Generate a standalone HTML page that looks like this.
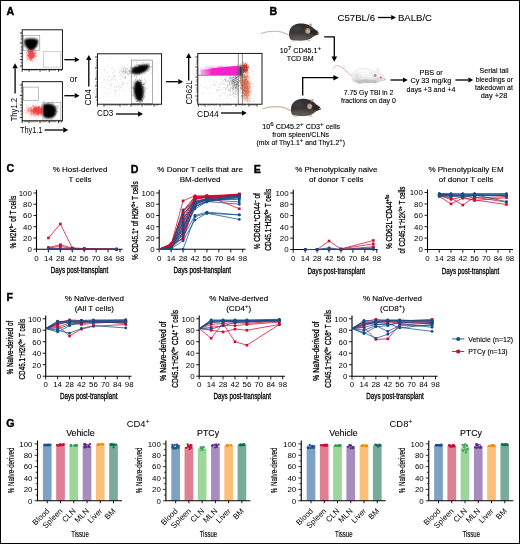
<!DOCTYPE html>
<html><head><meta charset="utf-8"><style>html,body{margin:0;padding:0;background:#fff;overflow:hidden}svg{display:block;will-change:transform}</style></head>
<body><svg width="520" height="544" viewBox="0 0 520 544" font-family="Liberation Sans, sans-serif">
<rect x="0.5" y="0.5" width="519" height="543" fill="#fff" stroke="#000" stroke-width="1"/>
<text x="6.5" y="15.2" font-size="10.6" text-anchor="start" font-weight="bold" fill="#000" stroke="#000" stroke-width="0.4">A</text>
<text x="269.5" y="15.2" font-size="10.6" text-anchor="start" font-weight="bold" fill="#000" stroke="#000" stroke-width="0.4">B</text>
<text x="6.5" y="172.3" font-size="10.6" text-anchor="start" font-weight="bold" fill="#000" stroke="#000" stroke-width="0.4">C</text>
<text x="130.8" y="172.5" font-size="10.6" text-anchor="start" font-weight="bold" fill="#000" stroke="#000" stroke-width="0.4">D</text>
<text x="253.8" y="172.8" font-size="10.6" text-anchor="start" font-weight="bold" fill="#000" stroke="#000" stroke-width="0.4">E</text>
<text x="6.5" y="300.6" font-size="10.6" text-anchor="start" font-weight="bold" fill="#000" stroke="#000" stroke-width="0.4">F</text>
<text x="6.3" y="427" font-size="10.6" text-anchor="start" font-weight="bold" fill="#000" stroke="#000" stroke-width="0.4">G</text>
<path d="M36.5 189.8 V249.2 H122.5" fill="none" stroke="#000" stroke-width="1.1"/>
<line x1="33.5" y1="249.20" x2="36.5" y2="249.20" stroke="#000" stroke-width="0.9"/>
<text x="31.90" y="252.00" font-size="7.9" text-anchor="end" font-weight="normal" fill="#000" >0</text>
<line x1="33.5" y1="237.96" x2="36.5" y2="237.96" stroke="#000" stroke-width="0.9"/>
<text x="31.90" y="240.76" font-size="7.9" text-anchor="end" font-weight="normal" fill="#000" >20</text>
<line x1="33.5" y1="226.72" x2="36.5" y2="226.72" stroke="#000" stroke-width="0.9"/>
<text x="31.90" y="229.52" font-size="7.9" text-anchor="end" font-weight="normal" fill="#000" >40</text>
<line x1="33.5" y1="215.48" x2="36.5" y2="215.48" stroke="#000" stroke-width="0.9"/>
<text x="31.90" y="218.28" font-size="7.9" text-anchor="end" font-weight="normal" fill="#000" >60</text>
<line x1="33.5" y1="204.24" x2="36.5" y2="204.24" stroke="#000" stroke-width="0.9"/>
<text x="31.90" y="207.04" font-size="7.9" text-anchor="end" font-weight="normal" fill="#000" >80</text>
<line x1="33.5" y1="193.00" x2="36.5" y2="193.00" stroke="#000" stroke-width="0.9"/>
<text x="31.90" y="195.80" font-size="7.9" text-anchor="end" font-weight="normal" fill="#000" >100</text>
<line x1="36.50" y1="249.2" x2="36.50" y2="252.39999999999998" stroke="#000" stroke-width="0.9"/>
<text x="36.50" y="261.00" font-size="7.9" text-anchor="middle" font-weight="normal" fill="#000" >0</text>
<line x1="48.43" y1="249.2" x2="48.43" y2="252.39999999999998" stroke="#000" stroke-width="0.9"/>
<text x="48.43" y="261.00" font-size="7.9" text-anchor="middle" font-weight="normal" fill="#000" >14</text>
<line x1="60.36" y1="249.2" x2="60.36" y2="252.39999999999998" stroke="#000" stroke-width="0.9"/>
<text x="60.36" y="261.00" font-size="7.9" text-anchor="middle" font-weight="normal" fill="#000" >28</text>
<line x1="72.28" y1="249.2" x2="72.28" y2="252.39999999999998" stroke="#000" stroke-width="0.9"/>
<text x="72.28" y="261.00" font-size="7.9" text-anchor="middle" font-weight="normal" fill="#000" >42</text>
<line x1="84.21" y1="249.2" x2="84.21" y2="252.39999999999998" stroke="#000" stroke-width="0.9"/>
<text x="84.21" y="261.00" font-size="7.9" text-anchor="middle" font-weight="normal" fill="#000" >56</text>
<line x1="96.14" y1="249.2" x2="96.14" y2="252.39999999999998" stroke="#000" stroke-width="0.9"/>
<text x="96.14" y="261.00" font-size="7.9" text-anchor="middle" font-weight="normal" fill="#000" >70</text>
<line x1="108.07" y1="249.2" x2="108.07" y2="252.39999999999998" stroke="#000" stroke-width="0.9"/>
<text x="108.07" y="261.00" font-size="7.9" text-anchor="middle" font-weight="normal" fill="#000" >84</text>
<line x1="120.00" y1="249.2" x2="120.00" y2="252.39999999999998" stroke="#000" stroke-width="0.9"/>
<text x="120.00" y="261.00" font-size="7.9" text-anchor="middle" font-weight="normal" fill="#000" >98</text>
<path d="M48.43 237.96 L60.36 223.91 L72.28 248.08 L84.21 248.64 L116.59 249.20" fill="none" stroke="#cf0a2c" stroke-width="0.75" stroke-linejoin="round"/>
<path d="M48.43 247.51 L60.36 244.70 L72.28 248.08 L84.21 248.64 L116.59 249.20" fill="none" stroke="#cf0a2c" stroke-width="0.75" stroke-linejoin="round"/>
<path d="M48.43 248.08 L60.36 246.39 L72.28 248.64 L84.21 248.64 L116.59 249.20" fill="none" stroke="#cf0a2c" stroke-width="0.75" stroke-linejoin="round"/>
<path d="M48.43 248.64 L60.36 248.64 L72.28 248.64 L84.21 249.20 L116.59 249.20" fill="none" stroke="#cf0a2c" stroke-width="0.75" stroke-linejoin="round"/>
<path d="M48.43 248.64 L60.36 248.92 L72.28 249.20 L84.21 249.20 L116.59 249.20" fill="none" stroke="#114f8c" stroke-width="0.75" stroke-linejoin="round"/>
<path d="M48.43 249.20 L60.36 249.20 L72.28 249.20 L84.21 249.20 L116.59 249.20" fill="none" stroke="#114f8c" stroke-width="0.75" stroke-linejoin="round"/>
<rect x="47.13" y="236.66" width="2.6" height="2.6" fill="#cf0a2c"/>
<rect x="59.06" y="222.61" width="2.6" height="2.6" fill="#cf0a2c"/>
<rect x="70.98" y="246.78" width="2.6" height="2.6" fill="#cf0a2c"/>
<rect x="82.91" y="247.34" width="2.6" height="2.6" fill="#cf0a2c"/>
<rect x="115.29" y="247.90" width="2.6" height="2.6" fill="#cf0a2c"/>
<rect x="47.13" y="246.21" width="2.6" height="2.6" fill="#cf0a2c"/>
<rect x="59.06" y="243.40" width="2.6" height="2.6" fill="#cf0a2c"/>
<rect x="70.98" y="246.78" width="2.6" height="2.6" fill="#cf0a2c"/>
<rect x="82.91" y="247.34" width="2.6" height="2.6" fill="#cf0a2c"/>
<rect x="115.29" y="247.90" width="2.6" height="2.6" fill="#cf0a2c"/>
<rect x="47.13" y="246.78" width="2.6" height="2.6" fill="#cf0a2c"/>
<rect x="59.06" y="245.09" width="2.6" height="2.6" fill="#cf0a2c"/>
<rect x="70.98" y="247.34" width="2.6" height="2.6" fill="#cf0a2c"/>
<rect x="82.91" y="247.34" width="2.6" height="2.6" fill="#cf0a2c"/>
<rect x="115.29" y="247.90" width="2.6" height="2.6" fill="#cf0a2c"/>
<rect x="47.13" y="247.34" width="2.6" height="2.6" fill="#cf0a2c"/>
<rect x="59.06" y="247.34" width="2.6" height="2.6" fill="#cf0a2c"/>
<rect x="70.98" y="247.34" width="2.6" height="2.6" fill="#cf0a2c"/>
<rect x="82.91" y="247.90" width="2.6" height="2.6" fill="#cf0a2c"/>
<rect x="115.29" y="247.90" width="2.6" height="2.6" fill="#cf0a2c"/>
<circle cx="48.43" cy="248.64" r="1.4" fill="#114f8c"/>
<circle cx="60.36" cy="248.92" r="1.4" fill="#114f8c"/>
<circle cx="72.28" cy="249.20" r="1.4" fill="#114f8c"/>
<circle cx="84.21" cy="249.20" r="1.4" fill="#114f8c"/>
<circle cx="116.59" cy="249.20" r="1.4" fill="#114f8c"/>
<circle cx="48.43" cy="249.20" r="1.4" fill="#114f8c"/>
<circle cx="60.36" cy="249.20" r="1.4" fill="#114f8c"/>
<circle cx="72.28" cy="249.20" r="1.4" fill="#114f8c"/>
<circle cx="84.21" cy="249.20" r="1.4" fill="#114f8c"/>
<circle cx="116.59" cy="249.20" r="1.4" fill="#114f8c"/>
<text x="79.50" y="273.40" font-size="8.8" text-anchor="middle" font-weight="normal" fill="#000" textLength="57.5" lengthAdjust="spacingAndGlyphs" stroke="#000" stroke-width="0.3">Days post-transplant</text>
<text x="80" y="172.2" font-size="8.0" text-anchor="middle" font-weight="normal" fill="#000" stroke="#000" stroke-width="0.12">% Host-derived</text>
<text x="80" y="182.0" font-size="8.0" text-anchor="middle" font-weight="normal" fill="#000" stroke="#000" stroke-width="0.12">T cells</text>
<g transform="translate(15.9,222.2) rotate(-90)">
<text x="0" y="0" font-size="9.6" text-anchor="middle" font-weight="normal" fill="#000" textLength="52.8" lengthAdjust="spacingAndGlyphs" stroke="#000" stroke-width="0.3">% H2K<tspan font-size="6.2" baseline-shift="3">b–</tspan> of T cells</text>
</g>
<path d="M159.2 189.8 V249.2 H245.6" fill="none" stroke="#000" stroke-width="1.1"/>
<line x1="156.2" y1="249.20" x2="159.2" y2="249.20" stroke="#000" stroke-width="0.9"/>
<text x="154.60" y="252.00" font-size="7.9" text-anchor="end" font-weight="normal" fill="#000" >0</text>
<line x1="156.2" y1="237.96" x2="159.2" y2="237.96" stroke="#000" stroke-width="0.9"/>
<text x="154.60" y="240.76" font-size="7.9" text-anchor="end" font-weight="normal" fill="#000" >20</text>
<line x1="156.2" y1="226.72" x2="159.2" y2="226.72" stroke="#000" stroke-width="0.9"/>
<text x="154.60" y="229.52" font-size="7.9" text-anchor="end" font-weight="normal" fill="#000" >40</text>
<line x1="156.2" y1="215.48" x2="159.2" y2="215.48" stroke="#000" stroke-width="0.9"/>
<text x="154.60" y="218.28" font-size="7.9" text-anchor="end" font-weight="normal" fill="#000" >60</text>
<line x1="156.2" y1="204.24" x2="159.2" y2="204.24" stroke="#000" stroke-width="0.9"/>
<text x="154.60" y="207.04" font-size="7.9" text-anchor="end" font-weight="normal" fill="#000" >80</text>
<line x1="156.2" y1="193.00" x2="159.2" y2="193.00" stroke="#000" stroke-width="0.9"/>
<text x="154.60" y="195.80" font-size="7.9" text-anchor="end" font-weight="normal" fill="#000" >100</text>
<line x1="159.20" y1="249.2" x2="159.20" y2="252.39999999999998" stroke="#000" stroke-width="0.9"/>
<text x="159.20" y="261.00" font-size="7.9" text-anchor="middle" font-weight="normal" fill="#000" >0</text>
<line x1="171.13" y1="249.2" x2="171.13" y2="252.39999999999998" stroke="#000" stroke-width="0.9"/>
<text x="171.13" y="261.00" font-size="7.9" text-anchor="middle" font-weight="normal" fill="#000" >14</text>
<line x1="183.06" y1="249.2" x2="183.06" y2="252.39999999999998" stroke="#000" stroke-width="0.9"/>
<text x="183.06" y="261.00" font-size="7.9" text-anchor="middle" font-weight="normal" fill="#000" >28</text>
<line x1="194.98" y1="249.2" x2="194.98" y2="252.39999999999998" stroke="#000" stroke-width="0.9"/>
<text x="194.98" y="261.00" font-size="7.9" text-anchor="middle" font-weight="normal" fill="#000" >42</text>
<line x1="206.91" y1="249.2" x2="206.91" y2="252.39999999999998" stroke="#000" stroke-width="0.9"/>
<text x="206.91" y="261.00" font-size="7.9" text-anchor="middle" font-weight="normal" fill="#000" >56</text>
<line x1="218.84" y1="249.2" x2="218.84" y2="252.39999999999998" stroke="#000" stroke-width="0.9"/>
<text x="218.84" y="261.00" font-size="7.9" text-anchor="middle" font-weight="normal" fill="#000" >70</text>
<line x1="230.77" y1="249.2" x2="230.77" y2="252.39999999999998" stroke="#000" stroke-width="0.9"/>
<text x="230.77" y="261.00" font-size="7.9" text-anchor="middle" font-weight="normal" fill="#000" >84</text>
<line x1="242.70" y1="249.2" x2="242.70" y2="252.39999999999998" stroke="#000" stroke-width="0.9"/>
<text x="242.70" y="261.00" font-size="7.9" text-anchor="middle" font-weight="normal" fill="#000" >98</text>
<path d="M159.20 249.20 L171.13 245.27 L183.06 210.98 L194.98 196.37 L206.91 196.93 L239.29 194.69" fill="none" stroke="#cf0a2c" stroke-width="0.75" stroke-linejoin="round"/>
<path d="M159.20 249.20 L171.13 244.14 L183.06 212.67 L194.98 196.93 L206.91 197.50 L239.29 194.12" fill="none" stroke="#cf0a2c" stroke-width="0.75" stroke-linejoin="round"/>
<path d="M159.20 249.20 L171.13 245.83 L183.06 215.48 L194.98 197.50 L206.91 195.81 L239.29 195.25" fill="none" stroke="#cf0a2c" stroke-width="0.75" stroke-linejoin="round"/>
<path d="M159.20 249.20 L171.13 243.58 L183.06 218.29 L194.98 198.62 L206.91 196.37 L239.29 194.69" fill="none" stroke="#cf0a2c" stroke-width="0.75" stroke-linejoin="round"/>
<path d="M159.20 249.20 L171.13 244.70 L183.06 223.91 L194.98 199.74 L206.91 196.93 L239.29 194.12" fill="none" stroke="#cf0a2c" stroke-width="0.75" stroke-linejoin="round"/>
<path d="M159.20 249.20 L171.13 246.39 L183.06 229.53 L194.98 196.93 L206.91 197.50 L239.29 195.81" fill="none" stroke="#cf0a2c" stroke-width="0.75" stroke-linejoin="round"/>
<path d="M159.20 249.20 L171.13 245.27 L183.06 232.34 L194.98 201.43 L206.91 198.62 L239.29 195.25" fill="none" stroke="#cf0a2c" stroke-width="0.75" stroke-linejoin="round"/>
<path d="M159.20 249.20 L171.13 246.95 L183.06 235.15 L194.98 198.62 L206.91 197.50 L239.29 194.69" fill="none" stroke="#cf0a2c" stroke-width="0.75" stroke-linejoin="round"/>
<path d="M159.20 249.20 L171.13 245.83 L183.06 237.96 L194.98 203.12 L206.91 198.62 L239.29 195.81" fill="none" stroke="#cf0a2c" stroke-width="0.75" stroke-linejoin="round"/>
<path d="M159.20 249.20 L171.13 244.14 L183.06 239.08 L194.98 204.24 L206.91 199.74 L239.29 196.37" fill="none" stroke="#cf0a2c" stroke-width="0.75" stroke-linejoin="round"/>
<path d="M159.20 249.20 L171.13 246.39 L183.06 221.10 L194.98 198.06 L206.91 195.81 L239.29 194.12" fill="none" stroke="#cf0a2c" stroke-width="0.75" stroke-linejoin="round"/>
<path d="M159.20 249.20 L171.13 244.70 L183.06 226.72 L194.98 199.18 L206.91 196.93 L239.29 195.25" fill="none" stroke="#cf0a2c" stroke-width="0.75" stroke-linejoin="round"/>
<path d="M159.20 249.20 L171.13 249.20 L183.06 249.20 L194.98 216.60 L206.91 213.23 L239.29 219.41" fill="none" stroke="#114f8c" stroke-width="0.75" stroke-linejoin="round"/>
<path d="M159.20 249.20 L171.13 248.64 L183.06 240.77 L194.98 219.98 L206.91 213.23 L239.29 214.92" fill="none" stroke="#114f8c" stroke-width="0.75" stroke-linejoin="round"/>
<path d="M159.20 249.20 L171.13 248.08 L183.06 236.84 L194.98 215.48 L206.91 212.11 L239.29 214.92" fill="none" stroke="#114f8c" stroke-width="0.75" stroke-linejoin="round"/>
<path d="M159.20 249.20 L171.13 248.08 L183.06 232.34 L194.98 207.05 L206.91 201.43 L239.29 204.24" fill="none" stroke="#114f8c" stroke-width="0.75" stroke-linejoin="round"/>
<path d="M159.20 249.20 L171.13 247.51 L183.06 227.84 L194.98 204.24 L206.91 199.74 L239.29 201.99" fill="none" stroke="#114f8c" stroke-width="0.75" stroke-linejoin="round"/>
<path d="M159.20 249.20 L171.13 248.08 L183.06 222.22 L194.98 203.12 L206.91 198.62 L239.29 199.74" fill="none" stroke="#114f8c" stroke-width="0.75" stroke-linejoin="round"/>
<path d="M159.20 249.20 L171.13 248.64 L183.06 218.29 L194.98 205.36 L206.91 200.87 L239.29 197.50" fill="none" stroke="#114f8c" stroke-width="0.75" stroke-linejoin="round"/>
<path d="M159.20 249.20 L171.13 247.51 L183.06 214.36 L194.98 201.43 L206.91 198.62 L239.29 195.81" fill="none" stroke="#114f8c" stroke-width="0.75" stroke-linejoin="round"/>
<path d="M159.20 249.20 L171.13 248.08 L183.06 233.46 L194.98 208.74 L206.91 201.99 L239.29 196.93" fill="none" stroke="#114f8c" stroke-width="0.75" stroke-linejoin="round"/>
<path d="M159.20 249.20 L171.13 246.95 L183.06 209.86 L194.98 201.99 L206.91 199.74 L239.29 198.62" fill="none" stroke="#114f8c" stroke-width="0.75" stroke-linejoin="round"/>
<path d="M159.20 249.20 L171.13 248.64 L183.06 225.60 L194.98 206.49 L206.91 201.43 L239.29 195.25" fill="none" stroke="#114f8c" stroke-width="0.75" stroke-linejoin="round"/>
<path d="M159.20 249.20 L171.13 248.08 L183.06 229.53 L194.98 202.55 L206.91 200.31 L239.29 196.37" fill="none" stroke="#114f8c" stroke-width="0.75" stroke-linejoin="round"/>
<path d="M159.20 249.20 L171.13 244.70 L183.06 200.87 L194.98 195.81 L206.91 195.81 L239.29 208.74" fill="none" stroke="#cf0a2c" stroke-width="0.75" stroke-linejoin="round"/>
<rect x="169.83" y="243.97" width="2.6" height="2.6" fill="#cf0a2c"/>
<rect x="181.76" y="209.68" width="2.6" height="2.6" fill="#cf0a2c"/>
<rect x="193.68" y="195.07" width="2.6" height="2.6" fill="#cf0a2c"/>
<rect x="205.61" y="195.63" width="2.6" height="2.6" fill="#cf0a2c"/>
<rect x="237.99" y="193.39" width="2.6" height="2.6" fill="#cf0a2c"/>
<rect x="169.83" y="242.84" width="2.6" height="2.6" fill="#cf0a2c"/>
<rect x="181.76" y="211.37" width="2.6" height="2.6" fill="#cf0a2c"/>
<rect x="193.68" y="195.63" width="2.6" height="2.6" fill="#cf0a2c"/>
<rect x="205.61" y="196.20" width="2.6" height="2.6" fill="#cf0a2c"/>
<rect x="237.99" y="192.82" width="2.6" height="2.6" fill="#cf0a2c"/>
<rect x="169.83" y="244.53" width="2.6" height="2.6" fill="#cf0a2c"/>
<rect x="181.76" y="214.18" width="2.6" height="2.6" fill="#cf0a2c"/>
<rect x="193.68" y="196.20" width="2.6" height="2.6" fill="#cf0a2c"/>
<rect x="205.61" y="194.51" width="2.6" height="2.6" fill="#cf0a2c"/>
<rect x="237.99" y="193.95" width="2.6" height="2.6" fill="#cf0a2c"/>
<rect x="169.83" y="242.28" width="2.6" height="2.6" fill="#cf0a2c"/>
<rect x="181.76" y="216.99" width="2.6" height="2.6" fill="#cf0a2c"/>
<rect x="193.68" y="197.32" width="2.6" height="2.6" fill="#cf0a2c"/>
<rect x="205.61" y="195.07" width="2.6" height="2.6" fill="#cf0a2c"/>
<rect x="237.99" y="193.39" width="2.6" height="2.6" fill="#cf0a2c"/>
<rect x="169.83" y="243.40" width="2.6" height="2.6" fill="#cf0a2c"/>
<rect x="181.76" y="222.61" width="2.6" height="2.6" fill="#cf0a2c"/>
<rect x="193.68" y="198.44" width="2.6" height="2.6" fill="#cf0a2c"/>
<rect x="205.61" y="195.63" width="2.6" height="2.6" fill="#cf0a2c"/>
<rect x="237.99" y="192.82" width="2.6" height="2.6" fill="#cf0a2c"/>
<rect x="169.83" y="245.09" width="2.6" height="2.6" fill="#cf0a2c"/>
<rect x="181.76" y="228.23" width="2.6" height="2.6" fill="#cf0a2c"/>
<rect x="193.68" y="195.63" width="2.6" height="2.6" fill="#cf0a2c"/>
<rect x="205.61" y="196.20" width="2.6" height="2.6" fill="#cf0a2c"/>
<rect x="237.99" y="194.51" width="2.6" height="2.6" fill="#cf0a2c"/>
<rect x="169.83" y="243.97" width="2.6" height="2.6" fill="#cf0a2c"/>
<rect x="181.76" y="231.04" width="2.6" height="2.6" fill="#cf0a2c"/>
<rect x="193.68" y="200.13" width="2.6" height="2.6" fill="#cf0a2c"/>
<rect x="205.61" y="197.32" width="2.6" height="2.6" fill="#cf0a2c"/>
<rect x="237.99" y="193.95" width="2.6" height="2.6" fill="#cf0a2c"/>
<rect x="169.83" y="245.65" width="2.6" height="2.6" fill="#cf0a2c"/>
<rect x="181.76" y="233.85" width="2.6" height="2.6" fill="#cf0a2c"/>
<rect x="193.68" y="197.32" width="2.6" height="2.6" fill="#cf0a2c"/>
<rect x="205.61" y="196.20" width="2.6" height="2.6" fill="#cf0a2c"/>
<rect x="237.99" y="193.39" width="2.6" height="2.6" fill="#cf0a2c"/>
<rect x="169.83" y="244.53" width="2.6" height="2.6" fill="#cf0a2c"/>
<rect x="181.76" y="236.66" width="2.6" height="2.6" fill="#cf0a2c"/>
<rect x="193.68" y="201.82" width="2.6" height="2.6" fill="#cf0a2c"/>
<rect x="205.61" y="197.32" width="2.6" height="2.6" fill="#cf0a2c"/>
<rect x="237.99" y="194.51" width="2.6" height="2.6" fill="#cf0a2c"/>
<rect x="169.83" y="242.84" width="2.6" height="2.6" fill="#cf0a2c"/>
<rect x="181.76" y="237.78" width="2.6" height="2.6" fill="#cf0a2c"/>
<rect x="193.68" y="202.94" width="2.6" height="2.6" fill="#cf0a2c"/>
<rect x="205.61" y="198.44" width="2.6" height="2.6" fill="#cf0a2c"/>
<rect x="237.99" y="195.07" width="2.6" height="2.6" fill="#cf0a2c"/>
<rect x="169.83" y="245.09" width="2.6" height="2.6" fill="#cf0a2c"/>
<rect x="181.76" y="219.80" width="2.6" height="2.6" fill="#cf0a2c"/>
<rect x="193.68" y="196.76" width="2.6" height="2.6" fill="#cf0a2c"/>
<rect x="205.61" y="194.51" width="2.6" height="2.6" fill="#cf0a2c"/>
<rect x="237.99" y="192.82" width="2.6" height="2.6" fill="#cf0a2c"/>
<rect x="169.83" y="243.40" width="2.6" height="2.6" fill="#cf0a2c"/>
<rect x="181.76" y="225.42" width="2.6" height="2.6" fill="#cf0a2c"/>
<rect x="193.68" y="197.88" width="2.6" height="2.6" fill="#cf0a2c"/>
<rect x="205.61" y="195.63" width="2.6" height="2.6" fill="#cf0a2c"/>
<rect x="237.99" y="193.95" width="2.6" height="2.6" fill="#cf0a2c"/>
<circle cx="171.13" cy="249.20" r="1.4" fill="#114f8c"/>
<circle cx="183.06" cy="249.20" r="1.4" fill="#114f8c"/>
<circle cx="194.98" cy="216.60" r="1.4" fill="#114f8c"/>
<circle cx="206.91" cy="213.23" r="1.4" fill="#114f8c"/>
<circle cx="239.29" cy="219.41" r="1.4" fill="#114f8c"/>
<circle cx="171.13" cy="248.64" r="1.4" fill="#114f8c"/>
<circle cx="183.06" cy="240.77" r="1.4" fill="#114f8c"/>
<circle cx="194.98" cy="219.98" r="1.4" fill="#114f8c"/>
<circle cx="206.91" cy="213.23" r="1.4" fill="#114f8c"/>
<circle cx="239.29" cy="214.92" r="1.4" fill="#114f8c"/>
<circle cx="171.13" cy="248.08" r="1.4" fill="#114f8c"/>
<circle cx="183.06" cy="236.84" r="1.4" fill="#114f8c"/>
<circle cx="194.98" cy="215.48" r="1.4" fill="#114f8c"/>
<circle cx="206.91" cy="212.11" r="1.4" fill="#114f8c"/>
<circle cx="239.29" cy="214.92" r="1.4" fill="#114f8c"/>
<circle cx="171.13" cy="248.08" r="1.4" fill="#114f8c"/>
<circle cx="183.06" cy="232.34" r="1.4" fill="#114f8c"/>
<circle cx="194.98" cy="207.05" r="1.4" fill="#114f8c"/>
<circle cx="206.91" cy="201.43" r="1.4" fill="#114f8c"/>
<circle cx="239.29" cy="204.24" r="1.4" fill="#114f8c"/>
<circle cx="171.13" cy="247.51" r="1.4" fill="#114f8c"/>
<circle cx="183.06" cy="227.84" r="1.4" fill="#114f8c"/>
<circle cx="194.98" cy="204.24" r="1.4" fill="#114f8c"/>
<circle cx="206.91" cy="199.74" r="1.4" fill="#114f8c"/>
<circle cx="239.29" cy="201.99" r="1.4" fill="#114f8c"/>
<circle cx="171.13" cy="248.08" r="1.4" fill="#114f8c"/>
<circle cx="183.06" cy="222.22" r="1.4" fill="#114f8c"/>
<circle cx="194.98" cy="203.12" r="1.4" fill="#114f8c"/>
<circle cx="206.91" cy="198.62" r="1.4" fill="#114f8c"/>
<circle cx="239.29" cy="199.74" r="1.4" fill="#114f8c"/>
<circle cx="171.13" cy="248.64" r="1.4" fill="#114f8c"/>
<circle cx="183.06" cy="218.29" r="1.4" fill="#114f8c"/>
<circle cx="194.98" cy="205.36" r="1.4" fill="#114f8c"/>
<circle cx="206.91" cy="200.87" r="1.4" fill="#114f8c"/>
<circle cx="239.29" cy="197.50" r="1.4" fill="#114f8c"/>
<circle cx="171.13" cy="247.51" r="1.4" fill="#114f8c"/>
<circle cx="183.06" cy="214.36" r="1.4" fill="#114f8c"/>
<circle cx="194.98" cy="201.43" r="1.4" fill="#114f8c"/>
<circle cx="206.91" cy="198.62" r="1.4" fill="#114f8c"/>
<circle cx="239.29" cy="195.81" r="1.4" fill="#114f8c"/>
<circle cx="171.13" cy="248.08" r="1.4" fill="#114f8c"/>
<circle cx="183.06" cy="233.46" r="1.4" fill="#114f8c"/>
<circle cx="194.98" cy="208.74" r="1.4" fill="#114f8c"/>
<circle cx="206.91" cy="201.99" r="1.4" fill="#114f8c"/>
<circle cx="239.29" cy="196.93" r="1.4" fill="#114f8c"/>
<circle cx="171.13" cy="246.95" r="1.4" fill="#114f8c"/>
<circle cx="183.06" cy="209.86" r="1.4" fill="#114f8c"/>
<circle cx="194.98" cy="201.99" r="1.4" fill="#114f8c"/>
<circle cx="206.91" cy="199.74" r="1.4" fill="#114f8c"/>
<circle cx="239.29" cy="198.62" r="1.4" fill="#114f8c"/>
<circle cx="171.13" cy="248.64" r="1.4" fill="#114f8c"/>
<circle cx="183.06" cy="225.60" r="1.4" fill="#114f8c"/>
<circle cx="194.98" cy="206.49" r="1.4" fill="#114f8c"/>
<circle cx="206.91" cy="201.43" r="1.4" fill="#114f8c"/>
<circle cx="239.29" cy="195.25" r="1.4" fill="#114f8c"/>
<circle cx="171.13" cy="248.08" r="1.4" fill="#114f8c"/>
<circle cx="183.06" cy="229.53" r="1.4" fill="#114f8c"/>
<circle cx="194.98" cy="202.55" r="1.4" fill="#114f8c"/>
<circle cx="206.91" cy="200.31" r="1.4" fill="#114f8c"/>
<circle cx="239.29" cy="196.37" r="1.4" fill="#114f8c"/>
<rect x="169.83" y="243.40" width="2.6" height="2.6" fill="#cf0a2c"/>
<rect x="181.76" y="199.57" width="2.6" height="2.6" fill="#cf0a2c"/>
<rect x="193.68" y="194.51" width="2.6" height="2.6" fill="#cf0a2c"/>
<rect x="205.61" y="194.51" width="2.6" height="2.6" fill="#cf0a2c"/>
<rect x="237.99" y="207.44" width="2.6" height="2.6" fill="#cf0a2c"/>
<text x="202.20" y="273.40" font-size="8.8" text-anchor="middle" font-weight="normal" fill="#000" textLength="57.5" lengthAdjust="spacingAndGlyphs" stroke="#000" stroke-width="0.3">Days post-transplant</text>
<text x="200.1" y="172.4" font-size="8.0" text-anchor="middle" font-weight="normal" fill="#000" stroke="#000" stroke-width="0.12">% Donor T cells that are</text>
<text x="200.1" y="182.3" font-size="8.0" text-anchor="middle" font-weight="normal" fill="#000" stroke="#000" stroke-width="0.12">BM-derived</text>
<g transform="translate(137.9,220.7) rotate(-90)">
<text x="0" y="0" font-size="9.6" text-anchor="middle" font-weight="normal" fill="#000" textLength="78.7" lengthAdjust="spacingAndGlyphs" stroke="#000" stroke-width="0.3">% CD45.1<tspan font-size="6.2" baseline-shift="3">+</tspan> of H2K<tspan font-size="6.2" baseline-shift="3">b+</tspan> T cells</text>
</g>
<path d="M293.25 189.8 V249.5 H377.5" fill="none" stroke="#000" stroke-width="1.1"/>
<line x1="290.25" y1="249.50" x2="293.25" y2="249.50" stroke="#000" stroke-width="0.9"/>
<text x="288.65" y="252.30" font-size="7.9" text-anchor="end" font-weight="normal" fill="#000" >0</text>
<line x1="290.25" y1="238.20" x2="293.25" y2="238.20" stroke="#000" stroke-width="0.9"/>
<text x="288.65" y="241.00" font-size="7.9" text-anchor="end" font-weight="normal" fill="#000" >20</text>
<line x1="290.25" y1="226.90" x2="293.25" y2="226.90" stroke="#000" stroke-width="0.9"/>
<text x="288.65" y="229.70" font-size="7.9" text-anchor="end" font-weight="normal" fill="#000" >40</text>
<line x1="290.25" y1="215.60" x2="293.25" y2="215.60" stroke="#000" stroke-width="0.9"/>
<text x="288.65" y="218.40" font-size="7.9" text-anchor="end" font-weight="normal" fill="#000" >60</text>
<line x1="290.25" y1="204.30" x2="293.25" y2="204.30" stroke="#000" stroke-width="0.9"/>
<text x="288.65" y="207.10" font-size="7.9" text-anchor="end" font-weight="normal" fill="#000" >80</text>
<line x1="290.25" y1="193.00" x2="293.25" y2="193.00" stroke="#000" stroke-width="0.9"/>
<text x="288.65" y="195.80" font-size="7.9" text-anchor="end" font-weight="normal" fill="#000" >100</text>
<line x1="293.25" y1="249.5" x2="293.25" y2="252.7" stroke="#000" stroke-width="0.9"/>
<text x="293.25" y="261.30" font-size="7.9" text-anchor="middle" font-weight="normal" fill="#000" >0</text>
<line x1="305.18" y1="249.5" x2="305.18" y2="252.7" stroke="#000" stroke-width="0.9"/>
<text x="305.18" y="261.30" font-size="7.9" text-anchor="middle" font-weight="normal" fill="#000" >14</text>
<line x1="317.11" y1="249.5" x2="317.11" y2="252.7" stroke="#000" stroke-width="0.9"/>
<text x="317.11" y="261.30" font-size="7.9" text-anchor="middle" font-weight="normal" fill="#000" >28</text>
<line x1="329.03" y1="249.5" x2="329.03" y2="252.7" stroke="#000" stroke-width="0.9"/>
<text x="329.03" y="261.30" font-size="7.9" text-anchor="middle" font-weight="normal" fill="#000" >42</text>
<line x1="340.96" y1="249.5" x2="340.96" y2="252.7" stroke="#000" stroke-width="0.9"/>
<text x="340.96" y="261.30" font-size="7.9" text-anchor="middle" font-weight="normal" fill="#000" >56</text>
<line x1="352.89" y1="249.5" x2="352.89" y2="252.7" stroke="#000" stroke-width="0.9"/>
<text x="352.89" y="261.30" font-size="7.9" text-anchor="middle" font-weight="normal" fill="#000" >70</text>
<line x1="364.82" y1="249.5" x2="364.82" y2="252.7" stroke="#000" stroke-width="0.9"/>
<text x="364.82" y="261.30" font-size="7.9" text-anchor="middle" font-weight="normal" fill="#000" >84</text>
<line x1="376.75" y1="249.5" x2="376.75" y2="252.7" stroke="#000" stroke-width="0.9"/>
<text x="376.75" y="261.30" font-size="7.9" text-anchor="middle" font-weight="normal" fill="#000" >98</text>
<path d="M317.11 249.50 L329.03 241.03 L340.96 248.94 L373.34 240.46" fill="none" stroke="#cf0a2c" stroke-width="0.75" stroke-linejoin="round"/>
<path d="M340.96 248.94 L373.34 243.85" fill="none" stroke="#cf0a2c" stroke-width="0.75" stroke-linejoin="round"/>
<path d="M305.18 249.50 L317.11 249.50 L329.03 248.94 L340.96 249.50 L373.34 246.68" fill="none" stroke="#cf0a2c" stroke-width="0.75" stroke-linejoin="round"/>
<path d="M305.18 249.50 L317.11 249.50 L329.03 249.50 L340.96 249.50 L373.34 248.37" fill="none" stroke="#cf0a2c" stroke-width="0.75" stroke-linejoin="round"/>
<path d="M305.18 249.50 L317.11 249.50 L329.03 247.81 L340.96 249.50 L373.34 247.81" fill="none" stroke="#114f8c" stroke-width="0.75" stroke-linejoin="round"/>
<path d="M305.18 249.50 L317.11 249.50 L329.03 248.94 L340.96 249.50 L373.34 248.94" fill="none" stroke="#114f8c" stroke-width="0.75" stroke-linejoin="round"/>
<path d="M305.18 249.50 L317.11 249.50 L329.03 249.50 L340.96 249.50 L373.34 249.50" fill="none" stroke="#114f8c" stroke-width="0.75" stroke-linejoin="round"/>
<rect x="315.81" y="248.20" width="2.6" height="2.6" fill="#cf0a2c"/>
<rect x="327.73" y="239.72" width="2.6" height="2.6" fill="#cf0a2c"/>
<rect x="339.66" y="247.63" width="2.6" height="2.6" fill="#cf0a2c"/>
<rect x="372.04" y="239.16" width="2.6" height="2.6" fill="#cf0a2c"/>
<rect x="339.66" y="247.63" width="2.6" height="2.6" fill="#cf0a2c"/>
<rect x="372.04" y="242.55" width="2.6" height="2.6" fill="#cf0a2c"/>
<rect x="303.88" y="248.20" width="2.6" height="2.6" fill="#cf0a2c"/>
<rect x="315.81" y="248.20" width="2.6" height="2.6" fill="#cf0a2c"/>
<rect x="327.73" y="247.63" width="2.6" height="2.6" fill="#cf0a2c"/>
<rect x="339.66" y="248.20" width="2.6" height="2.6" fill="#cf0a2c"/>
<rect x="372.04" y="245.38" width="2.6" height="2.6" fill="#cf0a2c"/>
<rect x="303.88" y="248.20" width="2.6" height="2.6" fill="#cf0a2c"/>
<rect x="315.81" y="248.20" width="2.6" height="2.6" fill="#cf0a2c"/>
<rect x="327.73" y="248.20" width="2.6" height="2.6" fill="#cf0a2c"/>
<rect x="339.66" y="248.20" width="2.6" height="2.6" fill="#cf0a2c"/>
<rect x="372.04" y="247.07" width="2.6" height="2.6" fill="#cf0a2c"/>
<circle cx="305.18" cy="249.50" r="1.4" fill="#114f8c"/>
<circle cx="317.11" cy="249.50" r="1.4" fill="#114f8c"/>
<circle cx="329.03" cy="247.81" r="1.4" fill="#114f8c"/>
<circle cx="340.96" cy="249.50" r="1.4" fill="#114f8c"/>
<circle cx="373.34" cy="247.81" r="1.4" fill="#114f8c"/>
<circle cx="305.18" cy="249.50" r="1.4" fill="#114f8c"/>
<circle cx="317.11" cy="249.50" r="1.4" fill="#114f8c"/>
<circle cx="329.03" cy="248.94" r="1.4" fill="#114f8c"/>
<circle cx="340.96" cy="249.50" r="1.4" fill="#114f8c"/>
<circle cx="373.34" cy="248.94" r="1.4" fill="#114f8c"/>
<circle cx="305.18" cy="249.50" r="1.4" fill="#114f8c"/>
<circle cx="317.11" cy="249.50" r="1.4" fill="#114f8c"/>
<circle cx="329.03" cy="249.50" r="1.4" fill="#114f8c"/>
<circle cx="340.96" cy="249.50" r="1.4" fill="#114f8c"/>
<circle cx="373.34" cy="249.50" r="1.4" fill="#114f8c"/>
<text x="336.25" y="273.70" font-size="8.8" text-anchor="middle" font-weight="normal" fill="#000" textLength="57.5" lengthAdjust="spacingAndGlyphs" stroke="#000" stroke-width="0.3">Days post-transplant</text>
<text x="336.3" y="172.2" font-size="8.0" text-anchor="middle" font-weight="normal" fill="#000" stroke="#000" stroke-width="0.12">% Phenotypically naive</text>
<text x="336.3" y="182.0" font-size="8.0" text-anchor="middle" font-weight="normal" fill="#000" stroke="#000" stroke-width="0.12">of donor T cells</text>
<g transform="translate(260.1,221.2) rotate(-90)">
<text x="0" y="0" font-size="9.6" text-anchor="middle" font-weight="normal" fill="#000" textLength="56" lengthAdjust="spacingAndGlyphs" stroke="#000" stroke-width="0.3">% CD62L<tspan font-size="6.2" baseline-shift="3">+</tspan>CD44<tspan font-size="6.2" baseline-shift="3">–</tspan> of</text>
</g><g transform="translate(271.1,219.7) rotate(-90)">
<text x="0" y="0" font-size="9.6" text-anchor="middle" font-weight="normal" fill="#000" textLength="62" lengthAdjust="spacingAndGlyphs" stroke="#000" stroke-width="0.3">CD45.1<tspan font-size="6.2" baseline-shift="3">–</tspan>H2K<tspan font-size="6.2" baseline-shift="3">b+</tspan> T cells</text>
</g>
<path d="M427.5 189.5 V249.5 H513.0" fill="none" stroke="#000" stroke-width="1.1"/>
<line x1="424.5" y1="249.50" x2="427.5" y2="249.50" stroke="#000" stroke-width="0.9"/>
<text x="422.90" y="252.30" font-size="7.9" text-anchor="end" font-weight="normal" fill="#000" >0</text>
<line x1="424.5" y1="238.10" x2="427.5" y2="238.10" stroke="#000" stroke-width="0.9"/>
<text x="422.90" y="240.90" font-size="7.9" text-anchor="end" font-weight="normal" fill="#000" >20</text>
<line x1="424.5" y1="226.70" x2="427.5" y2="226.70" stroke="#000" stroke-width="0.9"/>
<text x="422.90" y="229.50" font-size="7.9" text-anchor="end" font-weight="normal" fill="#000" >40</text>
<line x1="424.5" y1="215.30" x2="427.5" y2="215.30" stroke="#000" stroke-width="0.9"/>
<text x="422.90" y="218.10" font-size="7.9" text-anchor="end" font-weight="normal" fill="#000" >60</text>
<line x1="424.5" y1="203.90" x2="427.5" y2="203.90" stroke="#000" stroke-width="0.9"/>
<text x="422.90" y="206.70" font-size="7.9" text-anchor="end" font-weight="normal" fill="#000" >80</text>
<line x1="424.5" y1="192.50" x2="427.5" y2="192.50" stroke="#000" stroke-width="0.9"/>
<text x="422.90" y="195.30" font-size="7.9" text-anchor="end" font-weight="normal" fill="#000" >100</text>
<line x1="427.50" y1="249.5" x2="427.50" y2="252.7" stroke="#000" stroke-width="0.9"/>
<text x="427.50" y="261.30" font-size="7.9" text-anchor="middle" font-weight="normal" fill="#000" >0</text>
<line x1="439.26" y1="249.5" x2="439.26" y2="252.7" stroke="#000" stroke-width="0.9"/>
<text x="439.26" y="261.30" font-size="7.9" text-anchor="middle" font-weight="normal" fill="#000" >14</text>
<line x1="451.02" y1="249.5" x2="451.02" y2="252.7" stroke="#000" stroke-width="0.9"/>
<text x="451.02" y="261.30" font-size="7.9" text-anchor="middle" font-weight="normal" fill="#000" >28</text>
<line x1="462.78" y1="249.5" x2="462.78" y2="252.7" stroke="#000" stroke-width="0.9"/>
<text x="462.78" y="261.30" font-size="7.9" text-anchor="middle" font-weight="normal" fill="#000" >42</text>
<line x1="474.54" y1="249.5" x2="474.54" y2="252.7" stroke="#000" stroke-width="0.9"/>
<text x="474.54" y="261.30" font-size="7.9" text-anchor="middle" font-weight="normal" fill="#000" >56</text>
<line x1="486.30" y1="249.5" x2="486.30" y2="252.7" stroke="#000" stroke-width="0.9"/>
<text x="486.30" y="261.30" font-size="7.9" text-anchor="middle" font-weight="normal" fill="#000" >70</text>
<line x1="498.06" y1="249.5" x2="498.06" y2="252.7" stroke="#000" stroke-width="0.9"/>
<text x="498.06" y="261.30" font-size="7.9" text-anchor="middle" font-weight="normal" fill="#000" >84</text>
<line x1="509.82" y1="249.5" x2="509.82" y2="252.7" stroke="#000" stroke-width="0.9"/>
<text x="509.82" y="261.30" font-size="7.9" text-anchor="middle" font-weight="normal" fill="#000" >98</text>
<path d="M439.26 196.49 L451.02 203.90 L462.78 198.20 L474.54 199.91 L506.46 204.47" fill="none" stroke="#cf0a2c" stroke-width="0.75" stroke-linejoin="round"/>
<path d="M439.26 195.35 L451.02 198.20 L462.78 205.04 L474.54 197.06 L506.46 202.19" fill="none" stroke="#cf0a2c" stroke-width="0.75" stroke-linejoin="round"/>
<path d="M439.26 195.92 L451.02 199.34 L462.78 197.06 L474.54 200.48 L506.46 197.63" fill="none" stroke="#cf0a2c" stroke-width="0.75" stroke-linejoin="round"/>
<path d="M439.26 194.78 L451.02 195.92 L462.78 195.35 L474.54 198.20 L506.46 196.49" fill="none" stroke="#cf0a2c" stroke-width="0.75" stroke-linejoin="round"/>
<path d="M439.26 194.21 L451.02 194.78 L462.78 195.92 L474.54 195.35 L506.46 195.35" fill="none" stroke="#cf0a2c" stroke-width="0.75" stroke-linejoin="round"/>
<path d="M439.26 194.78 L451.02 195.35 L462.78 196.49 L474.54 194.78 L506.46 201.62" fill="none" stroke="#114f8c" stroke-width="0.75" stroke-linejoin="round"/>
<path d="M439.26 193.64 L451.02 194.21 L462.78 194.21 L474.54 194.21 L506.46 194.21" fill="none" stroke="#114f8c" stroke-width="0.75" stroke-linejoin="round"/>
<path d="M439.26 195.35 L451.02 195.92 L462.78 194.78 L474.54 195.35 L506.46 194.78" fill="none" stroke="#114f8c" stroke-width="0.75" stroke-linejoin="round"/>
<path d="M439.26 194.21 L451.02 194.78 L462.78 195.35 L474.54 193.64 L506.46 193.64" fill="none" stroke="#114f8c" stroke-width="0.75" stroke-linejoin="round"/>
<path d="M439.26 195.92 L451.02 196.49 L462.78 197.06 L474.54 195.92 L506.46 195.35" fill="none" stroke="#114f8c" stroke-width="0.75" stroke-linejoin="round"/>
<path d="M439.26 193.64 L451.02 193.64 L462.78 193.64 L474.54 194.21 L506.46 195.92" fill="none" stroke="#114f8c" stroke-width="0.75" stroke-linejoin="round"/>
<rect x="437.96" y="195.19" width="2.6" height="2.6" fill="#cf0a2c"/>
<rect x="449.72" y="202.60" width="2.6" height="2.6" fill="#cf0a2c"/>
<rect x="461.48" y="196.90" width="2.6" height="2.6" fill="#cf0a2c"/>
<rect x="473.24" y="198.61" width="2.6" height="2.6" fill="#cf0a2c"/>
<rect x="505.16" y="203.17" width="2.6" height="2.6" fill="#cf0a2c"/>
<rect x="437.96" y="194.05" width="2.6" height="2.6" fill="#cf0a2c"/>
<rect x="449.72" y="196.90" width="2.6" height="2.6" fill="#cf0a2c"/>
<rect x="461.48" y="203.74" width="2.6" height="2.6" fill="#cf0a2c"/>
<rect x="473.24" y="195.76" width="2.6" height="2.6" fill="#cf0a2c"/>
<rect x="505.16" y="200.89" width="2.6" height="2.6" fill="#cf0a2c"/>
<rect x="437.96" y="194.62" width="2.6" height="2.6" fill="#cf0a2c"/>
<rect x="449.72" y="198.04" width="2.6" height="2.6" fill="#cf0a2c"/>
<rect x="461.48" y="195.76" width="2.6" height="2.6" fill="#cf0a2c"/>
<rect x="473.24" y="199.18" width="2.6" height="2.6" fill="#cf0a2c"/>
<rect x="505.16" y="196.33" width="2.6" height="2.6" fill="#cf0a2c"/>
<rect x="437.96" y="193.48" width="2.6" height="2.6" fill="#cf0a2c"/>
<rect x="449.72" y="194.62" width="2.6" height="2.6" fill="#cf0a2c"/>
<rect x="461.48" y="194.05" width="2.6" height="2.6" fill="#cf0a2c"/>
<rect x="473.24" y="196.90" width="2.6" height="2.6" fill="#cf0a2c"/>
<rect x="505.16" y="195.19" width="2.6" height="2.6" fill="#cf0a2c"/>
<rect x="437.96" y="192.91" width="2.6" height="2.6" fill="#cf0a2c"/>
<rect x="449.72" y="193.48" width="2.6" height="2.6" fill="#cf0a2c"/>
<rect x="461.48" y="194.62" width="2.6" height="2.6" fill="#cf0a2c"/>
<rect x="473.24" y="194.05" width="2.6" height="2.6" fill="#cf0a2c"/>
<rect x="505.16" y="194.05" width="2.6" height="2.6" fill="#cf0a2c"/>
<circle cx="439.26" cy="194.78" r="1.4" fill="#114f8c"/>
<circle cx="451.02" cy="195.35" r="1.4" fill="#114f8c"/>
<circle cx="462.78" cy="196.49" r="1.4" fill="#114f8c"/>
<circle cx="474.54" cy="194.78" r="1.4" fill="#114f8c"/>
<circle cx="506.46" cy="201.62" r="1.4" fill="#114f8c"/>
<circle cx="439.26" cy="193.64" r="1.4" fill="#114f8c"/>
<circle cx="451.02" cy="194.21" r="1.4" fill="#114f8c"/>
<circle cx="462.78" cy="194.21" r="1.4" fill="#114f8c"/>
<circle cx="474.54" cy="194.21" r="1.4" fill="#114f8c"/>
<circle cx="506.46" cy="194.21" r="1.4" fill="#114f8c"/>
<circle cx="439.26" cy="195.35" r="1.4" fill="#114f8c"/>
<circle cx="451.02" cy="195.92" r="1.4" fill="#114f8c"/>
<circle cx="462.78" cy="194.78" r="1.4" fill="#114f8c"/>
<circle cx="474.54" cy="195.35" r="1.4" fill="#114f8c"/>
<circle cx="506.46" cy="194.78" r="1.4" fill="#114f8c"/>
<circle cx="439.26" cy="194.21" r="1.4" fill="#114f8c"/>
<circle cx="451.02" cy="194.78" r="1.4" fill="#114f8c"/>
<circle cx="462.78" cy="195.35" r="1.4" fill="#114f8c"/>
<circle cx="474.54" cy="193.64" r="1.4" fill="#114f8c"/>
<circle cx="506.46" cy="193.64" r="1.4" fill="#114f8c"/>
<circle cx="439.26" cy="195.92" r="1.4" fill="#114f8c"/>
<circle cx="451.02" cy="196.49" r="1.4" fill="#114f8c"/>
<circle cx="462.78" cy="197.06" r="1.4" fill="#114f8c"/>
<circle cx="474.54" cy="195.92" r="1.4" fill="#114f8c"/>
<circle cx="506.46" cy="195.35" r="1.4" fill="#114f8c"/>
<circle cx="439.26" cy="193.64" r="1.4" fill="#114f8c"/>
<circle cx="451.02" cy="193.64" r="1.4" fill="#114f8c"/>
<circle cx="462.78" cy="193.64" r="1.4" fill="#114f8c"/>
<circle cx="474.54" cy="194.21" r="1.4" fill="#114f8c"/>
<circle cx="506.46" cy="195.92" r="1.4" fill="#114f8c"/>
<text x="470.50" y="273.70" font-size="8.8" text-anchor="middle" font-weight="normal" fill="#000" textLength="57.5" lengthAdjust="spacingAndGlyphs" stroke="#000" stroke-width="0.3">Days post-transplant</text>
<text x="466.0" y="172.2" font-size="8.0" text-anchor="middle" font-weight="normal" fill="#000" stroke="#000" stroke-width="0.12">% Phenotypically EM</text>
<text x="466.0" y="182.0" font-size="8.0" text-anchor="middle" font-weight="normal" fill="#000" stroke="#000" stroke-width="0.12">of donor T cells</text>
<g transform="translate(392.3,221.9) rotate(-90)">
<text x="0" y="0" font-size="9.6" text-anchor="middle" font-weight="normal" fill="#000" textLength="54.4" lengthAdjust="spacingAndGlyphs" stroke="#000" stroke-width="0.3">% CD62L<tspan font-size="6.2" baseline-shift="3">–</tspan>CD44<tspan font-size="6.2" baseline-shift="3">+/lo</tspan></text>
</g><g transform="translate(404.7,220.0) rotate(-90)">
<text x="0" y="0" font-size="9.6" text-anchor="middle" font-weight="normal" fill="#000" textLength="67" lengthAdjust="spacingAndGlyphs" stroke="#000" stroke-width="0.3">of CD45.1<tspan font-size="6.2" baseline-shift="3">–</tspan>H2K<tspan font-size="6.2" baseline-shift="3">b+</tspan> T cells</text>
</g>
<path d="M45.7 315.5 V376.2 H131.5" fill="none" stroke="#000" stroke-width="1.1"/>
<line x1="42.7" y1="376.20" x2="45.7" y2="376.20" stroke="#000" stroke-width="0.9"/>
<text x="41.10" y="379.00" font-size="7.9" text-anchor="end" font-weight="normal" fill="#000" >0</text>
<line x1="42.7" y1="364.71" x2="45.7" y2="364.71" stroke="#000" stroke-width="0.9"/>
<text x="41.10" y="367.51" font-size="7.9" text-anchor="end" font-weight="normal" fill="#000" >20</text>
<line x1="42.7" y1="353.22" x2="45.7" y2="353.22" stroke="#000" stroke-width="0.9"/>
<text x="41.10" y="356.02" font-size="7.9" text-anchor="end" font-weight="normal" fill="#000" >40</text>
<line x1="42.7" y1="341.73" x2="45.7" y2="341.73" stroke="#000" stroke-width="0.9"/>
<text x="41.10" y="344.53" font-size="7.9" text-anchor="end" font-weight="normal" fill="#000" >60</text>
<line x1="42.7" y1="330.24" x2="45.7" y2="330.24" stroke="#000" stroke-width="0.9"/>
<text x="41.10" y="333.04" font-size="7.9" text-anchor="end" font-weight="normal" fill="#000" >80</text>
<line x1="42.7" y1="318.75" x2="45.7" y2="318.75" stroke="#000" stroke-width="0.9"/>
<text x="41.10" y="321.55" font-size="7.9" text-anchor="end" font-weight="normal" fill="#000" >100</text>
<line x1="45.70" y1="376.2" x2="45.70" y2="379.4" stroke="#000" stroke-width="0.9"/>
<text x="45.70" y="386.60" font-size="7.9" text-anchor="middle" font-weight="normal" fill="#000" >0</text>
<line x1="57.63" y1="376.2" x2="57.63" y2="379.4" stroke="#000" stroke-width="0.9"/>
<text x="57.63" y="386.60" font-size="7.9" text-anchor="middle" font-weight="normal" fill="#000" >14</text>
<line x1="69.56" y1="376.2" x2="69.56" y2="379.4" stroke="#000" stroke-width="0.9"/>
<text x="69.56" y="386.60" font-size="7.9" text-anchor="middle" font-weight="normal" fill="#000" >28</text>
<line x1="81.48" y1="376.2" x2="81.48" y2="379.4" stroke="#000" stroke-width="0.9"/>
<text x="81.48" y="386.60" font-size="7.9" text-anchor="middle" font-weight="normal" fill="#000" >42</text>
<line x1="93.41" y1="376.2" x2="93.41" y2="379.4" stroke="#000" stroke-width="0.9"/>
<text x="93.41" y="386.60" font-size="7.9" text-anchor="middle" font-weight="normal" fill="#000" >56</text>
<line x1="105.34" y1="376.2" x2="105.34" y2="379.4" stroke="#000" stroke-width="0.9"/>
<text x="105.34" y="386.60" font-size="7.9" text-anchor="middle" font-weight="normal" fill="#000" >70</text>
<line x1="117.27" y1="376.2" x2="117.27" y2="379.4" stroke="#000" stroke-width="0.9"/>
<text x="117.27" y="386.60" font-size="7.9" text-anchor="middle" font-weight="normal" fill="#000" >84</text>
<line x1="129.20" y1="376.2" x2="129.20" y2="379.4" stroke="#000" stroke-width="0.9"/>
<text x="129.20" y="386.60" font-size="7.9" text-anchor="middle" font-weight="normal" fill="#000" >98</text>
<path d="M45.70 328.52 L57.63 325.64 L69.56 335.99 L81.48 329.09 L93.41 326.22 L125.79 324.50" fill="none" stroke="#cf0a2c" stroke-width="0.75" stroke-linejoin="round"/>
<path d="M45.70 328.52 L57.63 330.24 L69.56 333.11 L81.48 328.52 L93.41 325.64 L125.79 327.94" fill="none" stroke="#114f8c" stroke-width="0.75" stroke-linejoin="round"/>
<path d="M45.70 328.52 L57.63 323.35 L69.56 319.90 L81.48 320.47 L93.41 321.05 L125.79 321.62" fill="none" stroke="#cf0a2c" stroke-width="0.75" stroke-linejoin="round"/>
<path d="M45.70 328.52 L57.63 331.96 L69.56 325.64 L81.48 322.20 L93.41 321.62 L125.79 320.47" fill="none" stroke="#114f8c" stroke-width="0.75" stroke-linejoin="round"/>
<path d="M45.70 328.52 L57.63 321.62 L69.56 321.05 L81.48 321.05 L93.41 322.20 L125.79 322.77" fill="none" stroke="#cf0a2c" stroke-width="0.75" stroke-linejoin="round"/>
<path d="M45.70 328.52 L57.63 321.05 L69.56 323.35 L81.48 321.62 L93.41 321.05 L125.79 319.90" fill="none" stroke="#114f8c" stroke-width="0.75" stroke-linejoin="round"/>
<path d="M45.70 328.52 L57.63 327.37 L69.56 322.77 L81.48 324.50 L93.41 323.35 L125.79 321.05" fill="none" stroke="#cf0a2c" stroke-width="0.75" stroke-linejoin="round"/>
<path d="M45.70 328.52 L57.63 324.50 L69.56 321.62 L81.48 322.77 L93.41 320.47 L125.79 321.05" fill="none" stroke="#114f8c" stroke-width="0.75" stroke-linejoin="round"/>
<path d="M45.70 328.52 L57.63 324.50 L69.56 321.05 L81.48 322.20 L93.41 321.62 L125.79 323.35" fill="none" stroke="#cf0a2c" stroke-width="0.75" stroke-linejoin="round"/>
<path d="M45.70 328.52 L57.63 322.20 L69.56 320.47 L81.48 321.05 L93.41 321.62 L125.79 321.62" fill="none" stroke="#114f8c" stroke-width="0.75" stroke-linejoin="round"/>
<path d="M45.70 328.52 L57.63 329.09 L69.56 324.50 L81.48 323.35 L93.41 322.20 L125.79 322.77" fill="none" stroke="#114f8c" stroke-width="0.75" stroke-linejoin="round"/>
<path d="M45.70 328.52 L57.63 322.77 L69.56 322.20 L81.48 320.47 L93.41 319.90 L125.79 319.90" fill="none" stroke="#114f8c" stroke-width="0.75" stroke-linejoin="round"/>
<rect x="56.33" y="324.34" width="2.6" height="2.6" fill="#cf0a2c"/>
<rect x="68.26" y="334.69" width="2.6" height="2.6" fill="#cf0a2c"/>
<rect x="80.18" y="327.79" width="2.6" height="2.6" fill="#cf0a2c"/>
<rect x="92.11" y="324.92" width="2.6" height="2.6" fill="#cf0a2c"/>
<rect x="124.49" y="323.19" width="2.6" height="2.6" fill="#cf0a2c"/>
<circle cx="57.63" cy="330.24" r="1.4" fill="#114f8c"/>
<circle cx="69.56" cy="333.11" r="1.4" fill="#114f8c"/>
<circle cx="81.48" cy="328.52" r="1.4" fill="#114f8c"/>
<circle cx="93.41" cy="325.64" r="1.4" fill="#114f8c"/>
<circle cx="125.79" cy="327.94" r="1.4" fill="#114f8c"/>
<rect x="56.33" y="322.05" width="2.6" height="2.6" fill="#cf0a2c"/>
<rect x="68.26" y="318.60" width="2.6" height="2.6" fill="#cf0a2c"/>
<rect x="80.18" y="319.17" width="2.6" height="2.6" fill="#cf0a2c"/>
<rect x="92.11" y="319.75" width="2.6" height="2.6" fill="#cf0a2c"/>
<rect x="124.49" y="320.32" width="2.6" height="2.6" fill="#cf0a2c"/>
<circle cx="57.63" cy="331.96" r="1.4" fill="#114f8c"/>
<circle cx="69.56" cy="325.64" r="1.4" fill="#114f8c"/>
<circle cx="81.48" cy="322.20" r="1.4" fill="#114f8c"/>
<circle cx="93.41" cy="321.62" r="1.4" fill="#114f8c"/>
<circle cx="125.79" cy="320.47" r="1.4" fill="#114f8c"/>
<rect x="56.33" y="320.32" width="2.6" height="2.6" fill="#cf0a2c"/>
<rect x="68.26" y="319.75" width="2.6" height="2.6" fill="#cf0a2c"/>
<rect x="80.18" y="319.75" width="2.6" height="2.6" fill="#cf0a2c"/>
<rect x="92.11" y="320.90" width="2.6" height="2.6" fill="#cf0a2c"/>
<rect x="124.49" y="321.47" width="2.6" height="2.6" fill="#cf0a2c"/>
<circle cx="57.63" cy="321.05" r="1.4" fill="#114f8c"/>
<circle cx="69.56" cy="323.35" r="1.4" fill="#114f8c"/>
<circle cx="81.48" cy="321.62" r="1.4" fill="#114f8c"/>
<circle cx="93.41" cy="321.05" r="1.4" fill="#114f8c"/>
<circle cx="125.79" cy="319.90" r="1.4" fill="#114f8c"/>
<rect x="56.33" y="326.07" width="2.6" height="2.6" fill="#cf0a2c"/>
<rect x="68.26" y="321.47" width="2.6" height="2.6" fill="#cf0a2c"/>
<rect x="80.18" y="323.19" width="2.6" height="2.6" fill="#cf0a2c"/>
<rect x="92.11" y="322.05" width="2.6" height="2.6" fill="#cf0a2c"/>
<rect x="124.49" y="319.75" width="2.6" height="2.6" fill="#cf0a2c"/>
<circle cx="57.63" cy="324.50" r="1.4" fill="#114f8c"/>
<circle cx="69.56" cy="321.62" r="1.4" fill="#114f8c"/>
<circle cx="81.48" cy="322.77" r="1.4" fill="#114f8c"/>
<circle cx="93.41" cy="320.47" r="1.4" fill="#114f8c"/>
<circle cx="125.79" cy="321.05" r="1.4" fill="#114f8c"/>
<rect x="56.33" y="323.19" width="2.6" height="2.6" fill="#cf0a2c"/>
<rect x="68.26" y="319.75" width="2.6" height="2.6" fill="#cf0a2c"/>
<rect x="80.18" y="320.90" width="2.6" height="2.6" fill="#cf0a2c"/>
<rect x="92.11" y="320.32" width="2.6" height="2.6" fill="#cf0a2c"/>
<rect x="124.49" y="322.05" width="2.6" height="2.6" fill="#cf0a2c"/>
<circle cx="57.63" cy="322.20" r="1.4" fill="#114f8c"/>
<circle cx="69.56" cy="320.47" r="1.4" fill="#114f8c"/>
<circle cx="81.48" cy="321.05" r="1.4" fill="#114f8c"/>
<circle cx="93.41" cy="321.62" r="1.4" fill="#114f8c"/>
<circle cx="125.79" cy="321.62" r="1.4" fill="#114f8c"/>
<circle cx="57.63" cy="329.09" r="1.4" fill="#114f8c"/>
<circle cx="69.56" cy="324.50" r="1.4" fill="#114f8c"/>
<circle cx="81.48" cy="323.35" r="1.4" fill="#114f8c"/>
<circle cx="93.41" cy="322.20" r="1.4" fill="#114f8c"/>
<circle cx="125.79" cy="322.77" r="1.4" fill="#114f8c"/>
<circle cx="57.63" cy="322.77" r="1.4" fill="#114f8c"/>
<circle cx="69.56" cy="322.20" r="1.4" fill="#114f8c"/>
<circle cx="81.48" cy="320.47" r="1.4" fill="#114f8c"/>
<circle cx="93.41" cy="319.90" r="1.4" fill="#114f8c"/>
<circle cx="125.79" cy="319.90" r="1.4" fill="#114f8c"/>
<text x="88.70" y="399.00" font-size="8.8" text-anchor="middle" font-weight="normal" fill="#000" textLength="57.5" lengthAdjust="spacingAndGlyphs" stroke="#000" stroke-width="0.3">Days post-transplant</text>
<text x="94.3" y="301.4" font-size="8.0" text-anchor="middle" font-weight="normal" fill="#000" stroke="#000" stroke-width="0.12">% Naïve-derived</text>
<text x="94.3" y="310.6" font-size="8.0" text-anchor="middle" font-weight="normal" fill="#000" stroke="#000" stroke-width="0.12">(All T cells)</text>
<g transform="translate(12.9,347.6) rotate(-90)">
<text x="0" y="0" font-size="9.6" text-anchor="middle" font-weight="normal" fill="#000" textLength="53.8" lengthAdjust="spacingAndGlyphs" stroke="#000" stroke-width="0.3">% Naïve-derived of</text>
</g><g transform="translate(24.5,349.2) rotate(-90)">
<text x="0" y="0" font-size="9.6" text-anchor="middle" font-weight="normal" fill="#000" textLength="60.5" lengthAdjust="spacingAndGlyphs" stroke="#000" stroke-width="0.3">CD45.1<tspan font-size="6.2" baseline-shift="3">–</tspan>H2K<tspan font-size="6.2" baseline-shift="3">b+</tspan> T cells</text>
</g>
<path d="M199.2 315.5 V376.2 H285.0" fill="none" stroke="#000" stroke-width="1.1"/>
<line x1="196.2" y1="376.20" x2="199.2" y2="376.20" stroke="#000" stroke-width="0.9"/>
<text x="194.60" y="379.00" font-size="7.9" text-anchor="end" font-weight="normal" fill="#000" >0</text>
<line x1="196.2" y1="364.71" x2="199.2" y2="364.71" stroke="#000" stroke-width="0.9"/>
<text x="194.60" y="367.51" font-size="7.9" text-anchor="end" font-weight="normal" fill="#000" >20</text>
<line x1="196.2" y1="353.22" x2="199.2" y2="353.22" stroke="#000" stroke-width="0.9"/>
<text x="194.60" y="356.02" font-size="7.9" text-anchor="end" font-weight="normal" fill="#000" >40</text>
<line x1="196.2" y1="341.73" x2="199.2" y2="341.73" stroke="#000" stroke-width="0.9"/>
<text x="194.60" y="344.53" font-size="7.9" text-anchor="end" font-weight="normal" fill="#000" >60</text>
<line x1="196.2" y1="330.24" x2="199.2" y2="330.24" stroke="#000" stroke-width="0.9"/>
<text x="194.60" y="333.04" font-size="7.9" text-anchor="end" font-weight="normal" fill="#000" >80</text>
<line x1="196.2" y1="318.75" x2="199.2" y2="318.75" stroke="#000" stroke-width="0.9"/>
<text x="194.60" y="321.55" font-size="7.9" text-anchor="end" font-weight="normal" fill="#000" >100</text>
<line x1="199.20" y1="376.2" x2="199.20" y2="379.4" stroke="#000" stroke-width="0.9"/>
<text x="199.20" y="386.60" font-size="7.9" text-anchor="middle" font-weight="normal" fill="#000" >0</text>
<line x1="211.13" y1="376.2" x2="211.13" y2="379.4" stroke="#000" stroke-width="0.9"/>
<text x="211.13" y="386.60" font-size="7.9" text-anchor="middle" font-weight="normal" fill="#000" >14</text>
<line x1="223.06" y1="376.2" x2="223.06" y2="379.4" stroke="#000" stroke-width="0.9"/>
<text x="223.06" y="386.60" font-size="7.9" text-anchor="middle" font-weight="normal" fill="#000" >28</text>
<line x1="234.98" y1="376.2" x2="234.98" y2="379.4" stroke="#000" stroke-width="0.9"/>
<text x="234.98" y="386.60" font-size="7.9" text-anchor="middle" font-weight="normal" fill="#000" >42</text>
<line x1="246.91" y1="376.2" x2="246.91" y2="379.4" stroke="#000" stroke-width="0.9"/>
<text x="246.91" y="386.60" font-size="7.9" text-anchor="middle" font-weight="normal" fill="#000" >56</text>
<line x1="258.84" y1="376.2" x2="258.84" y2="379.4" stroke="#000" stroke-width="0.9"/>
<text x="258.84" y="386.60" font-size="7.9" text-anchor="middle" font-weight="normal" fill="#000" >70</text>
<line x1="270.77" y1="376.2" x2="270.77" y2="379.4" stroke="#000" stroke-width="0.9"/>
<text x="270.77" y="386.60" font-size="7.9" text-anchor="middle" font-weight="normal" fill="#000" >84</text>
<line x1="282.70" y1="376.2" x2="282.70" y2="379.4" stroke="#000" stroke-width="0.9"/>
<text x="282.70" y="386.60" font-size="7.9" text-anchor="middle" font-weight="normal" fill="#000" >98</text>
<path d="M199.20 328.52 L211.13 338.28 L223.06 323.35 L234.98 341.73 L246.91 345.18 L279.29 324.50" fill="none" stroke="#cf0a2c" stroke-width="0.75" stroke-linejoin="round"/>
<path d="M199.20 328.52 L211.13 330.24 L223.06 331.96 L234.98 329.09 L246.91 330.24 L279.29 324.50" fill="none" stroke="#cf0a2c" stroke-width="0.75" stroke-linejoin="round"/>
<path d="M199.20 328.52 L211.13 327.37 L223.06 325.64 L234.98 325.64 L246.91 324.50 L279.29 322.20" fill="none" stroke="#cf0a2c" stroke-width="0.75" stroke-linejoin="round"/>
<path d="M199.20 328.52 L211.13 324.50 L223.06 323.35 L234.98 322.77 L246.91 323.35 L279.29 321.05" fill="none" stroke="#cf0a2c" stroke-width="0.75" stroke-linejoin="round"/>
<path d="M199.20 328.52 L211.13 322.20 L223.06 321.62 L234.98 321.62 L246.91 322.20 L279.29 320.47" fill="none" stroke="#cf0a2c" stroke-width="0.75" stroke-linejoin="round"/>
<path d="M199.20 328.52 L211.13 329.09 L223.06 325.64 L234.98 322.77 L246.91 321.62 L279.29 320.47" fill="none" stroke="#114f8c" stroke-width="0.75" stroke-linejoin="round"/>
<path d="M199.20 328.52 L211.13 321.62 L223.06 320.47 L234.98 320.47 L246.91 320.47 L279.29 319.90" fill="none" stroke="#114f8c" stroke-width="0.75" stroke-linejoin="round"/>
<path d="M199.20 328.52 L211.13 320.47 L223.06 319.90 L234.98 320.47 L246.91 321.05 L279.29 319.90" fill="none" stroke="#114f8c" stroke-width="0.75" stroke-linejoin="round"/>
<path d="M199.20 328.52 L211.13 321.05 L223.06 321.05 L234.98 321.05 L246.91 320.47 L279.29 320.47" fill="none" stroke="#114f8c" stroke-width="0.75" stroke-linejoin="round"/>
<path d="M199.20 328.52 L211.13 319.90 L223.06 320.47 L234.98 319.90 L246.91 319.90 L279.29 319.32" fill="none" stroke="#114f8c" stroke-width="0.75" stroke-linejoin="round"/>
<path d="M199.20 328.52 L211.13 322.77 L223.06 321.62 L234.98 321.62 L246.91 321.62 L279.29 321.05" fill="none" stroke="#114f8c" stroke-width="0.75" stroke-linejoin="round"/>
<rect x="209.83" y="336.98" width="2.6" height="2.6" fill="#cf0a2c"/>
<rect x="221.76" y="322.05" width="2.6" height="2.6" fill="#cf0a2c"/>
<rect x="233.68" y="340.43" width="2.6" height="2.6" fill="#cf0a2c"/>
<rect x="245.61" y="343.88" width="2.6" height="2.6" fill="#cf0a2c"/>
<rect x="277.99" y="323.19" width="2.6" height="2.6" fill="#cf0a2c"/>
<rect x="209.83" y="328.94" width="2.6" height="2.6" fill="#cf0a2c"/>
<rect x="221.76" y="330.66" width="2.6" height="2.6" fill="#cf0a2c"/>
<rect x="233.68" y="327.79" width="2.6" height="2.6" fill="#cf0a2c"/>
<rect x="245.61" y="328.94" width="2.6" height="2.6" fill="#cf0a2c"/>
<rect x="277.99" y="323.19" width="2.6" height="2.6" fill="#cf0a2c"/>
<rect x="209.83" y="326.07" width="2.6" height="2.6" fill="#cf0a2c"/>
<rect x="221.76" y="324.34" width="2.6" height="2.6" fill="#cf0a2c"/>
<rect x="233.68" y="324.34" width="2.6" height="2.6" fill="#cf0a2c"/>
<rect x="245.61" y="323.19" width="2.6" height="2.6" fill="#cf0a2c"/>
<rect x="277.99" y="320.90" width="2.6" height="2.6" fill="#cf0a2c"/>
<rect x="209.83" y="323.19" width="2.6" height="2.6" fill="#cf0a2c"/>
<rect x="221.76" y="322.05" width="2.6" height="2.6" fill="#cf0a2c"/>
<rect x="233.68" y="321.47" width="2.6" height="2.6" fill="#cf0a2c"/>
<rect x="245.61" y="322.05" width="2.6" height="2.6" fill="#cf0a2c"/>
<rect x="277.99" y="319.75" width="2.6" height="2.6" fill="#cf0a2c"/>
<rect x="209.83" y="320.90" width="2.6" height="2.6" fill="#cf0a2c"/>
<rect x="221.76" y="320.32" width="2.6" height="2.6" fill="#cf0a2c"/>
<rect x="233.68" y="320.32" width="2.6" height="2.6" fill="#cf0a2c"/>
<rect x="245.61" y="320.90" width="2.6" height="2.6" fill="#cf0a2c"/>
<rect x="277.99" y="319.17" width="2.6" height="2.6" fill="#cf0a2c"/>
<circle cx="211.13" cy="329.09" r="1.4" fill="#114f8c"/>
<circle cx="223.06" cy="325.64" r="1.4" fill="#114f8c"/>
<circle cx="234.98" cy="322.77" r="1.4" fill="#114f8c"/>
<circle cx="246.91" cy="321.62" r="1.4" fill="#114f8c"/>
<circle cx="279.29" cy="320.47" r="1.4" fill="#114f8c"/>
<circle cx="211.13" cy="321.62" r="1.4" fill="#114f8c"/>
<circle cx="223.06" cy="320.47" r="1.4" fill="#114f8c"/>
<circle cx="234.98" cy="320.47" r="1.4" fill="#114f8c"/>
<circle cx="246.91" cy="320.47" r="1.4" fill="#114f8c"/>
<circle cx="279.29" cy="319.90" r="1.4" fill="#114f8c"/>
<circle cx="211.13" cy="320.47" r="1.4" fill="#114f8c"/>
<circle cx="223.06" cy="319.90" r="1.4" fill="#114f8c"/>
<circle cx="234.98" cy="320.47" r="1.4" fill="#114f8c"/>
<circle cx="246.91" cy="321.05" r="1.4" fill="#114f8c"/>
<circle cx="279.29" cy="319.90" r="1.4" fill="#114f8c"/>
<circle cx="211.13" cy="321.05" r="1.4" fill="#114f8c"/>
<circle cx="223.06" cy="321.05" r="1.4" fill="#114f8c"/>
<circle cx="234.98" cy="321.05" r="1.4" fill="#114f8c"/>
<circle cx="246.91" cy="320.47" r="1.4" fill="#114f8c"/>
<circle cx="279.29" cy="320.47" r="1.4" fill="#114f8c"/>
<circle cx="211.13" cy="319.90" r="1.4" fill="#114f8c"/>
<circle cx="223.06" cy="320.47" r="1.4" fill="#114f8c"/>
<circle cx="234.98" cy="319.90" r="1.4" fill="#114f8c"/>
<circle cx="246.91" cy="319.90" r="1.4" fill="#114f8c"/>
<circle cx="279.29" cy="319.32" r="1.4" fill="#114f8c"/>
<circle cx="211.13" cy="322.77" r="1.4" fill="#114f8c"/>
<circle cx="223.06" cy="321.62" r="1.4" fill="#114f8c"/>
<circle cx="234.98" cy="321.62" r="1.4" fill="#114f8c"/>
<circle cx="246.91" cy="321.62" r="1.4" fill="#114f8c"/>
<circle cx="279.29" cy="321.05" r="1.4" fill="#114f8c"/>
<text x="242.20" y="399.00" font-size="8.8" text-anchor="middle" font-weight="normal" fill="#000" textLength="57.5" lengthAdjust="spacingAndGlyphs" stroke="#000" stroke-width="0.3">Days post-transplant</text>
<text x="238.7" y="301.4" font-size="8.0" text-anchor="middle" font-weight="normal" fill="#000" stroke="#000" stroke-width="0.12">% Naïve-derived</text>
<text x="238.7" y="310.6" font-size="8.0" text-anchor="middle" font-weight="normal" fill="#000" stroke="#000" stroke-width="0.12">(CD4<tspan font-size="6.2" baseline-shift="3">+</tspan>)</text>
<g transform="translate(166.2,351.2) rotate(-90)">
<text x="0" y="0" font-size="9.6" text-anchor="middle" font-weight="normal" fill="#000" textLength="59.5" lengthAdjust="spacingAndGlyphs" stroke="#000" stroke-width="0.3">% Naïve-derived of</text>
</g><g transform="translate(177.9,348.8) rotate(-90)">
<text x="0" y="0" font-size="9.6" text-anchor="middle" font-weight="normal" fill="#000" textLength="77.7" lengthAdjust="spacingAndGlyphs" stroke="#000" stroke-width="0.3">CD45.1<tspan font-size="6.2" baseline-shift="3">–</tspan>H2K<tspan font-size="6.2" baseline-shift="3">b+</tspan> CD4<tspan font-size="6.2" baseline-shift="3">+</tspan> T cells</text>
</g>
<path d="M352.0 315.5 V376.2 H437.5" fill="none" stroke="#000" stroke-width="1.1"/>
<line x1="349.0" y1="376.20" x2="352.0" y2="376.20" stroke="#000" stroke-width="0.9"/>
<text x="347.40" y="379.00" font-size="7.9" text-anchor="end" font-weight="normal" fill="#000" >0</text>
<line x1="349.0" y1="364.71" x2="352.0" y2="364.71" stroke="#000" stroke-width="0.9"/>
<text x="347.40" y="367.51" font-size="7.9" text-anchor="end" font-weight="normal" fill="#000" >20</text>
<line x1="349.0" y1="353.22" x2="352.0" y2="353.22" stroke="#000" stroke-width="0.9"/>
<text x="347.40" y="356.02" font-size="7.9" text-anchor="end" font-weight="normal" fill="#000" >40</text>
<line x1="349.0" y1="341.73" x2="352.0" y2="341.73" stroke="#000" stroke-width="0.9"/>
<text x="347.40" y="344.53" font-size="7.9" text-anchor="end" font-weight="normal" fill="#000" >60</text>
<line x1="349.0" y1="330.24" x2="352.0" y2="330.24" stroke="#000" stroke-width="0.9"/>
<text x="347.40" y="333.04" font-size="7.9" text-anchor="end" font-weight="normal" fill="#000" >80</text>
<line x1="349.0" y1="318.75" x2="352.0" y2="318.75" stroke="#000" stroke-width="0.9"/>
<text x="347.40" y="321.55" font-size="7.9" text-anchor="end" font-weight="normal" fill="#000" >100</text>
<line x1="352.00" y1="376.2" x2="352.00" y2="379.4" stroke="#000" stroke-width="0.9"/>
<text x="352.00" y="386.60" font-size="7.9" text-anchor="middle" font-weight="normal" fill="#000" >0</text>
<line x1="363.93" y1="376.2" x2="363.93" y2="379.4" stroke="#000" stroke-width="0.9"/>
<text x="363.93" y="386.60" font-size="7.9" text-anchor="middle" font-weight="normal" fill="#000" >14</text>
<line x1="375.86" y1="376.2" x2="375.86" y2="379.4" stroke="#000" stroke-width="0.9"/>
<text x="375.86" y="386.60" font-size="7.9" text-anchor="middle" font-weight="normal" fill="#000" >28</text>
<line x1="387.78" y1="376.2" x2="387.78" y2="379.4" stroke="#000" stroke-width="0.9"/>
<text x="387.78" y="386.60" font-size="7.9" text-anchor="middle" font-weight="normal" fill="#000" >42</text>
<line x1="399.71" y1="376.2" x2="399.71" y2="379.4" stroke="#000" stroke-width="0.9"/>
<text x="399.71" y="386.60" font-size="7.9" text-anchor="middle" font-weight="normal" fill="#000" >56</text>
<line x1="411.64" y1="376.2" x2="411.64" y2="379.4" stroke="#000" stroke-width="0.9"/>
<text x="411.64" y="386.60" font-size="7.9" text-anchor="middle" font-weight="normal" fill="#000" >70</text>
<line x1="423.57" y1="376.2" x2="423.57" y2="379.4" stroke="#000" stroke-width="0.9"/>
<text x="423.57" y="386.60" font-size="7.9" text-anchor="middle" font-weight="normal" fill="#000" >84</text>
<line x1="435.50" y1="376.2" x2="435.50" y2="379.4" stroke="#000" stroke-width="0.9"/>
<text x="435.50" y="386.60" font-size="7.9" text-anchor="middle" font-weight="normal" fill="#000" >98</text>
<path d="M352.00 328.52 L363.93 325.64 L375.86 321.62 L387.78 322.20 L399.71 322.77 L432.09 321.62" fill="none" stroke="#cf0a2c" stroke-width="0.75" stroke-linejoin="round"/>
<path d="M352.00 328.52 L363.93 321.62 L375.86 319.32 L387.78 320.47 L399.71 321.05 L432.09 319.32" fill="none" stroke="#cf0a2c" stroke-width="0.75" stroke-linejoin="round"/>
<path d="M352.00 328.52 L363.93 324.50 L375.86 322.77 L387.78 321.62 L399.71 320.47 L432.09 320.47" fill="none" stroke="#cf0a2c" stroke-width="0.75" stroke-linejoin="round"/>
<path d="M352.00 328.52 L363.93 323.35 L375.86 321.05 L387.78 321.05 L399.71 321.62 L432.09 322.20" fill="none" stroke="#cf0a2c" stroke-width="0.75" stroke-linejoin="round"/>
<path d="M352.00 328.52 L363.93 327.37 L375.86 339.43 L387.78 338.86 L399.71 324.50 L432.09 323.35" fill="none" stroke="#cf0a2c" stroke-width="0.75" stroke-linejoin="round"/>
<path d="M352.00 328.52 L363.93 332.54 L375.86 338.28 L387.78 334.26 L399.71 327.37 L432.09 331.39" fill="none" stroke="#114f8c" stroke-width="0.75" stroke-linejoin="round"/>
<path d="M352.00 328.52 L363.93 330.24 L375.86 325.64 L387.78 331.39 L399.71 325.64 L432.09 325.64" fill="none" stroke="#114f8c" stroke-width="0.75" stroke-linejoin="round"/>
<path d="M352.00 328.52 L363.93 323.35 L375.86 324.50 L387.78 323.35 L399.71 327.94 L432.09 324.50" fill="none" stroke="#114f8c" stroke-width="0.75" stroke-linejoin="round"/>
<path d="M352.00 328.52 L363.93 320.47 L375.86 321.05 L387.78 319.90 L399.71 319.90 L432.09 321.62" fill="none" stroke="#114f8c" stroke-width="0.75" stroke-linejoin="round"/>
<path d="M352.00 328.52 L363.93 321.62 L375.86 322.77 L387.78 321.05 L399.71 320.47 L432.09 322.77" fill="none" stroke="#114f8c" stroke-width="0.75" stroke-linejoin="round"/>
<path d="M352.00 328.52 L363.93 327.37 L375.86 324.50 L387.78 324.50 L399.71 323.35 L432.09 327.37" fill="none" stroke="#114f8c" stroke-width="0.75" stroke-linejoin="round"/>
<path d="M352.00 328.52 L363.93 324.50 L375.86 321.62 L387.78 320.47 L399.71 321.05 L432.09 320.47" fill="none" stroke="#114f8c" stroke-width="0.75" stroke-linejoin="round"/>
<path d="M352.00 328.52 L363.93 333.69 L375.86 326.79 L387.78 325.64 L399.71 322.20 L432.09 323.92" fill="none" stroke="#114f8c" stroke-width="0.75" stroke-linejoin="round"/>
<rect x="362.63" y="324.34" width="2.6" height="2.6" fill="#cf0a2c"/>
<rect x="374.56" y="320.32" width="2.6" height="2.6" fill="#cf0a2c"/>
<rect x="386.48" y="320.90" width="2.6" height="2.6" fill="#cf0a2c"/>
<rect x="398.41" y="321.47" width="2.6" height="2.6" fill="#cf0a2c"/>
<rect x="430.79" y="320.32" width="2.6" height="2.6" fill="#cf0a2c"/>
<rect x="362.63" y="320.32" width="2.6" height="2.6" fill="#cf0a2c"/>
<rect x="374.56" y="318.02" width="2.6" height="2.6" fill="#cf0a2c"/>
<rect x="386.48" y="319.17" width="2.6" height="2.6" fill="#cf0a2c"/>
<rect x="398.41" y="319.75" width="2.6" height="2.6" fill="#cf0a2c"/>
<rect x="430.79" y="318.02" width="2.6" height="2.6" fill="#cf0a2c"/>
<rect x="362.63" y="323.19" width="2.6" height="2.6" fill="#cf0a2c"/>
<rect x="374.56" y="321.47" width="2.6" height="2.6" fill="#cf0a2c"/>
<rect x="386.48" y="320.32" width="2.6" height="2.6" fill="#cf0a2c"/>
<rect x="398.41" y="319.17" width="2.6" height="2.6" fill="#cf0a2c"/>
<rect x="430.79" y="319.17" width="2.6" height="2.6" fill="#cf0a2c"/>
<rect x="362.63" y="322.05" width="2.6" height="2.6" fill="#cf0a2c"/>
<rect x="374.56" y="319.75" width="2.6" height="2.6" fill="#cf0a2c"/>
<rect x="386.48" y="319.75" width="2.6" height="2.6" fill="#cf0a2c"/>
<rect x="398.41" y="320.32" width="2.6" height="2.6" fill="#cf0a2c"/>
<rect x="430.79" y="320.90" width="2.6" height="2.6" fill="#cf0a2c"/>
<rect x="362.63" y="326.07" width="2.6" height="2.6" fill="#cf0a2c"/>
<rect x="374.56" y="338.13" width="2.6" height="2.6" fill="#cf0a2c"/>
<rect x="386.48" y="337.56" width="2.6" height="2.6" fill="#cf0a2c"/>
<rect x="398.41" y="323.19" width="2.6" height="2.6" fill="#cf0a2c"/>
<rect x="430.79" y="322.05" width="2.6" height="2.6" fill="#cf0a2c"/>
<circle cx="363.93" cy="332.54" r="1.4" fill="#114f8c"/>
<circle cx="375.86" cy="338.28" r="1.4" fill="#114f8c"/>
<circle cx="387.78" cy="334.26" r="1.4" fill="#114f8c"/>
<circle cx="399.71" cy="327.37" r="1.4" fill="#114f8c"/>
<circle cx="432.09" cy="331.39" r="1.4" fill="#114f8c"/>
<circle cx="363.93" cy="330.24" r="1.4" fill="#114f8c"/>
<circle cx="375.86" cy="325.64" r="1.4" fill="#114f8c"/>
<circle cx="387.78" cy="331.39" r="1.4" fill="#114f8c"/>
<circle cx="399.71" cy="325.64" r="1.4" fill="#114f8c"/>
<circle cx="432.09" cy="325.64" r="1.4" fill="#114f8c"/>
<circle cx="363.93" cy="323.35" r="1.4" fill="#114f8c"/>
<circle cx="375.86" cy="324.50" r="1.4" fill="#114f8c"/>
<circle cx="387.78" cy="323.35" r="1.4" fill="#114f8c"/>
<circle cx="399.71" cy="327.94" r="1.4" fill="#114f8c"/>
<circle cx="432.09" cy="324.50" r="1.4" fill="#114f8c"/>
<circle cx="363.93" cy="320.47" r="1.4" fill="#114f8c"/>
<circle cx="375.86" cy="321.05" r="1.4" fill="#114f8c"/>
<circle cx="387.78" cy="319.90" r="1.4" fill="#114f8c"/>
<circle cx="399.71" cy="319.90" r="1.4" fill="#114f8c"/>
<circle cx="432.09" cy="321.62" r="1.4" fill="#114f8c"/>
<circle cx="363.93" cy="321.62" r="1.4" fill="#114f8c"/>
<circle cx="375.86" cy="322.77" r="1.4" fill="#114f8c"/>
<circle cx="387.78" cy="321.05" r="1.4" fill="#114f8c"/>
<circle cx="399.71" cy="320.47" r="1.4" fill="#114f8c"/>
<circle cx="432.09" cy="322.77" r="1.4" fill="#114f8c"/>
<circle cx="363.93" cy="327.37" r="1.4" fill="#114f8c"/>
<circle cx="375.86" cy="324.50" r="1.4" fill="#114f8c"/>
<circle cx="387.78" cy="324.50" r="1.4" fill="#114f8c"/>
<circle cx="399.71" cy="323.35" r="1.4" fill="#114f8c"/>
<circle cx="432.09" cy="327.37" r="1.4" fill="#114f8c"/>
<circle cx="363.93" cy="324.50" r="1.4" fill="#114f8c"/>
<circle cx="375.86" cy="321.62" r="1.4" fill="#114f8c"/>
<circle cx="387.78" cy="320.47" r="1.4" fill="#114f8c"/>
<circle cx="399.71" cy="321.05" r="1.4" fill="#114f8c"/>
<circle cx="432.09" cy="320.47" r="1.4" fill="#114f8c"/>
<circle cx="363.93" cy="333.69" r="1.4" fill="#114f8c"/>
<circle cx="375.86" cy="326.79" r="1.4" fill="#114f8c"/>
<circle cx="387.78" cy="325.64" r="1.4" fill="#114f8c"/>
<circle cx="399.71" cy="322.20" r="1.4" fill="#114f8c"/>
<circle cx="432.09" cy="323.92" r="1.4" fill="#114f8c"/>
<text x="395.00" y="399.00" font-size="8.8" text-anchor="middle" font-weight="normal" fill="#000" textLength="57.5" lengthAdjust="spacingAndGlyphs" stroke="#000" stroke-width="0.3">Days post-transplant</text>
<text x="392.5" y="301.4" font-size="8.0" text-anchor="middle" font-weight="normal" fill="#000" stroke="#000" stroke-width="0.12">% Naïve-derived</text>
<text x="392.5" y="310.6" font-size="8.0" text-anchor="middle" font-weight="normal" fill="#000" stroke="#000" stroke-width="0.12">(CD8<tspan font-size="6.2" baseline-shift="3">+</tspan>)</text>
<g transform="translate(319.0,351.2) rotate(-90)">
<text x="0" y="0" font-size="9.6" text-anchor="middle" font-weight="normal" fill="#000" textLength="59.5" lengthAdjust="spacingAndGlyphs" stroke="#000" stroke-width="0.3">% Naïve-derived of</text>
</g><g transform="translate(331.0,348.8) rotate(-90)">
<text x="0" y="0" font-size="9.6" text-anchor="middle" font-weight="normal" fill="#000" textLength="77.7" lengthAdjust="spacingAndGlyphs" stroke="#000" stroke-width="0.3">CD45.1<tspan font-size="6.2" baseline-shift="3">–</tspan>H2K<tspan font-size="6.2" baseline-shift="3">b+</tspan> CD8<tspan font-size="6.2" baseline-shift="3">+</tspan> T cells</text>
</g>
<line x1="452" y1="338.9" x2="464.3" y2="338.9" stroke="#114f8c" stroke-width="0.9"/><circle cx="458.2" cy="338.9" r="2.0" fill="#114f8c"/>
<text x="468.2" y="341.6" font-size="7.8" text-anchor="start" font-weight="normal" fill="#000" textLength="45" lengthAdjust="spacingAndGlyphs" stroke="#000" stroke-width="0.12">Vehicle (n=12)</text>
<line x1="452" y1="351.5" x2="464.3" y2="351.5" stroke="#cf0a2c" stroke-width="0.9"/><rect x="456.4" y="349.7" width="3.6" height="3.6" fill="#cf0a2c"/>
<text x="468.2" y="354.2" font-size="7.8" text-anchor="start" font-weight="normal" fill="#000" textLength="39.5" lengthAdjust="spacingAndGlyphs" stroke="#000" stroke-width="0.12">PTCy (n=13)</text>
<rect x="42.90" y="445.04" width="8.7" height="55.71" fill="#7ea2c5"/>
<rect x="56.15" y="445.04" width="8.7" height="55.71" fill="#e07f91"/>
<rect x="69.40" y="445.32" width="8.7" height="55.43" fill="#9dd59b"/>
<rect x="82.65" y="445.89" width="8.7" height="54.86" fill="#a98cbf"/>
<rect x="95.90" y="444.75" width="8.7" height="56.00" fill="#fdbe78"/>
<rect x="109.15" y="444.75" width="8.7" height="56.00" fill="#79ab9b"/>
<circle cx="46.94" cy="444.96" r="1.15" fill="#1b4f8a"/>
<circle cx="50.05" cy="445.04" r="1.15" fill="#1b4f8a"/>
<circle cx="47.30" cy="444.93" r="1.15" fill="#1b4f8a"/>
<circle cx="45.17" cy="445.00" r="1.15" fill="#1b4f8a"/>
<circle cx="48.11" cy="444.76" r="1.15" fill="#1b4f8a"/>
<circle cx="44.57" cy="445.18" r="1.15" fill="#1b4f8a"/>
<circle cx="44.55" cy="444.74" r="1.15" fill="#1b4f8a"/>
<circle cx="48.53" cy="445.40" r="1.15" fill="#1b4f8a"/>
<circle cx="50.43" cy="444.61" r="1.15" fill="#1b4f8a"/>
<circle cx="48.27" cy="444.91" r="1.15" fill="#1b4f8a"/>
<circle cx="44.99" cy="445.42" r="1.15" fill="#1b4f8a"/>
<circle cx="47.44" cy="445.38" r="1.15" fill="#1b4f8a"/>
<line x1="47.25" y1="500.75" x2="47.25" y2="503.25" stroke="#000" stroke-width="0.9"/>
<circle cx="58.46" cy="445.29" r="1.15" fill="#c8103a"/>
<circle cx="57.40" cy="445.00" r="1.15" fill="#c8103a"/>
<circle cx="60.11" cy="444.50" r="1.15" fill="#c8103a"/>
<circle cx="60.63" cy="444.77" r="1.15" fill="#c8103a"/>
<circle cx="60.50" cy="444.74" r="1.15" fill="#c8103a"/>
<circle cx="60.22" cy="445.24" r="1.15" fill="#c8103a"/>
<circle cx="63.78" cy="444.30" r="1.15" fill="#c8103a"/>
<circle cx="62.75" cy="444.68" r="1.15" fill="#c8103a"/>
<circle cx="59.28" cy="445.31" r="1.15" fill="#c8103a"/>
<circle cx="59.11" cy="445.51" r="1.15" fill="#c8103a"/>
<circle cx="62.26" cy="445.08" r="1.15" fill="#c8103a"/>
<circle cx="62.79" cy="445.10" r="1.15" fill="#c8103a"/>
<circle cx="63.52" cy="444.50" r="1.15" fill="#c8103a"/>
<circle cx="57.20" cy="445.33" r="1.15" fill="#c8103a"/>
<line x1="60.50" y1="500.75" x2="60.50" y2="503.25" stroke="#000" stroke-width="0.9"/>
<circle cx="76.46" cy="445.36" r="1.15" fill="#2f9e4e"/>
<circle cx="76.92" cy="445.44" r="1.15" fill="#2f9e4e"/>
<circle cx="70.93" cy="445.17" r="1.15" fill="#2f9e4e"/>
<circle cx="75.59" cy="445.58" r="1.15" fill="#2f9e4e"/>
<circle cx="71.03" cy="445.51" r="1.15" fill="#2f9e4e"/>
<circle cx="76.81" cy="445.03" r="1.15" fill="#2f9e4e"/>
<circle cx="71.23" cy="445.61" r="1.15" fill="#2f9e4e"/>
<circle cx="71.12" cy="445.82" r="1.15" fill="#2f9e4e"/>
<circle cx="75.71" cy="445.69" r="1.15" fill="#2f9e4e"/>
<circle cx="74.14" cy="445.38" r="1.15" fill="#2f9e4e"/>
<line x1="73.75" y1="500.75" x2="73.75" y2="503.25" stroke="#000" stroke-width="0.9"/>
<path d="M84.60 444.47H89.40M87.00 444.47V447.31M84.60 447.31H89.40" stroke="#5a2a86" stroke-width="0.8" fill="none"/>
<circle cx="84.96" cy="444.13" r="1.15" fill="#5a2a86"/>
<circle cx="84.56" cy="444.20" r="1.15" fill="#5a2a86"/>
<circle cx="84.47" cy="444.39" r="1.15" fill="#5a2a86"/>
<circle cx="85.10" cy="444.52" r="1.15" fill="#5a2a86"/>
<circle cx="90.11" cy="444.07" r="1.15" fill="#5a2a86"/>
<circle cx="85.71" cy="446.84" r="1.15" fill="#5a2a86"/>
<circle cx="85.09" cy="447.26" r="1.15" fill="#5a2a86"/>
<circle cx="89.34" cy="447.05" r="1.15" fill="#5a2a86"/>
<circle cx="84.36" cy="446.75" r="1.15" fill="#5a2a86"/>
<circle cx="85.11" cy="447.38" r="1.15" fill="#5a2a86"/>
<circle cx="88.80" cy="445.99" r="1.15" fill="#5a2a86"/>
<circle cx="85.66" cy="446.13" r="1.15" fill="#5a2a86"/>
<line x1="87.00" y1="500.75" x2="87.00" y2="503.25" stroke="#000" stroke-width="0.9"/>
<circle cx="97.54" cy="444.54" r="1.15" fill="#f08a1c"/>
<circle cx="98.55" cy="444.52" r="1.15" fill="#f08a1c"/>
<circle cx="99.40" cy="444.65" r="1.15" fill="#f08a1c"/>
<circle cx="103.28" cy="444.62" r="1.15" fill="#f08a1c"/>
<circle cx="100.74" cy="444.30" r="1.15" fill="#f08a1c"/>
<circle cx="98.16" cy="444.91" r="1.15" fill="#f08a1c"/>
<circle cx="102.95" cy="444.34" r="1.15" fill="#f08a1c"/>
<circle cx="98.60" cy="444.88" r="1.15" fill="#f08a1c"/>
<circle cx="101.83" cy="444.24" r="1.15" fill="#f08a1c"/>
<circle cx="98.25" cy="444.23" r="1.15" fill="#f08a1c"/>
<line x1="100.25" y1="500.75" x2="100.25" y2="503.25" stroke="#000" stroke-width="0.9"/>
<circle cx="116.02" cy="444.59" r="1.15" fill="#156b55"/>
<circle cx="112.98" cy="444.96" r="1.15" fill="#156b55"/>
<circle cx="110.46" cy="444.33" r="1.15" fill="#156b55"/>
<circle cx="111.77" cy="444.52" r="1.15" fill="#156b55"/>
<circle cx="111.90" cy="444.43" r="1.15" fill="#156b55"/>
<circle cx="114.14" cy="444.82" r="1.15" fill="#156b55"/>
<circle cx="111.36" cy="444.50" r="1.15" fill="#156b55"/>
<circle cx="110.65" cy="444.87" r="1.15" fill="#156b55"/>
<circle cx="113.89" cy="444.41" r="1.15" fill="#156b55"/>
<circle cx="114.25" cy="444.83" r="1.15" fill="#156b55"/>
<circle cx="113.50" cy="447.31" r="1.15" fill="#156b55"/>
<line x1="113.50" y1="500.75" x2="113.50" y2="503.25" stroke="#000" stroke-width="0.9"/>
<path d="M37.5 440.5 V500.75 H122.0" fill="none" stroke="#000" stroke-width="1.1"/>
<line x1="34.5" y1="500.75" x2="37.5" y2="500.75" stroke="#000" stroke-width="0.8"/>
<text x="32.50" y="503.55" font-size="7.9" text-anchor="end" font-weight="normal" fill="#000" >0</text>
<line x1="35.7" y1="495.06" x2="37.5" y2="495.06" stroke="#000" stroke-width="0.8"/>
<line x1="34.5" y1="489.38" x2="37.5" y2="489.38" stroke="#000" stroke-width="0.8"/>
<text x="32.50" y="492.18" font-size="7.9" text-anchor="end" font-weight="normal" fill="#000" >20</text>
<line x1="35.7" y1="483.69" x2="37.5" y2="483.69" stroke="#000" stroke-width="0.8"/>
<line x1="34.5" y1="478.01" x2="37.5" y2="478.01" stroke="#000" stroke-width="0.8"/>
<text x="32.50" y="480.81" font-size="7.9" text-anchor="end" font-weight="normal" fill="#000" >40</text>
<line x1="35.7" y1="472.32" x2="37.5" y2="472.32" stroke="#000" stroke-width="0.8"/>
<line x1="34.5" y1="466.64" x2="37.5" y2="466.64" stroke="#000" stroke-width="0.8"/>
<text x="32.50" y="469.44" font-size="7.9" text-anchor="end" font-weight="normal" fill="#000" >60</text>
<line x1="35.7" y1="460.95" x2="37.5" y2="460.95" stroke="#000" stroke-width="0.8"/>
<line x1="34.5" y1="455.27" x2="37.5" y2="455.27" stroke="#000" stroke-width="0.8"/>
<text x="32.50" y="458.07" font-size="7.9" text-anchor="end" font-weight="normal" fill="#000" >80</text>
<line x1="35.7" y1="449.58" x2="37.5" y2="449.58" stroke="#000" stroke-width="0.8"/>
<line x1="34.5" y1="443.90" x2="37.5" y2="443.90" stroke="#000" stroke-width="0.8"/>
<text x="32.50" y="446.70" font-size="7.9" text-anchor="end" font-weight="normal" fill="#000" >100</text>
<g transform="translate(49.85,511.55) rotate(-45)">
<text x="0" y="0" font-size="7.9" text-anchor="end" font-weight="normal" fill="#000" >Blood</text>
</g>
<g transform="translate(63.10,511.55) rotate(-45)">
<text x="0" y="0" font-size="7.9" text-anchor="end" font-weight="normal" fill="#000" >Spleen</text>
</g>
<g transform="translate(76.35,511.55) rotate(-45)">
<text x="0" y="0" font-size="7.9" text-anchor="end" font-weight="normal" fill="#000" >CLN</text>
</g>
<g transform="translate(89.60,511.55) rotate(-45)">
<text x="0" y="0" font-size="7.9" text-anchor="end" font-weight="normal" fill="#000" >MLN</text>
</g>
<g transform="translate(102.85,511.55) rotate(-45)">
<text x="0" y="0" font-size="7.9" text-anchor="end" font-weight="normal" fill="#000" >Liver</text>
</g>
<g transform="translate(116.10,511.55) rotate(-45)">
<text x="0" y="0" font-size="7.9" text-anchor="end" font-weight="normal" fill="#000" >BM</text>
</g>
<text x="80.00" y="537.4" font-size="9.0" text-anchor="middle" font-weight="normal" fill="#000" textLength="17.5" lengthAdjust="spacingAndGlyphs" stroke="#000" stroke-width="0.15">Tissue</text>
<text x="80.4" y="435.9" font-size="8.8" text-anchor="middle" font-weight="normal" fill="#000" stroke="#000" stroke-width="0.12">Vehicle</text>
<g transform="translate(13.70,470.4) rotate(-90)">
<text x="0" y="0" font-size="9.2" text-anchor="middle" font-weight="normal" fill="#000" textLength="45.5" lengthAdjust="spacingAndGlyphs" stroke="#000" stroke-width="0.15">% Naïve-derived</text>
</g>
<rect x="171.30" y="446.74" width="8.7" height="54.01" fill="#7ea2c5"/>
<rect x="184.55" y="447.31" width="8.7" height="53.44" fill="#e07f91"/>
<rect x="197.80" y="448.45" width="8.7" height="52.30" fill="#9dd59b"/>
<rect x="211.05" y="446.74" width="8.7" height="54.01" fill="#a98cbf"/>
<rect x="224.30" y="445.61" width="8.7" height="55.14" fill="#fdbe78"/>
<rect x="237.55" y="445.04" width="8.7" height="55.71" fill="#79ab9b"/>
<circle cx="178.40" cy="447.86" r="1.15" fill="#1b4f8a"/>
<circle cx="172.46" cy="447.58" r="1.15" fill="#1b4f8a"/>
<circle cx="175.29" cy="448.47" r="1.15" fill="#1b4f8a"/>
<circle cx="173.51" cy="447.16" r="1.15" fill="#1b4f8a"/>
<circle cx="176.13" cy="448.17" r="1.15" fill="#1b4f8a"/>
<circle cx="174.74" cy="444.93" r="1.15" fill="#1b4f8a"/>
<circle cx="178.82" cy="445.93" r="1.15" fill="#1b4f8a"/>
<circle cx="176.91" cy="446.24" r="1.15" fill="#1b4f8a"/>
<circle cx="173.28" cy="448.58" r="1.15" fill="#1b4f8a"/>
<circle cx="172.47" cy="444.85" r="1.15" fill="#1b4f8a"/>
<circle cx="176.98" cy="444.63" r="1.15" fill="#1b4f8a"/>
<circle cx="172.49" cy="446.02" r="1.15" fill="#1b4f8a"/>
<line x1="175.65" y1="500.75" x2="175.65" y2="503.25" stroke="#000" stroke-width="0.9"/>
<circle cx="188.78" cy="446.46" r="1.15" fill="#c8103a"/>
<circle cx="187.70" cy="444.47" r="1.15" fill="#c8103a"/>
<circle cx="186.10" cy="447.82" r="1.15" fill="#c8103a"/>
<circle cx="190.46" cy="445.21" r="1.15" fill="#c8103a"/>
<circle cx="190.46" cy="446.66" r="1.15" fill="#c8103a"/>
<circle cx="190.84" cy="445.10" r="1.15" fill="#c8103a"/>
<circle cx="187.92" cy="446.80" r="1.15" fill="#c8103a"/>
<circle cx="191.55" cy="445.42" r="1.15" fill="#c8103a"/>
<circle cx="188.35" cy="446.02" r="1.15" fill="#c8103a"/>
<circle cx="191.30" cy="447.63" r="1.15" fill="#c8103a"/>
<circle cx="189.72" cy="449.03" r="1.15" fill="#c8103a"/>
<circle cx="189.45" cy="447.36" r="1.15" fill="#c8103a"/>
<line x1="188.90" y1="500.75" x2="188.90" y2="503.25" stroke="#000" stroke-width="0.9"/>
<path d="M199.75 446.74H204.55M202.15 446.74V450.15M199.75 450.15H204.55" stroke="#2f9e4e" stroke-width="0.8" fill="none"/>
<circle cx="200.65" cy="447.88" r="1.15" fill="#2f9e4e"/>
<circle cx="203.65" cy="447.31" r="1.15" fill="#2f9e4e"/>
<circle cx="202.15" cy="448.45" r="1.15" fill="#2f9e4e"/>
<line x1="202.15" y1="500.75" x2="202.15" y2="503.25" stroke="#000" stroke-width="0.9"/>
<circle cx="212.63" cy="445.72" r="1.15" fill="#5a2a86"/>
<circle cx="218.66" cy="444.70" r="1.15" fill="#5a2a86"/>
<circle cx="216.91" cy="446.79" r="1.15" fill="#5a2a86"/>
<circle cx="216.95" cy="445.97" r="1.15" fill="#5a2a86"/>
<circle cx="215.01" cy="444.87" r="1.15" fill="#5a2a86"/>
<circle cx="212.65" cy="445.25" r="1.15" fill="#5a2a86"/>
<circle cx="212.30" cy="445.88" r="1.15" fill="#5a2a86"/>
<circle cx="215.27" cy="447.47" r="1.15" fill="#5a2a86"/>
<circle cx="216.71" cy="446.33" r="1.15" fill="#5a2a86"/>
<circle cx="216.16" cy="444.52" r="1.15" fill="#5a2a86"/>
<line x1="215.40" y1="500.75" x2="215.40" y2="503.25" stroke="#000" stroke-width="0.9"/>
<circle cx="227.04" cy="445.99" r="1.15" fill="#f08a1c"/>
<circle cx="227.34" cy="445.35" r="1.15" fill="#f08a1c"/>
<circle cx="226.69" cy="445.84" r="1.15" fill="#f08a1c"/>
<circle cx="231.33" cy="445.37" r="1.15" fill="#f08a1c"/>
<circle cx="228.27" cy="445.14" r="1.15" fill="#f08a1c"/>
<circle cx="227.51" cy="445.36" r="1.15" fill="#f08a1c"/>
<circle cx="226.66" cy="445.59" r="1.15" fill="#f08a1c"/>
<circle cx="230.67" cy="445.12" r="1.15" fill="#f08a1c"/>
<line x1="228.65" y1="500.75" x2="228.65" y2="503.25" stroke="#000" stroke-width="0.9"/>
<circle cx="244.41" cy="445.06" r="1.15" fill="#156b55"/>
<circle cx="242.45" cy="445.16" r="1.15" fill="#156b55"/>
<circle cx="239.50" cy="444.90" r="1.15" fill="#156b55"/>
<circle cx="244.12" cy="444.40" r="1.15" fill="#156b55"/>
<circle cx="243.29" cy="444.26" r="1.15" fill="#156b55"/>
<circle cx="240.43" cy="445.37" r="1.15" fill="#156b55"/>
<circle cx="241.57" cy="445.21" r="1.15" fill="#156b55"/>
<circle cx="240.01" cy="445.02" r="1.15" fill="#156b55"/>
<circle cx="242.73" cy="444.90" r="1.15" fill="#156b55"/>
<circle cx="240.68" cy="444.41" r="1.15" fill="#156b55"/>
<line x1="241.90" y1="500.75" x2="241.90" y2="503.25" stroke="#000" stroke-width="0.9"/>
<path d="M165.9 440.5 V500.75 H250.4" fill="none" stroke="#000" stroke-width="1.1"/>
<line x1="162.9" y1="500.75" x2="165.9" y2="500.75" stroke="#000" stroke-width="0.8"/>
<text x="160.90" y="503.55" font-size="7.9" text-anchor="end" font-weight="normal" fill="#000" >0</text>
<line x1="164.1" y1="495.06" x2="165.9" y2="495.06" stroke="#000" stroke-width="0.8"/>
<line x1="162.9" y1="489.38" x2="165.9" y2="489.38" stroke="#000" stroke-width="0.8"/>
<text x="160.90" y="492.18" font-size="7.9" text-anchor="end" font-weight="normal" fill="#000" >20</text>
<line x1="164.1" y1="483.69" x2="165.9" y2="483.69" stroke="#000" stroke-width="0.8"/>
<line x1="162.9" y1="478.01" x2="165.9" y2="478.01" stroke="#000" stroke-width="0.8"/>
<text x="160.90" y="480.81" font-size="7.9" text-anchor="end" font-weight="normal" fill="#000" >40</text>
<line x1="164.1" y1="472.32" x2="165.9" y2="472.32" stroke="#000" stroke-width="0.8"/>
<line x1="162.9" y1="466.64" x2="165.9" y2="466.64" stroke="#000" stroke-width="0.8"/>
<text x="160.90" y="469.44" font-size="7.9" text-anchor="end" font-weight="normal" fill="#000" >60</text>
<line x1="164.1" y1="460.95" x2="165.9" y2="460.95" stroke="#000" stroke-width="0.8"/>
<line x1="162.9" y1="455.27" x2="165.9" y2="455.27" stroke="#000" stroke-width="0.8"/>
<text x="160.90" y="458.07" font-size="7.9" text-anchor="end" font-weight="normal" fill="#000" >80</text>
<line x1="164.1" y1="449.58" x2="165.9" y2="449.58" stroke="#000" stroke-width="0.8"/>
<line x1="162.9" y1="443.90" x2="165.9" y2="443.90" stroke="#000" stroke-width="0.8"/>
<text x="160.90" y="446.70" font-size="7.9" text-anchor="end" font-weight="normal" fill="#000" >100</text>
<g transform="translate(178.25,511.55) rotate(-45)">
<text x="0" y="0" font-size="7.9" text-anchor="end" font-weight="normal" fill="#000" >Blood</text>
</g>
<g transform="translate(191.50,511.55) rotate(-45)">
<text x="0" y="0" font-size="7.9" text-anchor="end" font-weight="normal" fill="#000" >Spleen</text>
</g>
<g transform="translate(204.75,511.55) rotate(-45)">
<text x="0" y="0" font-size="7.9" text-anchor="end" font-weight="normal" fill="#000" >CLN</text>
</g>
<g transform="translate(218.00,511.55) rotate(-45)">
<text x="0" y="0" font-size="7.9" text-anchor="end" font-weight="normal" fill="#000" >MLN</text>
</g>
<g transform="translate(231.25,511.55) rotate(-45)">
<text x="0" y="0" font-size="7.9" text-anchor="end" font-weight="normal" fill="#000" >Liver</text>
</g>
<g transform="translate(244.50,511.55) rotate(-45)">
<text x="0" y="0" font-size="7.9" text-anchor="end" font-weight="normal" fill="#000" >BM</text>
</g>
<text x="208.40" y="537.4" font-size="9.0" text-anchor="middle" font-weight="normal" fill="#000" textLength="17.5" lengthAdjust="spacingAndGlyphs" stroke="#000" stroke-width="0.15">Tissue</text>
<text x="208.1" y="435.9" font-size="8.8" text-anchor="middle" font-weight="normal" fill="#000" stroke="#000" stroke-width="0.12">PTCy</text>
<g transform="translate(142.10,470.4) rotate(-90)">
<text x="0" y="0" font-size="9.2" text-anchor="middle" font-weight="normal" fill="#000" textLength="45.5" lengthAdjust="spacingAndGlyphs" stroke="#000" stroke-width="0.15">% Naïve-derived</text>
</g>
<text x="126.8" y="426.9" font-size="9.4" text-anchor="start" font-weight="normal" fill="#000" >CD4<tspan font-size="7.2" baseline-shift="3.2">+</tspan></text>
<rect x="306.65" y="445.61" width="8.7" height="55.14" fill="#7ea2c5"/>
<rect x="319.90" y="445.32" width="8.7" height="55.43" fill="#e07f91"/>
<rect x="333.15" y="445.89" width="8.7" height="54.86" fill="#9dd59b"/>
<rect x="346.40" y="446.17" width="8.7" height="54.58" fill="#a98cbf"/>
<rect x="359.65" y="445.61" width="8.7" height="55.14" fill="#fdbe78"/>
<rect x="372.90" y="445.32" width="8.7" height="55.43" fill="#79ab9b"/>
<circle cx="314.18" cy="446.36" r="1.15" fill="#1b4f8a"/>
<circle cx="308.19" cy="448.04" r="1.15" fill="#1b4f8a"/>
<circle cx="313.46" cy="448.00" r="1.15" fill="#1b4f8a"/>
<circle cx="312.38" cy="445.89" r="1.15" fill="#1b4f8a"/>
<circle cx="309.74" cy="445.01" r="1.15" fill="#1b4f8a"/>
<circle cx="307.83" cy="447.62" r="1.15" fill="#1b4f8a"/>
<circle cx="310.70" cy="448.07" r="1.15" fill="#1b4f8a"/>
<circle cx="313.18" cy="447.22" r="1.15" fill="#1b4f8a"/>
<circle cx="308.63" cy="447.98" r="1.15" fill="#1b4f8a"/>
<circle cx="311.85" cy="446.39" r="1.15" fill="#1b4f8a"/>
<line x1="311.00" y1="500.75" x2="311.00" y2="503.25" stroke="#000" stroke-width="0.9"/>
<circle cx="325.11" cy="445.03" r="1.15" fill="#c8103a"/>
<circle cx="326.28" cy="444.64" r="1.15" fill="#c8103a"/>
<circle cx="325.47" cy="445.63" r="1.15" fill="#c8103a"/>
<circle cx="324.09" cy="445.66" r="1.15" fill="#c8103a"/>
<circle cx="321.02" cy="445.27" r="1.15" fill="#c8103a"/>
<circle cx="325.66" cy="445.66" r="1.15" fill="#c8103a"/>
<circle cx="322.75" cy="445.44" r="1.15" fill="#c8103a"/>
<circle cx="325.55" cy="445.21" r="1.15" fill="#c8103a"/>
<circle cx="325.01" cy="444.90" r="1.15" fill="#c8103a"/>
<circle cx="323.55" cy="444.85" r="1.15" fill="#c8103a"/>
<circle cx="326.93" cy="445.78" r="1.15" fill="#c8103a"/>
<circle cx="327.11" cy="444.95" r="1.15" fill="#c8103a"/>
<line x1="324.25" y1="500.75" x2="324.25" y2="503.25" stroke="#000" stroke-width="0.9"/>
<circle cx="335.06" cy="445.85" r="1.15" fill="#2f9e4e"/>
<circle cx="338.33" cy="445.41" r="1.15" fill="#2f9e4e"/>
<circle cx="336.69" cy="445.74" r="1.15" fill="#2f9e4e"/>
<circle cx="340.00" cy="445.52" r="1.15" fill="#2f9e4e"/>
<circle cx="340.43" cy="445.84" r="1.15" fill="#2f9e4e"/>
<circle cx="338.50" cy="446.09" r="1.15" fill="#2f9e4e"/>
<circle cx="338.96" cy="445.50" r="1.15" fill="#2f9e4e"/>
<circle cx="338.43" cy="445.59" r="1.15" fill="#2f9e4e"/>
<circle cx="335.61" cy="445.42" r="1.15" fill="#2f9e4e"/>
<circle cx="340.67" cy="445.34" r="1.15" fill="#2f9e4e"/>
<line x1="337.50" y1="500.75" x2="337.50" y2="503.25" stroke="#000" stroke-width="0.9"/>
<circle cx="350.99" cy="445.53" r="1.15" fill="#5a2a86"/>
<circle cx="349.56" cy="445.09" r="1.15" fill="#5a2a86"/>
<circle cx="353.10" cy="447.16" r="1.15" fill="#5a2a86"/>
<circle cx="348.00" cy="446.82" r="1.15" fill="#5a2a86"/>
<circle cx="351.08" cy="445.61" r="1.15" fill="#5a2a86"/>
<circle cx="350.67" cy="448.34" r="1.15" fill="#5a2a86"/>
<circle cx="352.79" cy="448.21" r="1.15" fill="#5a2a86"/>
<circle cx="352.73" cy="447.81" r="1.15" fill="#5a2a86"/>
<circle cx="349.66" cy="445.54" r="1.15" fill="#5a2a86"/>
<line x1="350.75" y1="500.75" x2="350.75" y2="503.25" stroke="#000" stroke-width="0.9"/>
<circle cx="361.63" cy="446.02" r="1.15" fill="#f08a1c"/>
<circle cx="364.11" cy="445.43" r="1.15" fill="#f08a1c"/>
<circle cx="366.24" cy="445.47" r="1.15" fill="#f08a1c"/>
<circle cx="366.94" cy="445.67" r="1.15" fill="#f08a1c"/>
<circle cx="366.96" cy="446.09" r="1.15" fill="#f08a1c"/>
<circle cx="362.16" cy="445.64" r="1.15" fill="#f08a1c"/>
<circle cx="362.62" cy="445.43" r="1.15" fill="#f08a1c"/>
<circle cx="364.92" cy="445.64" r="1.15" fill="#f08a1c"/>
<circle cx="366.27" cy="445.60" r="1.15" fill="#f08a1c"/>
<circle cx="362.76" cy="445.78" r="1.15" fill="#f08a1c"/>
<line x1="364.00" y1="500.75" x2="364.00" y2="503.25" stroke="#000" stroke-width="0.9"/>
<circle cx="379.53" cy="444.67" r="1.15" fill="#156b55"/>
<circle cx="375.32" cy="444.77" r="1.15" fill="#156b55"/>
<circle cx="380.34" cy="445.42" r="1.15" fill="#156b55"/>
<circle cx="377.73" cy="446.06" r="1.15" fill="#156b55"/>
<circle cx="377.49" cy="445.46" r="1.15" fill="#156b55"/>
<circle cx="377.94" cy="446.40" r="1.15" fill="#156b55"/>
<circle cx="380.35" cy="445.43" r="1.15" fill="#156b55"/>
<circle cx="376.59" cy="444.86" r="1.15" fill="#156b55"/>
<circle cx="377.66" cy="445.48" r="1.15" fill="#156b55"/>
<circle cx="378.51" cy="446.33" r="1.15" fill="#156b55"/>
<line x1="377.25" y1="500.75" x2="377.25" y2="503.25" stroke="#000" stroke-width="0.9"/>
<path d="M301.25 440.5 V500.75 H385.75" fill="none" stroke="#000" stroke-width="1.1"/>
<line x1="298.25" y1="500.75" x2="301.25" y2="500.75" stroke="#000" stroke-width="0.8"/>
<text x="296.25" y="503.55" font-size="7.9" text-anchor="end" font-weight="normal" fill="#000" >0</text>
<line x1="299.45" y1="495.06" x2="301.25" y2="495.06" stroke="#000" stroke-width="0.8"/>
<line x1="298.25" y1="489.38" x2="301.25" y2="489.38" stroke="#000" stroke-width="0.8"/>
<text x="296.25" y="492.18" font-size="7.9" text-anchor="end" font-weight="normal" fill="#000" >20</text>
<line x1="299.45" y1="483.69" x2="301.25" y2="483.69" stroke="#000" stroke-width="0.8"/>
<line x1="298.25" y1="478.01" x2="301.25" y2="478.01" stroke="#000" stroke-width="0.8"/>
<text x="296.25" y="480.81" font-size="7.9" text-anchor="end" font-weight="normal" fill="#000" >40</text>
<line x1="299.45" y1="472.32" x2="301.25" y2="472.32" stroke="#000" stroke-width="0.8"/>
<line x1="298.25" y1="466.64" x2="301.25" y2="466.64" stroke="#000" stroke-width="0.8"/>
<text x="296.25" y="469.44" font-size="7.9" text-anchor="end" font-weight="normal" fill="#000" >60</text>
<line x1="299.45" y1="460.95" x2="301.25" y2="460.95" stroke="#000" stroke-width="0.8"/>
<line x1="298.25" y1="455.27" x2="301.25" y2="455.27" stroke="#000" stroke-width="0.8"/>
<text x="296.25" y="458.07" font-size="7.9" text-anchor="end" font-weight="normal" fill="#000" >80</text>
<line x1="299.45" y1="449.58" x2="301.25" y2="449.58" stroke="#000" stroke-width="0.8"/>
<line x1="298.25" y1="443.90" x2="301.25" y2="443.90" stroke="#000" stroke-width="0.8"/>
<text x="296.25" y="446.70" font-size="7.9" text-anchor="end" font-weight="normal" fill="#000" >100</text>
<g transform="translate(313.60,511.55) rotate(-45)">
<text x="0" y="0" font-size="7.9" text-anchor="end" font-weight="normal" fill="#000" >Blood</text>
</g>
<g transform="translate(326.85,511.55) rotate(-45)">
<text x="0" y="0" font-size="7.9" text-anchor="end" font-weight="normal" fill="#000" >Spleen</text>
</g>
<g transform="translate(340.10,511.55) rotate(-45)">
<text x="0" y="0" font-size="7.9" text-anchor="end" font-weight="normal" fill="#000" >CLN</text>
</g>
<g transform="translate(353.35,511.55) rotate(-45)">
<text x="0" y="0" font-size="7.9" text-anchor="end" font-weight="normal" fill="#000" >MLN</text>
</g>
<g transform="translate(366.60,511.55) rotate(-45)">
<text x="0" y="0" font-size="7.9" text-anchor="end" font-weight="normal" fill="#000" >Liver</text>
</g>
<g transform="translate(379.85,511.55) rotate(-45)">
<text x="0" y="0" font-size="7.9" text-anchor="end" font-weight="normal" fill="#000" >BM</text>
</g>
<text x="343.75" y="537.4" font-size="9.0" text-anchor="middle" font-weight="normal" fill="#000" textLength="17.5" lengthAdjust="spacingAndGlyphs" stroke="#000" stroke-width="0.15">Tissue</text>
<text x="343.5" y="435.9" font-size="8.8" text-anchor="middle" font-weight="normal" fill="#000" stroke="#000" stroke-width="0.12">Vehicle</text>
<g transform="translate(277.45,470.4) rotate(-90)">
<text x="0" y="0" font-size="9.2" text-anchor="middle" font-weight="normal" fill="#000" textLength="45.5" lengthAdjust="spacingAndGlyphs" stroke="#000" stroke-width="0.15">% Naïve-derived</text>
</g>
<rect x="434.15" y="445.04" width="8.7" height="55.71" fill="#7ea2c5"/>
<rect x="447.40" y="445.89" width="8.7" height="54.86" fill="#e07f91"/>
<rect x="460.65" y="447.31" width="8.7" height="53.44" fill="#9dd59b"/>
<rect x="473.90" y="446.17" width="8.7" height="54.58" fill="#a98cbf"/>
<rect x="487.15" y="445.61" width="8.7" height="55.14" fill="#fdbe78"/>
<rect x="500.40" y="444.75" width="8.7" height="56.00" fill="#79ab9b"/>
<circle cx="438.76" cy="445.23" r="1.15" fill="#1b4f8a"/>
<circle cx="441.52" cy="444.77" r="1.15" fill="#1b4f8a"/>
<circle cx="436.98" cy="445.18" r="1.15" fill="#1b4f8a"/>
<circle cx="436.04" cy="445.21" r="1.15" fill="#1b4f8a"/>
<circle cx="440.58" cy="444.79" r="1.15" fill="#1b4f8a"/>
<circle cx="438.35" cy="445.32" r="1.15" fill="#1b4f8a"/>
<circle cx="436.46" cy="445.04" r="1.15" fill="#1b4f8a"/>
<circle cx="441.31" cy="445.49" r="1.15" fill="#1b4f8a"/>
<circle cx="440.34" cy="445.58" r="1.15" fill="#1b4f8a"/>
<circle cx="436.48" cy="445.40" r="1.15" fill="#1b4f8a"/>
<circle cx="439.73" cy="445.31" r="1.15" fill="#1b4f8a"/>
<circle cx="437.55" cy="445.04" r="1.15" fill="#1b4f8a"/>
<line x1="438.50" y1="500.75" x2="438.50" y2="503.25" stroke="#000" stroke-width="0.9"/>
<circle cx="449.14" cy="445.03" r="1.15" fill="#c8103a"/>
<circle cx="449.26" cy="445.71" r="1.15" fill="#c8103a"/>
<circle cx="450.10" cy="446.69" r="1.15" fill="#c8103a"/>
<circle cx="451.95" cy="445.95" r="1.15" fill="#c8103a"/>
<circle cx="450.93" cy="446.02" r="1.15" fill="#c8103a"/>
<circle cx="451.94" cy="446.81" r="1.15" fill="#c8103a"/>
<circle cx="449.80" cy="445.34" r="1.15" fill="#c8103a"/>
<circle cx="452.66" cy="445.66" r="1.15" fill="#c8103a"/>
<circle cx="454.07" cy="445.40" r="1.15" fill="#c8103a"/>
<circle cx="454.10" cy="446.58" r="1.15" fill="#c8103a"/>
<circle cx="453.34" cy="444.78" r="1.15" fill="#c8103a"/>
<circle cx="454.41" cy="446.32" r="1.15" fill="#c8103a"/>
<line x1="451.75" y1="500.75" x2="451.75" y2="503.25" stroke="#000" stroke-width="0.9"/>
<path d="M462.60 444.47H467.40M465.00 444.47V450.15M462.60 450.15H467.40" stroke="#2f9e4e" stroke-width="0.8" fill="none"/>
<circle cx="462.50" cy="445.04" r="1.15" fill="#2f9e4e"/>
<circle cx="467.00" cy="445.89" r="1.15" fill="#2f9e4e"/>
<circle cx="464.00" cy="446.74" r="1.15" fill="#2f9e4e"/>
<circle cx="467.50" cy="449.02" r="1.15" fill="#2f9e4e"/>
<circle cx="463.00" cy="450.72" r="1.15" fill="#2f9e4e"/>
<circle cx="466.00" cy="452.43" r="1.15" fill="#2f9e4e"/>
<circle cx="465.00" cy="444.47" r="1.15" fill="#2f9e4e"/>
<line x1="465.00" y1="500.75" x2="465.00" y2="503.25" stroke="#000" stroke-width="0.9"/>
<path d="M475.85 444.47H480.65M478.25 444.47V447.88M475.85 447.88H480.65" stroke="#5a2a86" stroke-width="0.8" fill="none"/>
<circle cx="477.03" cy="444.49" r="1.15" fill="#5a2a86"/>
<circle cx="476.39" cy="444.19" r="1.15" fill="#5a2a86"/>
<circle cx="480.81" cy="447.63" r="1.15" fill="#5a2a86"/>
<circle cx="476.53" cy="445.27" r="1.15" fill="#5a2a86"/>
<circle cx="476.66" cy="447.78" r="1.15" fill="#5a2a86"/>
<circle cx="480.44" cy="446.49" r="1.15" fill="#5a2a86"/>
<circle cx="480.16" cy="447.66" r="1.15" fill="#5a2a86"/>
<circle cx="477.61" cy="445.44" r="1.15" fill="#5a2a86"/>
<circle cx="475.07" cy="447.36" r="1.15" fill="#5a2a86"/>
<line x1="478.25" y1="500.75" x2="478.25" y2="503.25" stroke="#000" stroke-width="0.9"/>
<circle cx="492.70" cy="445.24" r="1.15" fill="#f08a1c"/>
<circle cx="494.59" cy="446.06" r="1.15" fill="#f08a1c"/>
<circle cx="491.54" cy="445.40" r="1.15" fill="#f08a1c"/>
<circle cx="491.52" cy="445.47" r="1.15" fill="#f08a1c"/>
<circle cx="489.45" cy="446.10" r="1.15" fill="#f08a1c"/>
<circle cx="488.90" cy="446.14" r="1.15" fill="#f08a1c"/>
<circle cx="491.84" cy="445.65" r="1.15" fill="#f08a1c"/>
<circle cx="491.95" cy="446.02" r="1.15" fill="#f08a1c"/>
<circle cx="489.42" cy="445.97" r="1.15" fill="#f08a1c"/>
<circle cx="493.75" cy="445.16" r="1.15" fill="#f08a1c"/>
<line x1="491.50" y1="500.75" x2="491.50" y2="503.25" stroke="#000" stroke-width="0.9"/>
<circle cx="507.57" cy="445.05" r="1.15" fill="#156b55"/>
<circle cx="501.86" cy="444.18" r="1.15" fill="#156b55"/>
<circle cx="504.50" cy="444.37" r="1.15" fill="#156b55"/>
<circle cx="503.61" cy="444.67" r="1.15" fill="#156b55"/>
<circle cx="504.85" cy="444.71" r="1.15" fill="#156b55"/>
<circle cx="505.42" cy="445.14" r="1.15" fill="#156b55"/>
<circle cx="506.08" cy="444.29" r="1.15" fill="#156b55"/>
<circle cx="502.65" cy="444.69" r="1.15" fill="#156b55"/>
<circle cx="506.33" cy="444.74" r="1.15" fill="#156b55"/>
<circle cx="502.74" cy="444.98" r="1.15" fill="#156b55"/>
<circle cx="504.83" cy="445.13" r="1.15" fill="#156b55"/>
<circle cx="507.35" cy="444.33" r="1.15" fill="#156b55"/>
<line x1="504.75" y1="500.75" x2="504.75" y2="503.25" stroke="#000" stroke-width="0.9"/>
<path d="M428.75 440.5 V500.75 H513.25" fill="none" stroke="#000" stroke-width="1.1"/>
<line x1="425.75" y1="500.75" x2="428.75" y2="500.75" stroke="#000" stroke-width="0.8"/>
<text x="423.75" y="503.55" font-size="7.9" text-anchor="end" font-weight="normal" fill="#000" >0</text>
<line x1="426.95" y1="495.06" x2="428.75" y2="495.06" stroke="#000" stroke-width="0.8"/>
<line x1="425.75" y1="489.38" x2="428.75" y2="489.38" stroke="#000" stroke-width="0.8"/>
<text x="423.75" y="492.18" font-size="7.9" text-anchor="end" font-weight="normal" fill="#000" >20</text>
<line x1="426.95" y1="483.69" x2="428.75" y2="483.69" stroke="#000" stroke-width="0.8"/>
<line x1="425.75" y1="478.01" x2="428.75" y2="478.01" stroke="#000" stroke-width="0.8"/>
<text x="423.75" y="480.81" font-size="7.9" text-anchor="end" font-weight="normal" fill="#000" >40</text>
<line x1="426.95" y1="472.32" x2="428.75" y2="472.32" stroke="#000" stroke-width="0.8"/>
<line x1="425.75" y1="466.64" x2="428.75" y2="466.64" stroke="#000" stroke-width="0.8"/>
<text x="423.75" y="469.44" font-size="7.9" text-anchor="end" font-weight="normal" fill="#000" >60</text>
<line x1="426.95" y1="460.95" x2="428.75" y2="460.95" stroke="#000" stroke-width="0.8"/>
<line x1="425.75" y1="455.27" x2="428.75" y2="455.27" stroke="#000" stroke-width="0.8"/>
<text x="423.75" y="458.07" font-size="7.9" text-anchor="end" font-weight="normal" fill="#000" >80</text>
<line x1="426.95" y1="449.58" x2="428.75" y2="449.58" stroke="#000" stroke-width="0.8"/>
<line x1="425.75" y1="443.90" x2="428.75" y2="443.90" stroke="#000" stroke-width="0.8"/>
<text x="423.75" y="446.70" font-size="7.9" text-anchor="end" font-weight="normal" fill="#000" >100</text>
<g transform="translate(441.10,511.55) rotate(-45)">
<text x="0" y="0" font-size="7.9" text-anchor="end" font-weight="normal" fill="#000" >Blood</text>
</g>
<g transform="translate(454.35,511.55) rotate(-45)">
<text x="0" y="0" font-size="7.9" text-anchor="end" font-weight="normal" fill="#000" >Spleen</text>
</g>
<g transform="translate(467.60,511.55) rotate(-45)">
<text x="0" y="0" font-size="7.9" text-anchor="end" font-weight="normal" fill="#000" >CLN</text>
</g>
<g transform="translate(480.85,511.55) rotate(-45)">
<text x="0" y="0" font-size="7.9" text-anchor="end" font-weight="normal" fill="#000" >MLN</text>
</g>
<g transform="translate(494.10,511.55) rotate(-45)">
<text x="0" y="0" font-size="7.9" text-anchor="end" font-weight="normal" fill="#000" >Liver</text>
</g>
<g transform="translate(507.35,511.55) rotate(-45)">
<text x="0" y="0" font-size="7.9" text-anchor="end" font-weight="normal" fill="#000" >BM</text>
</g>
<text x="471.25" y="537.4" font-size="9.0" text-anchor="middle" font-weight="normal" fill="#000" textLength="17.5" lengthAdjust="spacingAndGlyphs" stroke="#000" stroke-width="0.15">Tissue</text>
<text x="471" y="435.9" font-size="8.8" text-anchor="middle" font-weight="normal" fill="#000" stroke="#000" stroke-width="0.12">PTCy</text>
<g transform="translate(404.95,470.4) rotate(-90)">
<text x="0" y="0" font-size="9.2" text-anchor="middle" font-weight="normal" fill="#000" textLength="45.5" lengthAdjust="spacingAndGlyphs" stroke="#000" stroke-width="0.15">% Naïve-derived</text>
</g>
<text x="389.6" y="426.9" font-size="9.4" text-anchor="start" font-weight="normal" fill="#000" >CD8<tspan font-size="7.2" baseline-shift="3.2">+</tspan></text>
<defs><filter id="bl" x="-50%" y="-50%" width="200%" height="200%"><feGaussianBlur stdDeviation="0.9"/></filter><filter id="bl2" x="-50%" y="-50%" width="200%" height="200%"><feGaussianBlur stdDeviation="0.5"/></filter><radialGradient id="mg" cx="0.45" cy="0.3" r="0.7"><stop offset="0" stop-color="#6a6a6a"/><stop offset="0.5" stop-color="#3b3b3b"/><stop offset="1" stop-color="#1c1c1c"/></radialGradient><radialGradient id="wg" cx="0.45" cy="0.3" r="0.75"><stop offset="0" stop-color="#ffffff"/><stop offset="0.6" stop-color="#f1f1f1"/><stop offset="1" stop-color="#c9c9c9"/></radialGradient></defs>
<defs><linearGradient id="magL" gradientUnits="userSpaceOnUse" x1="200" x2="212" y1="0" y2="0"><stop offset="0" stop-color="#ff50d8" stop-opacity="0.3"/><stop offset="0.6" stop-color="#ff30d0" stop-opacity="0.7"/><stop offset="1" stop-color="#fc20cc" stop-opacity="1"/></linearGradient></defs>
<path d="M28.9 51.7h0.6M32.2 48.9h0.6M30.7 49.0h0.6M33.0 55.1h0.6M33.4 53.3h0.6M31.7 53.9h0.6M29.7 55.0h0.6M28.7 53.7h0.6M32.3 54.7h0.6M30.3 60.1h0.6M31.1 53.1h0.6M31.3 53.3h0.6M30.3 53.7h0.6M34.6 54.7h0.6M31.3 56.3h0.6M34.6 54.0h0.6M29.9 60.8h0.6M28.4 53.7h0.6M32.2 60.3h0.6M29.3 48.5h0.6M32.2 53.3h0.6M30.3 55.8h0.6M31.4 55.3h0.6M30.2 57.8h0.6M33.7 54.7h0.6M30.2 56.4h0.6M31.9 52.0h0.6M30.2 57.2h0.6M30.8 53.8h0.6M31.4 54.5h0.6M31.0 49.8h0.6M34.1 55.1h0.6M29.4 57.0h0.6M31.6 54.6h0.6M32.9 60.3h0.6M32.0 58.6h0.6M34.9 52.0h0.6M30.1 56.5h0.6M27.9 53.9h0.6M33.3 57.2h0.6M32.0 49.9h0.6M35.2 56.0h0.6M32.4 55.8h0.6M27.9 51.0h0.6M28.8 59.4h0.6M29.5 54.0h0.6M30.5 56.0h0.6M31.9 55.3h0.6M28.7 46.8h0.6M31.3 55.3h0.6M33.2 54.3h0.6M29.9 55.6h0.6M28.2 52.0h0.6M29.2 55.3h0.6M34.8 56.5h0.6M33.1 55.2h0.6M31.5 53.5h0.6M30.5 48.5h0.6M28.8 51.4h0.6M32.5 56.3h0.6M33.1 58.5h0.6M30.5 57.2h0.6M34.5 54.6h0.6M33.0 54.2h0.6M28.1 54.9h0.6M29.5 54.9h0.6M30.2 55.4h0.6M27.2 59.8h0.6M33.4 53.7h0.6M29.4 54.6h0.6M32.2 55.7h0.6M31.7 49.7h0.6M29.0 58.0h0.6M31.4 50.8h0.6M29.4 51.0h0.6M29.2 57.6h0.6M30.6 57.4h0.6M31.3 50.8h0.6M29.8 60.4h0.6M29.6 51.9h0.6M33.3 54.8h0.6M31.0 58.3h0.6M27.8 55.7h0.6M29.1 51.0h0.6M29.5 57.5h0.6M30.7 49.9h0.6M29.0 58.5h0.6M32.9 51.8h0.6M35.5 53.7h0.6M28.8 54.3h0.6M32.7 58.7h0.6M32.9 53.5h0.6M30.0 50.9h0.6M30.9 53.1h0.6M31.5 51.4h0.6M30.0 52.3h0.6M28.8 51.6h0.6M29.1 51.6h0.6M32.0 54.9h0.6M28.6 55.9h0.6M31.5 58.3h0.6M30.6 54.1h0.6M29.7 54.9h0.6M31.9 55.0h0.6M30.5 56.0h0.6M31.2 55.2h0.6M29.3 55.1h0.6M29.2 52.4h0.6M31.3 60.0h0.6M32.8 54.6h0.6M30.7 57.1h0.6M33.5 57.7h0.6M30.7 55.1h0.6M30.4 53.9h0.6M29.4 54.0h0.6M27.0 51.5h0.6M31.8 52.2h0.6M32.0 51.3h0.6M30.3 55.6h0.6M29.1 52.8h0.6M35.6 52.9h0.6M29.7 53.1h0.6M31.1 54.5h0.6M32.8 56.6h0.6M30.3 53.7h0.6M28.4 50.8h0.6M29.6 56.5h0.6M31.2 56.7h0.6M32.7 54.2h0.6M34.9 53.3h0.6M29.8 53.5h0.6M33.1 54.3h0.6M29.6 55.7h0.6M33.1 54.3h0.6M30.5 57.4h0.6M32.8 57.0h0.6M29.6 55.3h0.6M31.7 50.0h0.6M33.2 54.9h0.6M30.4 60.4h0.6M31.3 52.8h0.6M30.9 56.0h0.6M32.5 54.5h0.6M29.4 52.8h0.6M29.5 51.9h0.6M31.0 53.3h0.6M31.1 52.5h0.6M29.4 54.1h0.6M30.4 57.5h0.6M29.3 55.1h0.6M30.9 51.3h0.6M32.3 55.0h0.6M27.1 56.1h0.6M32.7 52.6h0.6M34.1 55.0h0.6M28.9 56.0h0.6M30.3 51.2h0.6M27.1 55.2h0.6M29.6 56.2h0.6M31.7 53.3h0.6M30.0 59.1h0.6M34.1 56.5h0.6M30.3 52.1h0.6M30.3 58.8h0.6M31.8 53.9h0.6M28.7 55.0h0.6M29.4 54.6h0.6M32.4 57.3h0.6M31.3 53.7h0.6M31.4 59.2h0.6M31.7 51.0h0.6M33.8 55.2h0.6M37.4 53.4h0.6M30.8 53.8h0.6M31.7 53.1h0.6M28.3 49.7h0.6M30.8 53.3h0.6M29.9 60.0h0.6M32.5 57.4h0.6M30.1 55.4h0.6M30.6 54.1h0.6M32.4 56.1h0.6M31.6 55.0h0.6M28.4 52.7h0.6M31.7 53.7h0.6M29.6 55.5h0.6M29.3 52.9h0.6M32.6 53.7h0.6M33.6 55.9h0.6M32.5 57.5h0.6M27.0 54.4h0.6M28.6 53.4h0.6M30.8 57.8h0.6M30.9 58.8h0.6M30.0 54.5h0.6M31.2 57.0h0.6M30.9 53.0h0.6M30.4 51.0h0.6M33.3 56.5h0.6M31.8 55.3h0.6M29.9 53.6h0.6M32.5 52.6h0.6M29.6 58.6h0.6M33.8 55.3h0.6M32.0 55.1h0.6M33.6 53.5h0.6M31.2 55.8h0.6M33.6 54.0h0.6M31.4 53.4h0.6M29.8 52.9h0.6M31.2 56.8h0.6M29.7 53.1h0.6M30.3 55.5h0.6M32.3 51.4h0.6M31.6 52.1h0.6M32.3 52.2h0.6M29.0 52.8h0.6M30.9 52.1h0.6M31.4 55.0h0.6M31.2 55.3h0.6M32.6 52.8h0.6M31.0 54.5h0.6M27.3 55.6h0.6M29.6 52.8h0.6M30.2 54.8h0.6M31.6 55.8h0.6M29.7 56.3h0.6M31.8 53.6h0.6M31.0 56.6h0.6M31.8 56.3h0.6M31.2 57.5h0.6M35.0 55.7h0.6M28.1 58.9h0.6M30.0 51.1h0.6M26.7 55.7h0.6M33.0 57.1h0.6M30.3 58.2h0.6M30.9 53.1h0.6M31.1 55.1h0.6M31.1 55.6h0.6M27.1 58.5h0.6M30.0 56.2h0.6M29.6 55.0h0.6M30.7 50.6h0.6M31.7 56.2h0.6M29.0 49.4h0.6M29.8 52.5h0.6M31.2 54.6h0.6M33.9 56.2h0.6M30.5 55.0h0.6M25.8 52.3h0.6M29.3 54.3h0.6M31.6 55.1h0.6M32.7 52.9h0.6M31.6 54.3h0.6M31.0 55.4h0.6M30.5 55.1h0.6M30.9 57.2h0.6M30.8 55.4h0.6M35.7 56.2h0.6M31.9 57.3h0.6M29.2 56.4h0.6M32.3 55.7h0.6M32.8 56.6h0.6M33.1 53.0h0.6M31.8 53.2h0.6M33.2 54.9h0.6M28.7 54.9h0.6M29.2 57.1h0.6M30.4 49.1h0.6M30.3 57.2h0.6M31.6 53.0h0.6M32.2 56.0h0.6M33.6 56.9h0.6M31.7 52.6h0.6M31.5 55.4h0.6M31.0 55.6h0.6M28.9 56.0h0.6M31.0 55.5h0.6M30.8 53.9h0.6M31.5 56.6h0.6M30.4 55.4h0.6M29.6 55.6h0.6M31.0 51.4h0.6M33.1 52.4h0.6M31.1 51.3h0.6M27.9 56.2h0.6M28.5 49.4h0.6M30.6 50.8h0.6M30.6 59.1h0.6M30.3 55.5h0.6M32.0 55.2h0.6M30.8 58.3h0.6M30.9 55.5h0.6M31.2 51.4h0.6M31.6 54.7h0.6M32.2 56.3h0.6M33.8 49.9h0.6M30.0 53.4h0.6M29.5 55.6h0.6M30.9 54.9h0.6M28.1 52.2h0.6M30.9 53.5h0.6M29.9 54.3h0.6M30.5 52.0h0.6M34.0 52.9h0.6M32.2 56.1h0.6M32.7 53.2h0.6M29.2 55.7h0.6M31.5 48.8h0.6M26.3 53.3h0.6M30.3 53.9h0.6M31.7 52.2h0.6M35.7 56.8h0.6M33.3 55.3h0.6M27.3 55.2h0.6M30.0 55.7h0.6M30.8 56.3h0.6M29.4 53.7h0.6M31.0 52.7h0.6M30.2 56.1h0.6M34.4 54.1h0.6M32.5 51.8h0.6M30.2 55.4h0.6M32.0 52.1h0.6M32.1 55.0h0.6M33.3 56.9h0.6M32.0 53.6h0.6M31.5 52.5h0.6M29.5 50.1h0.6M28.7 51.5h0.6M30.8 54.8h0.6M28.6 54.4h0.6M31.7 56.9h0.6M30.8 55.1h0.6M30.3 56.9h0.6M28.2 55.2h0.6M26.9 58.8h0.6M32.6 49.4h0.6M30.1 51.1h0.6M27.9 53.6h0.6M29.4 57.1h0.6M30.1 51.9h0.6M30.8 55.6h0.6M32.4 55.8h0.6M28.3 52.6h0.6M30.7 52.5h0.6M32.3 53.7h0.6M30.9 53.7h0.6M31.1 50.9h0.6M34.7 53.2h0.6M29.7 50.2h0.6M30.8 51.2h0.6M31.6 57.5h0.6M32.1 53.5h0.6M33.2 54.1h0.6M30.9 54.7h0.6M30.1 55.6h0.6M28.8 50.2h0.6M33.1 52.8h0.6M30.3 55.4h0.6M30.1 51.7h0.6M30.6 52.2h0.6M31.9 53.5h0.6M30.5 56.5h0.6M28.2 50.9h0.6M32.3 57.7h0.6M31.1 52.8h0.6M33.1 55.8h0.6M32.8 50.1h0.6M30.7 52.0h0.6M29.0 56.0h0.6M32.3 53.4h0.6M30.5 57.9h0.6M32.1 54.3h0.6M31.9 54.8h0.6M28.7 53.3h0.6M31.5 56.1h0.6M28.8 52.6h0.6M29.9 50.8h0.6M32.9 55.7h0.6M33.3 49.2h0.6M29.5 59.0h0.6M28.5 50.1h0.6M31.4 58.4h0.6M32.1 52.2h0.6M32.0 55.6h0.6M31.4 55.5h0.6M32.4 57.4h0.6M33.4 57.2h0.6M30.7 50.0h0.6M31.9 50.9h0.6M35.0 51.7h0.6M27.7 50.0h0.6M31.7 55.3h0.6M32.1 55.3h0.6M29.6 56.6h0.6M29.7 50.9h0.6M32.6 55.9h0.6M29.3 53.9h0.6M32.8 56.9h0.6M29.1 57.3h0.6M26.4 54.8h0.6M31.7 54.3h0.6M31.2 50.6h0.6M30.7 55.8h0.6M29.3 54.9h0.6M30.7 49.0h0.6M29.9 56.0h0.6M28.2 54.6h0.6M31.6 51.4h0.6M30.5 56.8h0.6M32.3 52.1h0.6M32.8 55.4h0.6M31.2 58.3h0.6M32.3 55.5h0.6M32.7 56.2h0.6M33.2 54.3h0.6M27.8 58.4h0.6M32.4 55.9h0.6M31.1 54.4h0.6M31.2 52.2h0.6M32.4 54.8h0.6M29.3 55.2h0.6M30.4 54.5h0.6M32.0 61.2h0.6M29.1 55.6h0.6M32.3 55.6h0.6M33.6 53.5h0.6M30.4 54.6h0.6M28.6 57.3h0.6M28.8 55.9h0.6M33.1 52.5h0.6M30.7 54.1h0.6M34.0 55.2h0.6M27.9 57.2h0.6M32.8 49.7h0.6M26.1 61.0h0.6M31.1 49.3h0.6M32.9 58.1h0.6M26.7 57.7h0.6M32.3 54.5h0.6M29.7 55.5h0.6M29.5 55.0h0.6M30.5 53.5h0.6M32.0 57.0h0.6M32.6 55.7h0.6M34.0 51.5h0.6M31.1 55.1h0.6M33.2 49.0h0.6M30.2 53.8h0.6M31.3 60.2h0.6M31.4 54.4h0.6M31.8 57.0h0.6M30.7 58.8h0.6M28.8 57.7h0.6M32.3 57.1h0.6M33.8 54.0h0.6M31.7 55.3h0.6M29.9 52.7h0.6M29.6 56.7h0.6M26.9 51.4h0.6M31.1 57.8h0.6M30.8 57.7h0.6M30.9 53.3h0.6M28.2 55.1h0.6M34.1 54.8h0.6M29.1 56.0h0.6M28.5 51.8h0.6M33.0 55.6h0.6M32.7 55.2h0.6M30.8 55.0h0.6M30.4 57.2h0.6M28.7 49.9h0.6M29.5 56.8h0.6M30.0 48.9h0.6M36.1 52.3h0.6M30.7 56.0h0.6M31.7 54.2h0.6M28.2 55.9h0.6M29.2 54.2h0.6M32.4 53.6h0.6M27.8 53.1h0.6M32.1 56.4h0.6M28.7 54.7h0.6M31.5 57.3h0.6M31.7 55.0h0.6M30.5 55.8h0.6M32.4 54.2h0.6M30.5 58.9h0.6M30.9 52.7h0.6M32.2 51.5h0.6M29.1 56.9h0.6M31.0 56.6h0.6M32.4 52.7h0.6M31.9 53.7h0.6M31.4 55.2h0.6M30.9 51.4h0.6M31.5 54.6h0.6M31.9 52.0h0.6M31.4 54.1h0.6M30.2 53.9h0.6M30.6 51.2h0.6M30.0 53.5h0.6M31.8 54.2h0.6M33.5 56.1h0.6M31.6 55.1h0.6M28.5 55.5h0.6M33.2 52.1h0.6M33.3 56.1h0.6M31.5 53.5h0.6M31.0 52.7h0.6M31.0 54.7h0.6M31.1 51.6h0.6M32.6 53.0h0.6M31.7 56.0h0.6M30.6 60.6h0.6M31.2 55.6h0.6M30.6 55.4h0.6M28.8 56.2h0.6M30.3 53.3h0.6M32.3 56.8h0.6M30.2 52.1h0.6M27.4 52.2h0.6M31.9 56.2h0.6M28.8 54.7h0.6M32.9 52.7h0.6M30.0 52.4h0.6M31.7 50.0h0.6M30.8 55.7h0.6M30.9 56.9h0.6M32.1 53.3h0.6M29.2 52.0h0.6M31.9 54.3h0.6M31.2 52.4h0.6M33.0 56.7h0.6M32.3 51.9h0.6M35.6 56.7h0.6M29.1 57.0h0.6M30.8 52.7h0.6M29.7 55.8h0.6M31.5 55.1h0.6M30.6 52.1h0.6M31.4 53.9h0.6M30.6 56.1h0.6M34.0 53.1h0.6M32.7 52.8h0.6M32.5 56.2h0.6M31.1 55.2h0.6M29.6 53.8h0.6M32.7 56.5h0.6M35.0 52.1h0.6M30.2 54.8h0.6M31.1 53.4h0.6M30.3 54.4h0.6M33.2 54.3h0.6M29.7 55.4h0.6M26.4 52.5h0.6M29.9 55.4h0.6M27.0 54.1h0.6M29.1 57.0h0.6M32.4 53.5h0.6M31.8 51.8h0.6M31.4 55.2h0.6M32.9 53.6h0.6M27.2 56.6h0.6M29.1 53.3h0.6M30.4 58.6h0.6M30.9 57.4h0.6M31.1 51.2h0.6M31.8 55.9h0.6M30.0 50.8h0.6M36.0 59.8h0.6M31.7 55.7h0.6M32.7 56.1h0.6M28.4 51.2h0.6M32.4 57.9h0.6M32.9 56.6h0.6M31.0 56.9h0.6M33.7 55.9h0.6M33.2 57.6h0.6M29.8 57.5h0.6M29.7 52.4h0.6M33.8 50.6h0.6M30.7 56.8h0.6M31.7 53.7h0.6M29.4 55.8h0.6M31.9 54.4h0.6M29.3 51.1h0.6M31.0 54.5h0.6M32.5 53.8h0.6M32.6 51.7h0.6M28.0 56.9h0.6M30.3 52.6h0.6M30.8 51.7h0.6M30.4 51.2h0.6M31.3 53.2h0.6M30.9 54.6h0.6M31.8 50.4h0.6M31.3 54.0h0.6M29.0 54.0h0.6M31.9 55.7h0.6M34.5 53.8h0.6M31.3 59.3h0.6M30.0 52.6h0.6M30.2 53.2h0.6M31.0 55.0h0.6M29.7 51.9h0.6M30.9 51.6h0.6M29.6 55.5h0.6M30.8 52.2h0.6M28.5 52.2h0.6M28.4 55.9h0.6M32.3 55.3h0.6M31.5 53.4h0.6M31.3 54.7h0.6M31.1 53.4h0.6M29.1 55.3h0.6M31.7 51.9h0.6M30.6 54.5h0.6M31.9 50.5h0.6M28.6 51.3h0.6M28.8 52.0h0.6M32.5 51.8h0.6M34.7 55.3h0.6M32.2 54.5h0.6M32.5 55.5h0.6M32.4 56.0h0.6M32.1 55.5h0.6M32.9 54.7h0.6M30.1 58.4h0.6M30.2 55.6h0.6M34.7 53.1h0.6M30.5 53.0h0.6M29.4 56.2h0.6M30.7 54.9h0.6M28.0 55.8h0.6M29.8 49.9h0.6M29.8 50.7h0.6M33.8 50.6h0.6M31.5 52.1h0.6M29.6 51.5h0.6M33.1 51.9h0.6M29.9 55.2h0.6M30.4 56.3h0.6M29.7 50.7h0.6M31.8 57.5h0.6M31.9 52.6h0.6M33.0 56.5h0.6M30.3 55.7h0.6" stroke="#f01818" stroke-width="0.6" opacity="0.75"/>
<path d="M30.9 55.4h0.5M32.6 57.8h0.5M31.2 55.2h0.5M24.8 52.4h0.5M32.2 52.5h0.5M31.9 54.4h0.5M31.2 55.3h0.5M34.3 56.6h0.5M31.1 51.2h0.5M31.9 51.6h0.5M34.1 52.8h0.5M29.5 54.5h0.5M28.5 56.6h0.5M31.8 52.9h0.5M29.7 60.8h0.5M33.9 56.8h0.5M31.7 59.8h0.5M30.0 54.2h0.5M30.7 51.7h0.5M28.8 60.9h0.5M31.4 52.2h0.5M30.4 53.5h0.5M29.9 54.8h0.5M27.3 49.3h0.5M30.5 54.3h0.5M28.1 54.7h0.5M29.6 55.7h0.5M30.5 58.5h0.5M34.5 57.1h0.5M31.1 57.7h0.5M32.9 56.5h0.5M33.0 53.9h0.5M33.0 56.7h0.5M32.0 54.5h0.5M30.0 56.9h0.5M29.8 51.7h0.5M35.2 58.8h0.5M29.1 59.4h0.5M26.0 57.0h0.5M32.7 55.8h0.5M30.5 57.5h0.5M32.3 51.5h0.5M29.2 58.2h0.5M32.9 51.5h0.5M27.4 56.4h0.5M29.0 52.8h0.5M29.8 55.8h0.5M26.0 57.5h0.5M30.1 58.0h0.5M28.2 52.3h0.5M32.3 58.2h0.5M30.9 54.0h0.5M34.4 58.5h0.5M31.8 54.3h0.5M34.2 57.3h0.5M30.2 59.7h0.5M33.8 55.8h0.5M32.2 57.5h0.5M29.9 51.3h0.5M34.0 50.0h0.5M27.3 50.6h0.5M32.3 58.4h0.5M29.5 59.2h0.5M35.1 59.4h0.5M27.9 59.2h0.5M36.8 52.2h0.5M27.0 59.1h0.5M32.4 55.0h0.5M30.9 49.7h0.5M29.0 55.7h0.5M32.2 58.0h0.5M33.4 53.6h0.5M30.9 59.6h0.5M27.7 56.7h0.5M29.0 55.8h0.5M35.7 56.3h0.5M29.9 52.9h0.5M27.6 55.0h0.5M25.4 54.8h0.5M31.4 52.2h0.5M29.1 58.9h0.5M34.2 61.6h0.5M33.9 56.1h0.5M30.5 59.0h0.5M32.8 55.7h0.5M35.6 54.6h0.5M31.5 58.6h0.5M32.3 55.3h0.5M33.7 63.9h0.5M30.3 57.3h0.5M32.2 55.6h0.5M35.3 54.8h0.5M35.3 52.0h0.5M31.4 52.5h0.5M32.0 57.3h0.5M32.5 55.8h0.5M30.4 51.2h0.5M33.2 55.2h0.5M34.0 49.8h0.5M30.5 49.7h0.5" stroke="#f05050" stroke-width="0.5" opacity="0.5"/>
<path d="M24.2 40.2 C24.2 37.8, 38 37.8, 38.2 40.2 C38.4 44, 36 49.5, 31.2 50.3 C26.4 49.5, 24 44, 24.2 40.2 Z" fill="#000" filter="url(#bl)"/>
<path d="M34.7 42.4h0.6M27.7 46.1h0.6M30.8 44.6h0.6M30.8 46.6h0.6M32.0 44.7h0.6M31.1 46.3h0.6M34.8 43.3h0.6M33.9 40.6h0.6M28.5 42.8h0.6M28.7 45.3h0.6M26.6 40.5h0.6M31.7 42.1h0.6M31.3 44.3h0.6M28.9 43.1h0.6M33.9 44.1h0.6M31.3 45.6h0.6M28.7 41.3h0.6M29.9 47.8h0.6M33.1 49.2h0.6M34.3 46.2h0.6M29.5 40.3h0.6M24.1 44.4h0.6M27.4 41.3h0.6M32.9 44.7h0.6M26.8 44.6h0.6M35.6 46.2h0.6M28.8 46.2h0.6M24.6 43.4h0.6M29.6 46.9h0.6M27.1 41.8h0.6M30.0 45.8h0.6M26.5 44.6h0.6M29.9 43.0h0.6M26.9 45.0h0.6M31.5 45.0h0.6M31.6 43.8h0.6M28.2 44.0h0.6M33.6 44.4h0.6M32.8 46.1h0.6M32.2 43.5h0.6M27.9 47.0h0.6M30.5 43.7h0.6M31.4 45.9h0.6M33.9 42.4h0.6M30.8 46.7h0.6M29.1 44.1h0.6M28.3 40.7h0.6M26.8 44.4h0.6M30.2 43.5h0.6M26.0 43.9h0.6M28.5 47.2h0.6M27.8 46.5h0.6M27.2 41.7h0.6M35.8 42.3h0.6M29.7 40.4h0.6M31.6 47.3h0.6M30.1 43.4h0.6M31.1 42.3h0.6M26.9 44.1h0.6M30.0 40.0h0.6M23.1 45.1h0.6M26.9 45.1h0.6M34.0 43.9h0.6M36.1 46.1h0.6M28.6 41.6h0.6M32.7 39.4h0.6M33.4 46.2h0.6M27.1 41.5h0.6M36.9 42.9h0.6M31.6 43.2h0.6M24.3 46.4h0.6M36.4 42.7h0.6M28.1 47.6h0.6M26.1 43.3h0.6M26.6 40.3h0.6M27.0 44.1h0.6M28.6 41.4h0.6M39.2 45.8h0.6M29.3 46.6h0.6M33.1 44.4h0.6M33.5 43.2h0.6M29.1 48.2h0.6M31.3 47.6h0.6M24.4 41.9h0.6M28.0 44.3h0.6M30.8 46.3h0.6M32.7 44.0h0.6M32.8 45.7h0.6M29.4 45.4h0.6M29.7 47.3h0.6M29.3 44.2h0.6M28.3 43.7h0.6M34.7 47.3h0.6M33.9 45.6h0.6M31.4 41.0h0.6M33.1 42.5h0.6M32.0 43.8h0.6M33.8 42.5h0.6M33.6 44.0h0.6M36.4 43.7h0.6M30.5 39.6h0.6M33.9 44.1h0.6M23.7 45.1h0.6M32.6 43.3h0.6M35.3 43.8h0.6M30.5 44.9h0.6M27.3 45.3h0.6M28.2 44.6h0.6M34.7 43.1h0.6M28.9 47.9h0.6M31.1 46.5h0.6M33.0 45.1h0.6M35.7 43.9h0.6M26.0 43.5h0.6M29.1 41.4h0.6M29.7 45.0h0.6" stroke="#000" stroke-width="0.6" opacity="0.7"/>
<rect x="23.3" y="35.4" width="16.5" height="15" fill="none" stroke="#8a8a8a" stroke-width="0.55"/>
<rect x="43.5" y="51.3" width="17.3" height="15.8" fill="none" stroke="#aaa" stroke-width="0.55"/>
<rect x="22.2" y="29.8" width="40.2" height="39.60000000000001" fill="none" stroke="#000" stroke-width="0.9"/>
<path d="M19.80 33.00H22.2M19.80 42.90H22.2M19.80 53.30H22.2M19.80 59.60H22.2M19.80 66.00H22.2" stroke="#000" stroke-width="0.8"/>
<path d="M20.60 36.00H22.2M20.60 39.00H22.2M20.60 47.00H22.2M20.60 50.00H22.2M20.60 56.50H22.2M20.60 62.80H22.2" stroke="#000" stroke-width="0.6"/>
<path d="M22.20 69.4V71.80M29.00 69.4V71.80M40.00 69.4V71.80M49.20 69.4V71.80M58.50 69.4V71.80" stroke="#000" stroke-width="0.8"/>
<path d="M25.00 69.4V70.90M27.00 69.4V70.90M31.00 69.4V70.90M33.00 69.4V70.90M35.00 69.4V70.90M37.00 69.4V70.90M42.00 69.4V70.90M44.00 69.4V70.90M46.00 69.4V70.90M51.00 69.4V70.90M53.00 69.4V70.90M55.00 69.4V70.90M60.00 69.4V70.90M61.50 69.4V70.90" stroke="#000" stroke-width="0.6"/>
<path d="M40.6 111.1h0.6M38.0 111.0h0.6M36.8 109.1h0.6M38.8 112.6h0.6M35.6 110.8h0.6M41.4 109.0h0.6M40.1 111.2h0.6M42.8 109.2h0.6M36.7 114.0h0.6M46.9 112.3h0.6M44.3 109.8h0.6M42.7 111.6h0.6M41.5 108.5h0.6M39.2 112.3h0.6M43.2 111.9h0.6M40.3 112.9h0.6M45.7 108.3h0.6M31.2 110.8h0.6M45.2 114.8h0.6M41.8 109.1h0.6M41.2 109.7h0.6M42.2 110.7h0.6M45.7 109.2h0.6M44.7 109.6h0.6M41.5 111.6h0.6M33.5 106.8h0.6M38.0 110.2h0.6M36.2 112.3h0.6M39.9 112.2h0.6M34.5 110.5h0.6M38.0 112.9h0.6M43.9 110.0h0.6M38.8 105.9h0.6M47.0 111.9h0.6M40.8 111.6h0.6M38.1 107.3h0.6M35.0 109.1h0.6M37.8 108.6h0.6M39.5 112.2h0.6M39.4 111.2h0.6M48.4 109.6h0.6M35.9 112.5h0.6M37.1 114.4h0.6M35.9 110.8h0.6M45.8 107.8h0.6M42.9 111.6h0.6M39.5 113.8h0.6M36.2 112.1h0.6M36.6 113.5h0.6M33.6 110.6h0.6M36.6 108.6h0.6M42.8 110.2h0.6M41.2 106.2h0.6M34.5 108.7h0.6M40.2 107.6h0.6M40.0 112.9h0.6M39.0 111.2h0.6M37.1 109.0h0.6M38.5 111.3h0.6M44.7 111.4h0.6M35.6 112.5h0.6M34.5 106.6h0.6M37.6 109.4h0.6M41.2 110.8h0.6M33.3 109.2h0.6M36.3 115.0h0.6M33.5 108.5h0.6M43.5 114.0h0.6M37.1 113.6h0.6M38.3 108.9h0.6M38.1 112.7h0.6M44.6 110.6h0.6M33.2 111.1h0.6M36.7 109.4h0.6M40.3 111.3h0.6M33.6 109.3h0.6M44.3 110.6h0.6M46.1 106.1h0.6M34.1 110.7h0.6M34.5 111.0h0.6M38.9 108.1h0.6M45.9 114.7h0.6M31.6 110.0h0.6M33.2 109.8h0.6M36.7 110.3h0.6M43.1 113.4h0.6M37.2 111.7h0.6M41.4 107.7h0.6M38.9 108.7h0.6M43.2 113.6h0.6M39.7 113.9h0.6M37.4 109.2h0.6M44.1 111.0h0.6M40.0 108.1h0.6M41.5 110.7h0.6M38.0 108.6h0.6M35.4 109.8h0.6M39.1 113.4h0.6M31.4 107.7h0.6M34.6 109.2h0.6M35.1 108.3h0.6M35.7 111.6h0.6M36.8 108.9h0.6M41.0 111.2h0.6M34.4 113.2h0.6M35.9 108.7h0.6M40.1 109.1h0.6M34.3 113.5h0.6M36.7 108.7h0.6M39.3 110.5h0.6M30.4 109.6h0.6M40.5 109.9h0.6M40.4 108.4h0.6M42.0 110.2h0.6M35.5 108.1h0.6M42.3 110.8h0.6M36.8 111.4h0.6M37.9 110.0h0.6M39.9 109.9h0.6M42.1 115.7h0.6M31.5 110.6h0.6M36.7 112.0h0.6M30.3 115.0h0.6M41.6 115.2h0.6M43.3 108.8h0.6M37.7 114.2h0.6M43.2 109.4h0.6M39.5 113.7h0.6M43.9 110.2h0.6M40.1 112.0h0.6M37.6 110.3h0.6M42.6 110.9h0.6M38.2 113.2h0.6M43.3 112.1h0.6M36.9 109.1h0.6M34.1 109.4h0.6M39.9 108.2h0.6M35.1 108.6h0.6M39.4 110.0h0.6M44.8 113.8h0.6M38.8 110.6h0.6M43.1 109.2h0.6M42.6 108.4h0.6M37.0 111.5h0.6M39.2 107.5h0.6M35.2 111.0h0.6M31.9 114.3h0.6M35.7 111.0h0.6M50.1 110.6h0.6M39.7 112.1h0.6M38.0 108.7h0.6M32.2 111.1h0.6M37.6 113.6h0.6M39.3 112.2h0.6M34.3 110.0h0.6M40.4 110.1h0.6M41.4 110.1h0.6M37.4 111.6h0.6M33.6 116.1h0.6M33.2 113.7h0.6M44.9 110.5h0.6M40.2 112.9h0.6M40.0 112.2h0.6M37.2 111.8h0.6M36.4 108.4h0.6M37.6 112.3h0.6M39.8 111.6h0.6M37.0 111.1h0.6M35.3 110.5h0.6M39.0 109.2h0.6M44.9 107.0h0.6M41.2 110.2h0.6M42.8 109.9h0.6M42.1 109.4h0.6M35.4 110.3h0.6M38.7 108.8h0.6M43.5 108.8h0.6M37.5 111.0h0.6M37.9 113.0h0.6M34.6 112.7h0.6M43.2 111.0h0.6M46.7 107.8h0.6M36.2 107.8h0.6M25.9 105.6h0.6M39.7 108.6h0.6M28.6 110.6h0.6M33.2 109.7h0.6M36.2 113.6h0.6M28.5 110.9h0.6M52.5 111.2h0.6M39.7 110.6h0.6M41.9 111.7h0.6M41.1 108.5h0.6M38.4 111.8h0.6M38.5 111.9h0.6M42.7 113.7h0.6M39.4 112.0h0.6M36.9 110.0h0.6M41.6 108.3h0.6M43.4 108.6h0.6M38.1 109.1h0.6M34.8 111.6h0.6M31.2 113.5h0.6M31.5 112.1h0.6M37.3 110.1h0.6M39.8 113.5h0.6M39.3 109.3h0.6M38.4 112.8h0.6M34.2 111.2h0.6M43.7 109.6h0.6M37.8 112.7h0.6M36.0 110.7h0.6M37.3 111.2h0.6M33.9 107.1h0.6M43.1 109.3h0.6M34.4 112.5h0.6M36.1 110.3h0.6M33.8 110.0h0.6M39.9 113.0h0.6M41.7 108.3h0.6M37.0 112.1h0.6M34.9 108.7h0.6M37.0 113.0h0.6M33.5 112.3h0.6M41.5 109.5h0.6M33.3 110.0h0.6M37.0 109.4h0.6M38.5 115.6h0.6M42.3 113.4h0.6M38.1 113.2h0.6M35.5 111.2h0.6M43.1 115.7h0.6M40.8 111.1h0.6M38.3 108.8h0.6M40.9 114.3h0.6M41.3 110.7h0.6M37.4 108.7h0.6M44.2 110.9h0.6M43.4 109.0h0.6M41.5 112.6h0.6M37.9 109.6h0.6M49.3 114.5h0.6M43.9 109.6h0.6M44.5 112.2h0.6M45.8 110.8h0.6M37.6 108.6h0.6M32.1 107.1h0.6M36.8 110.8h0.6M44.7 115.1h0.6M36.2 106.0h0.6M39.7 111.6h0.6M36.8 108.7h0.6M35.5 111.1h0.6M39.2 107.2h0.6M37.9 108.6h0.6M34.3 110.8h0.6M34.8 111.1h0.6M27.9 111.5h0.6M39.3 109.7h0.6M34.9 107.3h0.6M33.5 114.3h0.6M40.0 110.6h0.6M35.6 109.3h0.6M33.3 111.2h0.6M42.3 108.6h0.6M41.0 109.8h0.6M39.8 108.8h0.6M41.5 114.3h0.6M35.9 110.0h0.6M42.4 109.4h0.6M33.1 105.2h0.6M36.0 113.1h0.6M35.2 110.2h0.6M27.9 109.3h0.6M37.5 109.2h0.6M36.2 108.1h0.6M34.2 113.0h0.6M33.2 113.2h0.6M32.5 113.2h0.6M37.7 112.0h0.6M37.4 111.7h0.6M48.4 106.2h0.6M35.8 111.5h0.6M44.6 108.2h0.6M38.6 112.6h0.6M36.3 110.8h0.6M39.5 112.9h0.6M40.2 111.7h0.6M35.7 109.6h0.6M47.8 108.4h0.6M36.9 109.3h0.6M38.8 108.9h0.6M41.6 109.3h0.6M36.1 107.5h0.6M36.5 107.4h0.6M37.1 111.8h0.6M31.2 114.5h0.6M41.8 111.3h0.6M36.8 112.9h0.6M40.3 109.9h0.6M39.1 111.1h0.6M34.8 113.5h0.6M32.7 111.5h0.6M34.5 110.5h0.6M37.5 111.1h0.6M45.0 110.0h0.6M40.8 111.7h0.6M39.6 108.4h0.6M38.5 107.3h0.6M43.2 114.0h0.6M39.2 111.9h0.6M38.5 106.9h0.6M37.1 112.7h0.6M38.2 109.0h0.6M26.1 112.7h0.6M45.3 114.7h0.6M49.4 106.5h0.6M38.5 112.2h0.6M36.1 111.2h0.6M43.4 109.7h0.6M41.2 108.8h0.6M28.0 110.5h0.6M40.6 111.9h0.6M42.0 108.7h0.6M41.4 104.2h0.6M39.4 108.0h0.6M38.6 108.2h0.6M39.2 112.6h0.6M43.1 109.8h0.6M44.4 111.6h0.6M44.4 110.9h0.6M33.9 110.8h0.6M34.6 108.6h0.6M29.4 110.9h0.6M44.1 108.6h0.6M37.6 107.5h0.6M40.0 113.2h0.6M38.2 112.2h0.6M41.4 110.4h0.6M41.8 107.2h0.6M37.7 111.0h0.6M41.1 113.6h0.6M37.6 108.9h0.6M36.5 110.0h0.6M34.6 107.6h0.6M39.7 108.2h0.6M38.3 110.7h0.6M38.0 112.9h0.6M40.0 111.2h0.6M44.7 110.1h0.6M32.6 109.4h0.6M42.6 108.7h0.6M34.7 111.6h0.6M48.8 110.1h0.6M42.9 114.1h0.6M36.1 109.2h0.6M37.4 109.2h0.6M38.4 108.1h0.6M37.3 110.4h0.6M47.2 108.1h0.6M38.8 109.1h0.6M38.2 109.8h0.6M34.8 110.1h0.6M35.1 111.0h0.6M42.5 111.9h0.6M38.7 112.1h0.6M37.4 111.7h0.6M49.7 111.9h0.6M46.8 112.6h0.6M36.6 111.3h0.6M34.0 111.7h0.6M43.4 111.8h0.6M42.0 111.0h0.6M36.7 106.8h0.6M40.3 112.8h0.6M42.0 110.3h0.6M40.8 111.9h0.6M41.1 109.4h0.6M33.6 106.4h0.6M36.5 109.8h0.6M34.8 110.9h0.6M32.7 111.0h0.6M44.9 110.5h0.6M30.9 110.4h0.6M35.8 110.7h0.6M36.9 109.3h0.6M39.4 112.9h0.6M37.4 110.8h0.6M31.5 114.7h0.6M34.5 110.6h0.6M32.2 111.5h0.6M34.2 110.6h0.6M35.6 109.9h0.6M36.8 108.7h0.6M37.5 108.9h0.6M36.7 109.7h0.6M33.6 110.9h0.6M40.7 111.0h0.6M31.5 111.5h0.6M41.7 107.1h0.6M42.4 105.8h0.6M39.3 112.0h0.6M43.2 113.8h0.6M39.8 112.5h0.6M44.3 114.5h0.6M39.2 112.3h0.6M33.1 108.8h0.6M43.8 111.6h0.6M33.3 110.1h0.6M31.0 110.2h0.6M42.3 107.2h0.6M37.9 111.3h0.6M37.5 110.9h0.6M35.4 108.9h0.6M38.5 106.8h0.6M37.9 107.6h0.6M35.1 113.6h0.6M36.6 109.6h0.6M41.8 109.2h0.6M35.8 110.4h0.6M40.9 108.8h0.6M38.2 106.8h0.6M33.0 110.3h0.6M35.5 111.1h0.6M41.5 106.4h0.6M39.6 110.9h0.6M36.8 110.9h0.6M34.9 111.4h0.6M38.8 114.4h0.6M30.3 108.2h0.6M39.8 112.8h0.6M33.2 108.2h0.6M36.1 111.3h0.6M34.4 112.5h0.6M44.5 110.4h0.6M43.0 107.6h0.6M34.0 111.7h0.6M42.0 108.0h0.6M36.3 111.5h0.6M38.2 109.1h0.6M38.2 112.4h0.6M36.2 107.9h0.6M43.7 109.9h0.6M29.8 111.0h0.6M42.0 113.0h0.6M42.3 110.8h0.6M39.7 111.7h0.6M45.2 111.6h0.6M31.8 112.6h0.6M39.0 110.4h0.6M37.3 112.3h0.6M38.4 111.3h0.6M38.3 112.7h0.6M33.5 111.4h0.6M40.5 110.8h0.6M44.4 114.4h0.6M37.2 113.3h0.6M35.3 114.9h0.6M43.5 109.9h0.6M41.8 112.0h0.6M37.0 108.2h0.6M37.6 112.8h0.6M42.4 111.7h0.6M40.4 109.0h0.6M36.0 111.0h0.6M37.6 108.6h0.6M33.0 113.0h0.6M38.0 111.6h0.6M34.3 108.0h0.6M42.1 111.5h0.6M42.3 109.3h0.6M36.6 111.4h0.6M37.1 113.5h0.6M43.9 109.4h0.6M42.7 110.5h0.6M42.0 111.7h0.6M37.5 111.3h0.6M46.5 113.3h0.6M40.3 110.2h0.6M48.7 114.0h0.6M40.2 112.4h0.6M38.9 112.2h0.6M43.1 111.4h0.6M38.8 110.0h0.6M36.3 110.8h0.6M40.8 106.4h0.6M42.2 109.1h0.6M42.6 113.5h0.6M45.0 112.5h0.6M35.7 114.9h0.6M36.9 114.1h0.6M35.4 110.8h0.6M34.0 110.8h0.6M41.4 113.1h0.6M32.1 110.0h0.6M35.3 113.2h0.6M40.1 113.3h0.6M38.9 114.5h0.6M39.7 112.5h0.6M41.7 111.6h0.6M35.6 110.3h0.6M44.9 114.1h0.6M37.4 112.1h0.6M31.9 113.0h0.6M38.4 106.3h0.6M34.9 110.2h0.6M37.0 110.8h0.6M35.3 107.0h0.6M45.4 109.0h0.6M34.0 107.6h0.6M37.0 113.4h0.6M43.5 115.2h0.6M35.9 110.6h0.6M44.3 110.7h0.6M40.3 114.8h0.6M34.5 108.6h0.6M41.2 109.6h0.6M37.5 113.5h0.6M40.3 114.0h0.6M35.7 110.9h0.6M40.2 111.7h0.6M30.3 108.4h0.6M41.0 107.0h0.6M31.7 109.1h0.6M36.5 112.5h0.6M41.2 110.0h0.6M34.7 108.8h0.6M43.6 111.8h0.6M41.2 106.7h0.6M30.6 112.8h0.6M47.4 112.1h0.6M35.4 107.2h0.6M33.2 111.5h0.6M39.9 109.5h0.6M41.3 114.1h0.6M40.7 109.8h0.6M33.7 109.9h0.6M35.4 114.5h0.6M36.9 114.3h0.6M36.5 111.4h0.6M40.8 110.6h0.6M39.3 111.1h0.6M37.9 111.2h0.6M44.0 115.1h0.6M38.2 114.1h0.6M38.6 111.1h0.6M40.6 110.9h0.6M43.0 110.3h0.6M38.5 111.5h0.6M36.2 109.3h0.6M40.3 112.9h0.6M37.6 108.9h0.6M36.0 110.2h0.6M37.4 110.5h0.6M47.1 108.8h0.6M34.3 109.6h0.6M32.9 112.7h0.6M32.7 109.1h0.6M34.5 111.4h0.6M38.1 109.5h0.6M36.8 112.1h0.6M40.7 114.9h0.6M35.8 113.9h0.6M47.6 112.5h0.6M31.7 111.3h0.6M42.9 112.7h0.6M39.9 109.2h0.6M41.9 112.0h0.6M39.5 107.3h0.6M41.9 111.6h0.6M41.5 110.0h0.6M45.7 113.2h0.6M40.5 108.8h0.6M36.3 107.4h0.6M39.9 109.7h0.6M37.5 106.0h0.6M39.8 108.4h0.6M29.2 114.1h0.6M46.1 110.9h0.6M29.6 110.4h0.6M42.1 109.1h0.6M42.3 113.0h0.6M41.0 112.3h0.6M34.0 109.6h0.6M33.8 107.6h0.6M41.9 110.3h0.6M42.1 110.4h0.6M34.3 113.5h0.6M43.4 110.6h0.6M40.8 107.1h0.6M36.1 113.4h0.6M39.3 110.7h0.6M44.5 114.0h0.6M34.5 109.8h0.6M39.8 108.6h0.6M41.0 112.4h0.6M39.0 107.8h0.6M37.9 110.8h0.6M40.2 110.8h0.6M37.1 114.4h0.6M44.5 109.8h0.6M33.3 113.0h0.6M35.9 108.3h0.6M39.8 108.2h0.6M35.4 110.3h0.6M38.9 109.8h0.6M43.3 112.6h0.6M46.7 112.3h0.6M40.1 113.1h0.6M38.1 113.2h0.6M36.5 109.8h0.6M27.7 108.9h0.6M40.2 112.0h0.6M39.1 111.8h0.6M49.1 111.5h0.6M39.7 110.7h0.6M41.3 108.5h0.6M40.7 115.1h0.6M42.9 112.9h0.6M35.5 107.8h0.6M38.7 112.0h0.6M36.2 109.4h0.6M33.1 108.5h0.6M45.1 111.7h0.6M42.7 110.6h0.6M35.2 109.8h0.6M40.7 109.8h0.6M42.5 112.4h0.6M33.3 111.6h0.6M41.1 115.5h0.6M34.4 110.2h0.6M38.5 110.2h0.6M45.6 109.1h0.6M38.2 113.1h0.6M45.7 111.9h0.6M44.1 110.5h0.6M43.2 110.6h0.6M44.1 108.0h0.6M42.7 109.9h0.6M37.4 110.7h0.6M40.2 110.6h0.6M33.6 109.3h0.6M40.2 112.6h0.6M38.3 111.1h0.6M35.1 111.9h0.6M37.3 107.6h0.6M46.6 109.7h0.6M38.2 113.7h0.6M36.0 107.3h0.6M40.9 112.3h0.6M35.8 109.5h0.6M42.3 109.8h0.6M38.1 110.0h0.6M47.6 107.7h0.6M42.3 110.5h0.6M44.7 105.8h0.6M39.8 111.4h0.6M32.2 105.2h0.6M46.3 111.8h0.6M36.0 108.7h0.6M41.6 112.8h0.6M35.7 110.7h0.6M44.1 108.9h0.6M41.4 113.4h0.6M30.5 107.7h0.6M47.3 110.5h0.6M42.6 111.7h0.6M42.4 113.8h0.6M45.3 113.0h0.6M34.1 108.7h0.6M46.5 109.6h0.6M37.9 107.8h0.6M33.7 109.9h0.6M41.2 111.1h0.6M36.9 108.7h0.6M30.7 111.8h0.6M33.3 112.9h0.6M41.3 107.1h0.6M39.0 113.7h0.6M33.0 111.2h0.6M40.8 111.6h0.6M38.6 114.5h0.6M39.4 108.8h0.6M35.0 109.3h0.6M35.3 110.3h0.6M32.5 115.0h0.6M40.1 110.1h0.6M44.6 113.8h0.6M32.8 111.7h0.6M34.0 108.9h0.6M40.5 110.2h0.6M40.6 109.6h0.6M41.6 111.7h0.6M31.0 110.2h0.6M28.8 107.8h0.6M40.0 112.7h0.6M33.5 109.4h0.6M36.9 108.4h0.6M44.3 113.1h0.6M39.0 110.0h0.6M38.7 110.6h0.6M36.2 108.0h0.6M37.9 111.7h0.6M38.1 113.7h0.6M31.0 109.8h0.6M41.2 113.5h0.6M38.1 111.4h0.6M39.3 111.8h0.6M39.1 111.3h0.6M42.4 110.6h0.6M38.8 108.6h0.6M35.3 110.6h0.6M41.2 110.4h0.6M45.6 110.1h0.6M39.8 110.1h0.6M44.6 110.7h0.6M33.8 109.4h0.6M28.7 112.3h0.6M48.8 110.5h0.6M41.7 112.9h0.6M37.7 109.5h0.6M44.0 108.7h0.6M41.0 112.1h0.6M35.0 106.8h0.6M41.9 110.9h0.6M41.4 108.5h0.6M36.4 111.9h0.6M39.4 111.2h0.6M36.6 111.2h0.6M39.5 112.6h0.6M40.3 111.9h0.6M37.9 116.5h0.6M33.3 112.0h0.6M28.2 109.1h0.6M43.0 106.7h0.6M43.3 108.5h0.6M41.2 109.6h0.6M35.6 109.5h0.6M41.5 110.1h0.6M41.6 110.9h0.6M34.7 113.6h0.6M35.9 110.1h0.6M44.4 114.1h0.6M39.8 113.3h0.6M41.1 108.8h0.6M36.0 110.9h0.6M43.8 109.8h0.6M36.5 108.9h0.6M37.6 108.8h0.6M40.2 112.6h0.6M39.2 106.6h0.6M32.4 110.3h0.6M44.1 109.8h0.6M41.7 110.7h0.6M43.4 108.4h0.6M33.5 109.4h0.6M38.9 111.1h0.6M47.1 111.9h0.6M33.9 112.4h0.6M30.4 112.1h0.6M38.2 108.8h0.6M36.7 109.6h0.6M40.8 110.4h0.6M43.0 109.6h0.6M45.6 115.8h0.6M40.4 113.9h0.6M38.3 111.9h0.6M40.9 106.6h0.6M43.4 109.0h0.6M37.0 109.8h0.6M42.2 110.9h0.6M37.9 110.4h0.6M36.4 113.1h0.6M34.2 111.0h0.6M37.9 111.1h0.6M36.2 109.2h0.6M41.5 112.2h0.6M35.3 107.7h0.6M36.7 111.3h0.6M34.6 108.7h0.6M27.4 111.0h0.6M35.0 112.6h0.6M40.7 111.1h0.6M39.4 112.1h0.6M39.4 111.7h0.6M43.4 109.6h0.6M33.1 110.8h0.6M36.6 114.9h0.6M38.2 108.6h0.6M38.6 110.8h0.6M45.1 111.7h0.6M43.0 111.4h0.6M34.5 110.4h0.6M35.4 115.5h0.6M45.3 110.0h0.6M28.5 109.3h0.6M37.6 109.3h0.6M40.0 111.8h0.6M41.8 112.2h0.6M36.3 109.8h0.6" stroke="#f01414" stroke-width="0.6" opacity="0.75"/>
<path d="M37.2 111.6h0.55M26.1 111.9h0.55M39.8 107.6h0.55M33.5 115.1h0.55M33.0 113.8h0.55M31.2 110.1h0.55M31.0 110.0h0.55M34.8 108.7h0.55M34.5 108.9h0.55M38.3 110.6h0.55M38.2 108.1h0.55M33.9 113.5h0.55M31.1 113.7h0.55M33.4 112.0h0.55M35.1 110.5h0.55M36.3 112.2h0.55M31.5 113.3h0.55M31.7 110.5h0.55M37.0 107.1h0.55M35.0 111.9h0.55M37.7 112.4h0.55M29.8 107.5h0.55M34.6 115.5h0.55M37.7 108.9h0.55M35.8 111.6h0.55M33.7 109.6h0.55M29.5 107.7h0.55M36.2 110.7h0.55M34.2 113.2h0.55M38.2 106.9h0.55M33.5 110.7h0.55M31.5 110.1h0.55M31.7 116.1h0.55M33.1 112.9h0.55M29.6 105.4h0.55M39.0 111.8h0.55M32.9 109.4h0.55M36.9 111.8h0.55M30.7 113.8h0.55M39.8 109.8h0.55M37.9 109.4h0.55M29.3 111.1h0.55M38.5 112.7h0.55M32.9 107.7h0.55M26.5 107.7h0.55M29.6 107.9h0.55M38.8 107.8h0.55M24.3 112.1h0.55M35.5 110.2h0.55M36.4 110.5h0.55M38.2 108.0h0.55M34.7 108.2h0.55M33.4 112.0h0.55M35.4 111.4h0.55M37.6 114.6h0.55M26.3 109.3h0.55M38.3 110.3h0.55M37.8 115.3h0.55M37.6 112.5h0.55M35.2 109.4h0.55M33.3 114.1h0.55M40.6 113.4h0.55M33.9 107.3h0.55M34.4 109.2h0.55M36.9 108.0h0.55M28.5 113.6h0.55M32.9 110.7h0.55M33.7 109.9h0.55M31.4 109.8h0.55M30.5 111.9h0.55M32.2 107.1h0.55M32.3 111.9h0.55M34.3 109.6h0.55M28.4 108.5h0.55M33.4 110.1h0.55M39.0 112.3h0.55M35.3 107.1h0.55M40.2 110.1h0.55M25.0 113.3h0.55M34.2 111.7h0.55M33.3 110.9h0.55M29.5 109.2h0.55M36.1 113.7h0.55M27.9 111.2h0.55M35.8 106.2h0.55M33.3 109.5h0.55M28.7 108.8h0.55M35.3 112.8h0.55M30.8 110.2h0.55M36.9 111.5h0.55M28.1 112.7h0.55M41.7 110.1h0.55M42.9 106.0h0.55M28.5 110.2h0.55M40.3 111.2h0.55M35.9 108.5h0.55M32.6 109.8h0.55M37.9 109.5h0.55M31.3 111.0h0.55M40.8 106.0h0.55M29.9 112.1h0.55M32.6 114.3h0.55M28.3 107.2h0.55M38.7 110.8h0.55M34.9 110.4h0.55M31.3 108.8h0.55M36.5 111.9h0.55M36.7 110.1h0.55M26.1 111.3h0.55M34.7 110.8h0.55M29.5 108.4h0.55M41.4 111.6h0.55M34.6 107.2h0.55M34.4 116.2h0.55M36.8 119.8h0.55M25.7 108.8h0.55M28.8 109.5h0.55M38.0 109.5h0.55M30.0 116.5h0.55M36.1 110.5h0.55M38.3 107.2h0.55M34.7 112.3h0.55M41.1 112.2h0.55M40.6 112.8h0.55M37.3 103.4h0.55M39.6 113.5h0.55M35.7 111.1h0.55M35.2 109.4h0.55M33.0 103.2h0.55M29.8 110.8h0.55M38.5 108.3h0.55M40.1 110.1h0.55M32.8 110.8h0.55M39.2 107.9h0.55M37.9 113.4h0.55M33.5 113.2h0.55M34.9 111.4h0.55M27.8 111.3h0.55M32.1 105.8h0.55M39.6 108.3h0.55M34.0 114.8h0.55M33.8 109.3h0.55M42.8 111.0h0.55M37.8 115.0h0.55M37.9 109.6h0.55M32.5 110.3h0.55M40.9 112.8h0.55M31.8 109.1h0.55M34.6 111.4h0.55M34.3 108.5h0.55M41.0 112.0h0.55M33.0 111.9h0.55M30.5 109.5h0.55M29.6 110.1h0.55M31.0 110.0h0.55M24.0 110.4h0.55M35.0 113.0h0.55M29.7 111.1h0.55M30.9 113.4h0.55M36.1 109.9h0.55M23.4 112.8h0.55M40.1 110.5h0.55M30.8 112.7h0.55M33.6 108.6h0.55M39.2 111.9h0.55M38.4 110.3h0.55M38.4 109.3h0.55M31.5 107.2h0.55M34.6 106.9h0.55M31.5 106.9h0.55M33.9 115.7h0.55M30.4 108.6h0.55M31.5 108.8h0.55M34.5 116.0h0.55M34.9 112.8h0.55M30.1 108.9h0.55M36.7 111.6h0.55M34.2 109.1h0.55M32.1 110.6h0.55M43.8 113.7h0.55M29.8 111.5h0.55M36.1 111.2h0.55M24.8 109.9h0.55M37.7 109.5h0.55M31.2 110.4h0.55M35.1 109.3h0.55M33.1 112.0h0.55M33.5 105.5h0.55M30.7 111.3h0.55M35.6 109.9h0.55M34.3 108.3h0.55M36.6 109.4h0.55M39.4 107.0h0.55M33.0 112.1h0.55M32.9 109.8h0.55M31.0 109.5h0.55M33.1 109.5h0.55M32.8 108.7h0.55M28.3 108.7h0.55M35.8 112.4h0.55M32.6 106.8h0.55M34.8 110.1h0.55M31.1 112.0h0.55M37.5 108.5h0.55M32.9 111.8h0.55M30.6 111.3h0.55M39.6 111.0h0.55M37.1 108.9h0.55M26.2 112.1h0.55M43.8 108.7h0.55M33.9 108.9h0.55M31.6 112.2h0.55M36.2 106.3h0.55M35.0 109.2h0.55M35.9 118.3h0.55M31.1 113.3h0.55M28.3 112.3h0.55M41.3 110.6h0.55M39.2 108.4h0.55M30.3 113.6h0.55M35.7 114.7h0.55M35.6 107.3h0.55M34.1 106.7h0.55M35.0 105.1h0.55M34.5 105.0h0.55M33.6 109.5h0.55M36.7 115.7h0.55M40.8 113.2h0.55M33.6 109.2h0.55M38.8 107.9h0.55M34.8 112.7h0.55M31.6 107.3h0.55M27.2 108.1h0.55M30.7 115.0h0.55M41.6 109.4h0.55M31.2 111.2h0.55M30.0 110.5h0.55M33.1 109.6h0.55M33.5 111.6h0.55M36.5 112.0h0.55M27.2 109.4h0.55M28.1 114.2h0.55M24.0 110.6h0.55M32.2 112.4h0.55M37.7 114.3h0.55M25.8 107.2h0.55M27.2 110.6h0.55M38.7 115.5h0.55M36.3 111.2h0.55" stroke="#f03030" stroke-width="0.55" opacity="0.6"/>
<path d="M43.0 104.6 C47 103.2, 55 103.4, 56.2 108.8 C57 114.5, 54 118.5, 49.2 118.3 C46 118.2, 43.2 117.5, 43.0 115.2 Z" fill="#000" filter="url(#bl)"/>
<path d="M50.6 110.9h0.6M58.7 108.2h0.6M52.4 112.4h0.6M51.6 102.3h0.6M43.2 109.1h0.6M45.1 113.6h0.6M53.5 113.1h0.6M50.7 116.3h0.6M49.4 111.8h0.6M47.4 111.8h0.6M49.2 111.0h0.6M47.6 112.0h0.6M46.9 114.6h0.6M49.3 107.1h0.6M47.3 112.2h0.6M45.7 107.5h0.6M49.6 112.8h0.6M48.8 108.4h0.6M49.7 106.7h0.6M51.8 112.7h0.6M54.7 108.3h0.6M43.7 101.7h0.6M54.8 110.7h0.6M52.0 108.1h0.6M51.4 109.3h0.6M57.4 107.7h0.6M52.7 103.2h0.6M47.6 106.3h0.6M53.2 114.5h0.6M55.0 114.8h0.6M51.6 104.5h0.6M49.3 108.3h0.6M46.7 108.6h0.6M52.4 107.8h0.6M45.5 113.9h0.6M50.3 106.3h0.6M46.4 114.7h0.6M48.2 110.3h0.6M49.3 112.9h0.6M48.0 110.9h0.6M49.9 106.5h0.6M52.5 115.0h0.6M49.7 110.1h0.6M49.1 107.2h0.6M54.9 106.5h0.6M45.6 106.9h0.6M51.4 116.1h0.6M48.0 105.6h0.6M47.4 111.8h0.6M48.2 112.4h0.6M47.1 106.7h0.6M45.7 106.9h0.6M48.6 115.5h0.6M50.7 106.4h0.6M50.6 113.5h0.6M48.5 113.7h0.6M48.3 108.0h0.6M51.4 119.0h0.6M43.7 107.4h0.6M48.1 111.7h0.6M55.5 114.2h0.6M50.7 111.2h0.6M47.0 109.0h0.6M52.2 111.8h0.6M48.0 109.9h0.6M47.9 112.8h0.6M43.2 110.8h0.6M45.2 108.0h0.6M49.7 110.5h0.6M54.0 114.7h0.6M46.4 111.2h0.6M51.0 109.0h0.6M44.2 111.8h0.6M49.2 109.8h0.6M49.1 117.7h0.6M47.2 108.8h0.6M52.4 108.5h0.6M51.3 109.2h0.6M47.3 108.8h0.6M53.9 111.1h0.6M46.8 110.7h0.6M48.2 114.2h0.6M44.2 104.4h0.6M48.5 102.9h0.6M49.3 111.7h0.6M52.7 116.4h0.6M53.6 114.4h0.6M54.8 110.6h0.6M47.5 111.1h0.6M50.5 109.1h0.6M52.9 111.2h0.6M58.4 105.7h0.6M48.6 110.9h0.6M46.4 111.8h0.6M47.8 108.3h0.6M44.6 114.7h0.6M50.2 108.5h0.6M48.6 110.7h0.6M49.0 111.0h0.6M47.5 108.5h0.6M52.7 109.3h0.6M52.0 116.0h0.6M46.5 113.7h0.6M49.1 107.6h0.6M48.6 110.8h0.6M49.1 112.2h0.6M46.1 111.1h0.6M50.2 114.1h0.6M56.8 111.5h0.6M51.2 108.8h0.6M54.3 110.7h0.6M46.9 110.8h0.6M47.8 104.9h0.6M50.3 107.4h0.6M51.0 109.3h0.6M51.7 101.8h0.6M51.2 111.5h0.6M47.5 106.4h0.6M49.9 111.5h0.6M57.6 106.6h0.6M50.4 110.4h0.6M49.4 107.3h0.6M47.8 113.1h0.6M48.8 107.7h0.6M49.9 111.7h0.6M52.5 112.1h0.6M48.9 106.6h0.6M55.6 109.4h0.6M52.4 108.4h0.6M44.9 110.5h0.6M48.3 109.4h0.6M46.3 109.9h0.6M46.0 111.1h0.6M45.4 110.8h0.6M48.8 112.8h0.6M54.5 110.9h0.6M48.4 117.3h0.6M50.1 108.0h0.6M49.1 113.2h0.6M51.8 111.3h0.6M56.3 106.2h0.6M44.0 104.2h0.6M53.1 112.4h0.6M51.8 110.5h0.6M56.4 112.1h0.6M44.1 106.0h0.6M54.4 114.2h0.6M44.3 107.5h0.6M49.2 111.7h0.6M47.7 108.7h0.6M50.5 112.6h0.6M52.9 113.5h0.6M49.7 109.5h0.6M51.5 116.9h0.6M49.6 115.5h0.6M51.6 116.8h0.6M48.4 110.3h0.6M47.2 115.3h0.6M49.6 112.8h0.6M49.0 111.4h0.6M50.9 111.6h0.6M47.8 117.0h0.6M51.9 108.9h0.6M49.1 104.7h0.6M51.6 110.6h0.6M47.5 104.1h0.6M49.5 110.0h0.6M52.1 106.0h0.6M48.8 110.4h0.6M49.8 111.2h0.6M45.7 109.5h0.6M54.1 114.8h0.6M48.1 112.0h0.6M47.5 109.6h0.6M50.0 113.3h0.6M49.8 109.5h0.6M49.6 112.9h0.6M47.2 106.6h0.6M47.9 111.9h0.6M56.3 112.0h0.6" stroke="#000" stroke-width="0.6" opacity="0.7"/>
<rect x="23.6" y="87.1" width="14.7" height="13.5" fill="none" stroke="#8a8a8a" stroke-width="0.55"/>
<rect x="42.9" y="102.5" width="17.9" height="17.6" fill="none" stroke="#999" stroke-width="0.55"/>
<rect x="22.2" y="81.7" width="40.2" height="39.099999999999994" fill="none" stroke="#000" stroke-width="0.9"/>
<path d="M19.80 85.00H22.2M19.80 95.50H22.2M19.80 105.00H22.2M19.80 111.00H22.2M19.80 117.50H22.2" stroke="#000" stroke-width="0.8"/>
<path d="M20.60 88.00H22.2M20.60 91.00H22.2M20.60 99.00H22.2M20.60 102.00H22.2M20.60 108.00H22.2M20.60 114.00H22.2" stroke="#000" stroke-width="0.6"/>
<path d="M22.20 120.8V123.20M29.00 120.8V123.20M40.00 120.8V123.20M49.20 120.8V123.20M58.50 120.8V123.20" stroke="#000" stroke-width="0.8"/>
<path d="M25.00 120.8V122.30M27.00 120.8V122.30M31.00 120.8V122.30M33.00 120.8V122.30M35.00 120.8V122.30M37.00 120.8V122.30M42.00 120.8V122.30M44.00 120.8V122.30M46.00 120.8V122.30M51.00 120.8V122.30M53.00 120.8V122.30M55.00 120.8V122.30M60.00 120.8V122.30M61.50 120.8V122.30" stroke="#000" stroke-width="0.6"/>
<path d="M115.0 79.7h0.5M102.8 75.2h0.5M132.3 93.2h0.5M125.8 84.3h0.5M103.0 97.1h0.5M106.0 88.4h0.5M113.8 75.0h0.5M110.5 86.6h0.5M117.7 85.5h0.5M140.0 91.4h0.5M121.2 75.9h0.5M125.1 75.8h0.5M114.2 71.8h0.5M110.5 85.8h0.5M128.3 76.6h0.5M126.2 96.0h0.5M111.4 78.2h0.5M119.1 69.1h0.5M104.8 76.0h0.5M114.7 75.5h0.5M122.1 66.7h0.5M112.4 68.0h0.5M131.0 98.5h0.5M107.0 65.9h0.5M119.8 86.7h0.5M114.5 77.0h0.5M120.3 89.8h0.5M125.4 76.4h0.5M104.3 69.6h0.5M129.8 91.3h0.5M122.0 84.6h0.5M112.4 77.4h0.5M130.7 74.2h0.5M130.5 78.3h0.5M128.2 81.0h0.5M122.2 72.0h0.5M130.5 91.6h0.5M123.6 71.8h0.5M114.7 75.0h0.5M123.9 77.6h0.5M102.8 79.2h0.5M122.3 81.6h0.5M119.0 86.2h0.5M115.3 93.7h0.5M114.2 93.4h0.5M101.0 72.7h0.5M114.5 90.1h0.5M122.1 83.6h0.5M114.8 96.1h0.5M122.7 71.6h0.5M116.5 87.3h0.5M108.3 81.2h0.5M129.8 72.9h0.5M115.3 90.5h0.5M100.6 94.6h0.5M130.1 88.5h0.5M120.1 87.8h0.5M124.5 78.2h0.5M118.1 86.4h0.5M113.9 78.8h0.5M119.1 90.1h0.5M106.7 83.7h0.5M123.5 83.3h0.5M109.4 57.1h0.5M121.1 81.7h0.5M107.1 99.4h0.5M99.3 79.3h0.5M119.8 79.5h0.5M119.1 70.8h0.5M132.8 81.8h0.5M123.2 77.2h0.5M111.1 68.8h0.5M106.8 85.1h0.5M111.3 79.7h0.5M115.8 91.5h0.5M126.1 91.6h0.5M124.9 69.8h0.5M124.0 83.2h0.5M108.5 80.0h0.5M117.3 81.5h0.5M114.5 87.6h0.5M142.9 83.9h0.5M111.2 60.3h0.5M124.0 90.5h0.5M114.0 75.4h0.5M104.1 79.4h0.5M107.1 79.7h0.5M120.9 85.6h0.5M118.1 89.7h0.5M114.6 84.9h0.5M145.0 75.1h0.5M114.0 97.0h0.5M120.3 75.4h0.5M122.7 83.5h0.5M123.6 77.0h0.5M104.9 77.8h0.5M126.6 85.2h0.5M105.3 75.5h0.5M106.8 72.1h0.5M122.6 80.0h0.5M112.5 73.2h0.5M108.7 70.9h0.5M113.7 68.1h0.5M106.6 95.1h0.5M109.8 75.3h0.5M118.1 72.5h0.5M116.3 91.1h0.5M122.8 76.7h0.5M118.8 83.7h0.5M109.2 76.4h0.5M111.1 84.9h0.5M114.8 90.7h0.5M126.6 84.1h0.5M127.4 83.6h0.5M110.0 84.6h0.5M118.7 94.6h0.5M123.6 88.1h0.5M124.6 74.5h0.5M110.3 90.8h0.5M104.3 87.7h0.5M120.6 74.3h0.5M109.0 84.8h0.5M108.6 88.6h0.5M123.2 84.1h0.5M122.3 87.4h0.5M118.3 86.9h0.5M126.6 71.1h0.5M118.2 83.7h0.5M107.0 76.8h0.5M115.3 80.3h0.5M102.7 78.4h0.5M105.0 81.7h0.5M116.3 88.0h0.5M123.6 92.4h0.5M112.9 71.5h0.5M111.2 83.2h0.5M120.0 78.5h0.5M110.5 81.0h0.5M115.2 59.0h0.5M104.0 80.2h0.5M135.7 96.8h0.5M105.0 92.6h0.5M125.6 77.3h0.5M114.2 76.8h0.5M125.2 76.6h0.5M105.6 69.6h0.5M126.8 86.5h0.5M122.4 66.3h0.5M108.6 77.1h0.5M121.9 85.1h0.5M110.6 81.0h0.5M113.5 75.9h0.5M112.3 78.7h0.5M104.3 70.1h0.5M121.9 71.9h0.5M121.0 76.2h0.5M114.9 86.4h0.5M116.8 82.6h0.5M115.2 91.0h0.5M113.8 72.4h0.5M125.8 69.4h0.5M109.8 67.1h0.5M114.9 93.9h0.5M111.9 84.2h0.5M106.7 73.7h0.5M131.7 76.8h0.5M119.7 78.4h0.5M124.5 73.2h0.5M123.5 73.1h0.5M108.5 88.9h0.5M118.8 85.9h0.5M111.1 76.9h0.5M125.0 77.4h0.5M124.4 67.5h0.5M127.7 82.8h0.5M112.7 79.6h0.5M118.0 57.8h0.5M104.7 73.8h0.5M114.7 85.7h0.5M103.8 71.1h0.5M115.4 76.2h0.5M135.0 70.4h0.5M113.5 76.6h0.5M121.5 82.1h0.5M115.3 70.2h0.5M122.7 77.0h0.5M116.3 86.6h0.5M120.7 66.0h0.5M112.3 72.5h0.5M120.9 87.5h0.5M131.4 82.2h0.5M107.3 78.9h0.5M119.4 75.7h0.5M114.1 79.0h0.5M123.2 90.4h0.5M101.4 87.6h0.5" stroke="#000" stroke-width="0.5" opacity="0.35"/>
<path d="M127.6 73.3h0.5M124.6 72.5h0.5M125.4 69.0h0.5M121.3 73.6h0.5M132.2 72.7h0.5M122.9 71.1h0.5M124.7 71.6h0.5M131.4 73.9h0.5M125.6 72.7h0.5M128.7 74.4h0.5M125.3 67.8h0.5M131.3 71.4h0.5M124.9 71.8h0.5M126.9 68.5h0.5M129.6 68.6h0.5M127.4 76.0h0.5M130.5 71.8h0.5M125.7 71.9h0.5M124.8 69.4h0.5M135.2 69.1h0.5M129.6 71.4h0.5M123.9 67.6h0.5M127.5 73.2h0.5M136.3 70.5h0.5M122.9 73.9h0.5M132.7 70.3h0.5M118.8 73.8h0.5M121.8 69.1h0.5M128.1 70.5h0.5M128.1 71.6h0.5M125.2 77.6h0.5M126.2 68.7h0.5M123.5 69.4h0.5M123.3 71.2h0.5M132.9 69.1h0.5M132.1 72.2h0.5M130.6 70.0h0.5M127.9 71.6h0.5M123.3 70.4h0.5M121.2 69.9h0.5M122.0 72.4h0.5M122.7 69.1h0.5M124.3 70.8h0.5M126.2 74.7h0.5M128.7 70.6h0.5M131.1 71.9h0.5M134.7 69.1h0.5M128.0 74.4h0.5M133.5 73.0h0.5M135.7 73.5h0.5M124.9 72.7h0.5M125.9 72.0h0.5M125.3 72.3h0.5M131.4 71.6h0.5M130.4 67.4h0.5M125.0 70.7h0.5M124.0 71.5h0.5M119.0 72.2h0.5M128.7 73.9h0.5M122.8 71.5h0.5M135.0 73.4h0.5M129.2 69.9h0.5M129.9 68.9h0.5M129.2 69.3h0.5M138.1 73.6h0.5M126.2 71.6h0.5M127.6 73.2h0.5M132.1 65.3h0.5M126.7 72.3h0.5M135.7 75.9h0.5M124.9 71.2h0.5M125.3 73.8h0.5M123.5 68.8h0.5M127.7 68.3h0.5M130.3 67.8h0.5M125.6 70.3h0.5M125.7 72.8h0.5M132.7 67.4h0.5M125.2 67.4h0.5M127.5 71.3h0.5M130.8 72.3h0.5M124.0 78.5h0.5M131.6 73.0h0.5M126.1 72.5h0.5M129.9 66.7h0.5M122.4 71.4h0.5M131.0 73.3h0.5M126.9 65.8h0.5M130.1 66.9h0.5M130.1 76.3h0.5M129.5 72.0h0.5M120.9 69.9h0.5M123.5 68.3h0.5M126.1 68.5h0.5M130.2 71.5h0.5M121.4 69.1h0.5M122.8 72.8h0.5M130.3 68.2h0.5M123.0 71.3h0.5M130.1 72.5h0.5M131.7 70.5h0.5M121.3 71.9h0.5M127.6 73.7h0.5M127.2 74.1h0.5M119.9 70.8h0.5M127.2 68.6h0.5M132.2 70.8h0.5M125.2 72.0h0.5M130.7 71.2h0.5M124.6 69.7h0.5M130.1 73.1h0.5M128.9 72.3h0.5M120.6 71.0h0.5M123.8 74.2h0.5M126.1 72.2h0.5M128.6 67.5h0.5M123.3 67.6h0.5M125.5 70.9h0.5M129.9 73.5h0.5M126.4 70.4h0.5" stroke="#000" stroke-width="0.5" opacity="0.4"/>
<path d="M131 71.5 C132 67, 140 64, 149 64.5 C150 67.5, 146 72.5, 139 74 C135 74.5, 131.5 73.5, 131 71.5 Z" fill="#000" filter="url(#bl)"/>
<ellipse cx="138.8" cy="91" rx="4.8" ry="10.5" transform="rotate(-5 138.8 91)" fill="#000" filter="url(#bl)"/>
<path d="M137.8 64.5h0.55M131.6 68.0h0.55M132.2 71.0h0.55M145.8 68.5h0.55M139.1 65.2h0.55M144.0 67.3h0.55M147.6 68.8h0.55M151.1 66.5h0.55M140.6 68.7h0.55M134.7 65.4h0.55M138.5 72.6h0.55M135.9 68.8h0.55M141.7 68.3h0.55M144.3 71.8h0.55M140.0 66.5h0.55M141.9 67.7h0.55M140.1 69.8h0.55M141.7 67.1h0.55M135.5 68.4h0.55M136.3 69.5h0.55M146.7 70.8h0.55M136.1 70.7h0.55M138.5 69.3h0.55M139.5 67.2h0.55M138.6 71.1h0.55M147.5 68.7h0.55M135.1 66.5h0.55M130.9 71.8h0.55M135.5 71.7h0.55M141.2 67.1h0.55M135.8 70.5h0.55M151.9 68.9h0.55M144.0 65.0h0.55M150.3 67.5h0.55M147.8 71.3h0.55M139.5 69.6h0.55M140.0 68.7h0.55M140.9 67.9h0.55M140.6 68.5h0.55M145.6 70.6h0.55M133.7 68.1h0.55M144.7 70.4h0.55M144.4 64.9h0.55M143.7 65.5h0.55M141.8 66.3h0.55M133.8 71.0h0.55M141.0 67.6h0.55M139.5 73.7h0.55M140.4 70.3h0.55M142.7 62.4h0.55M141.0 69.5h0.55M133.8 70.3h0.55M135.7 67.4h0.55M137.8 69.7h0.55M137.0 71.9h0.55M145.5 67.9h0.55M135.3 67.4h0.55M134.4 67.9h0.55M142.8 69.7h0.55M141.9 71.2h0.55M137.7 74.3h0.55M141.5 69.4h0.55M139.8 68.4h0.55M143.6 69.0h0.55M136.0 71.7h0.55M133.0 68.6h0.55M143.1 67.7h0.55M135.7 70.8h0.55M142.9 71.4h0.55M141.7 67.5h0.55M141.2 69.8h0.55M125.0 78.0h0.55M138.3 68.7h0.55M143.1 68.2h0.55M134.2 71.4h0.55M149.2 66.5h0.55M134.2 75.3h0.55M132.3 68.4h0.55M138.2 72.7h0.55M136.2 62.6h0.55M143.1 66.0h0.55M146.9 69.6h0.55M148.5 71.3h0.55M148.7 66.0h0.55M145.4 70.1h0.55M134.0 67.4h0.55M141.4 68.0h0.55M140.2 69.4h0.55M145.3 67.8h0.55M131.7 68.2h0.55M142.0 70.7h0.55M137.2 68.0h0.55M139.3 67.0h0.55M134.6 68.8h0.55M131.6 75.3h0.55M141.4 67.2h0.55M133.7 69.4h0.55M140.6 70.5h0.55M134.8 71.7h0.55M142.6 66.1h0.55M134.8 70.3h0.55M144.1 68.9h0.55M140.2 65.8h0.55M149.0 69.8h0.55M146.0 64.8h0.55M139.7 67.2h0.55M140.1 71.4h0.55M138.7 69.8h0.55M143.1 71.9h0.55M140.9 68.3h0.55M141.9 70.4h0.55M142.0 66.4h0.55M138.9 72.5h0.55M138.7 66.4h0.55M132.5 68.4h0.55M133.4 69.5h0.55M132.0 73.0h0.55M145.2 66.9h0.55M132.0 67.6h0.55M143.5 69.9h0.55M137.3 72.4h0.55M140.5 66.0h0.55M132.2 69.2h0.55M136.1 72.7h0.55M140.1 66.6h0.55M139.9 68.8h0.55M133.9 67.9h0.55M139.0 68.3h0.55M133.3 70.2h0.55M136.1 64.4h0.55M142.7 69.7h0.55M139.2 68.8h0.55M138.7 69.7h0.55M135.0 67.8h0.55M142.2 69.6h0.55M138.2 71.3h0.55M133.8 70.7h0.55M139.6 69.7h0.55M148.9 69.1h0.55M145.1 73.4h0.55M137.6 70.3h0.55M138.2 69.2h0.55M140.8 72.2h0.55M138.8 70.2h0.55M137.7 68.2h0.55M142.9 68.2h0.55M142.2 70.4h0.55M142.4 64.2h0.55M140.9 67.5h0.55M135.6 71.8h0.55M129.0 70.5h0.55M140.4 66.4h0.55M151.1 73.1h0.55M148.7 67.2h0.55M139.3 65.4h0.55M147.0 66.3h0.55M134.6 68.9h0.55M138.7 69.0h0.55M138.3 68.8h0.55M141.4 68.1h0.55M139.3 73.2h0.55M142.0 70.1h0.55M129.0 71.8h0.55M141.9 68.7h0.55M142.9 68.8h0.55M141.3 65.7h0.55M142.5 66.3h0.55M132.4 72.7h0.55M134.6 73.5h0.55M137.9 69.1h0.55M145.4 68.6h0.55M134.3 76.2h0.55M145.3 68.9h0.55M139.5 67.3h0.55M137.6 67.6h0.55M140.5 70.0h0.55M133.7 68.6h0.55M135.9 69.3h0.55M142.5 69.5h0.55M142.8 66.9h0.55M137.6 68.8h0.55M140.3 70.0h0.55M143.7 68.3h0.55M137.6 70.3h0.55M128.7 73.8h0.55M139.7 69.4h0.55M134.9 72.0h0.55M139.4 69.9h0.55M137.4 67.5h0.55M149.4 63.5h0.55M133.4 68.0h0.55M139.7 68.3h0.55M133.0 68.2h0.55M140.7 66.0h0.55M138.9 65.2h0.55M141.2 67.4h0.55M149.6 66.8h0.55M143.5 69.6h0.55M145.2 69.6h0.55M143.5 70.5h0.55" stroke="#000" stroke-width="0.55" opacity="0.7"/>
<path d="M136.4 97.3h0.55M138.2 93.7h0.55M145.3 91.1h0.55M135.6 96.8h0.55M139.8 92.0h0.55M134.6 89.1h0.55M140.9 88.9h0.55M144.6 79.8h0.55M136.0 96.5h0.55M142.6 95.7h0.55M140.4 80.2h0.55M136.7 87.6h0.55M140.8 95.9h0.55M138.2 89.8h0.55M136.1 101.5h0.55M133.4 83.0h0.55M141.5 95.7h0.55M139.0 99.5h0.55M143.0 89.3h0.55M143.7 88.3h0.55M140.3 101.9h0.55M136.7 83.1h0.55M140.2 89.4h0.55M139.4 79.3h0.55M142.8 91.2h0.55M135.6 90.7h0.55M138.2 93.4h0.55M132.9 88.9h0.55M138.9 89.9h0.55M136.4 88.3h0.55M143.1 84.2h0.55M137.0 94.1h0.55M141.9 92.2h0.55M141.3 100.0h0.55M135.2 90.5h0.55M140.1 92.7h0.55M139.5 94.3h0.55M140.8 94.6h0.55M135.3 89.0h0.55M135.7 94.6h0.55M141.7 93.1h0.55M138.5 89.9h0.55M135.4 79.5h0.55M146.6 88.5h0.55M137.8 95.7h0.55M139.7 92.1h0.55M137.0 85.1h0.55M143.5 93.5h0.55M141.2 83.9h0.55M136.6 94.2h0.55M141.0 92.3h0.55M144.6 90.1h0.55M141.7 101.3h0.55M140.7 91.5h0.55M137.5 93.7h0.55M140.9 81.3h0.55M139.4 82.9h0.55M134.5 80.4h0.55M140.3 82.6h0.55M139.2 91.0h0.55M135.5 93.9h0.55M138.8 87.8h0.55M135.2 93.1h0.55M135.0 83.8h0.55M131.3 94.0h0.55M141.2 101.9h0.55M134.3 86.0h0.55M143.6 84.6h0.55M140.9 86.4h0.55M139.8 97.1h0.55M135.1 91.6h0.55M136.1 77.9h0.55M140.3 91.9h0.55M138.9 96.7h0.55M138.5 91.9h0.55M139.6 94.8h0.55M136.4 89.5h0.55M139.0 90.4h0.55M138.0 85.5h0.55M139.4 86.9h0.55M140.6 89.3h0.55M142.5 101.5h0.55M136.7 81.7h0.55M132.5 95.8h0.55M143.4 84.8h0.55M141.1 77.9h0.55M142.0 100.3h0.55M141.3 98.4h0.55M138.4 96.9h0.55M138.6 94.1h0.55M132.8 88.9h0.55M137.6 94.0h0.55M139.6 86.6h0.55M139.6 92.1h0.55M136.4 76.5h0.55M137.3 83.7h0.55M137.5 81.3h0.55M143.1 90.5h0.55M137.6 85.4h0.55M143.9 83.4h0.55M136.4 94.9h0.55M142.9 103.2h0.55M137.6 82.6h0.55M139.8 100.7h0.55M144.5 87.0h0.55M137.6 91.6h0.55M138.2 89.4h0.55M136.0 93.7h0.55M143.3 86.9h0.55M141.5 96.2h0.55M137.5 87.4h0.55M138.0 90.0h0.55M138.4 83.0h0.55M144.5 84.5h0.55M138.5 92.9h0.55M136.4 83.3h0.55M138.6 85.8h0.55M134.3 97.0h0.55M136.9 88.1h0.55M142.4 97.2h0.55M140.5 85.5h0.55M138.9 92.3h0.55M134.2 88.8h0.55M141.5 94.4h0.55M136.4 95.8h0.55M136.1 87.3h0.55M138.1 87.0h0.55M138.5 84.2h0.55M135.2 86.7h0.55M145.4 81.6h0.55M143.5 91.8h0.55M134.6 89.2h0.55M139.1 97.4h0.55M136.1 94.1h0.55M141.0 88.4h0.55M137.9 91.6h0.55M137.7 95.0h0.55M137.4 93.2h0.55M138.1 96.3h0.55M135.5 92.6h0.55M136.0 84.4h0.55M135.7 92.0h0.55M134.5 90.2h0.55M140.8 80.2h0.55M140.1 94.3h0.55M134.4 82.8h0.55M133.6 94.4h0.55M138.6 90.7h0.55M145.3 88.8h0.55M134.8 98.6h0.55M140.0 99.3h0.55M136.9 86.4h0.55M139.7 88.5h0.55M140.5 98.0h0.55M138.7 89.7h0.55M137.9 87.2h0.55M135.3 90.0h0.55M138.5 84.9h0.55M139.3 86.0h0.55M141.5 89.2h0.55M140.1 95.6h0.55M143.1 87.7h0.55M138.2 93.6h0.55M137.0 82.1h0.55M140.7 95.3h0.55M140.4 83.4h0.55M142.8 89.1h0.55M140.5 97.4h0.55M136.6 68.9h0.55M138.2 94.1h0.55M141.2 82.8h0.55M141.1 96.0h0.55M141.9 89.2h0.55M137.5 90.3h0.55M141.7 90.4h0.55M136.4 89.6h0.55M141.7 88.8h0.55M135.6 82.1h0.55M140.2 84.5h0.55M141.2 83.0h0.55M136.8 96.8h0.55M135.2 88.4h0.55M137.4 85.5h0.55M141.6 80.3h0.55M141.3 99.9h0.55M140.2 95.9h0.55M138.8 89.5h0.55M140.9 90.3h0.55M141.2 84.8h0.55M132.0 87.8h0.55M134.4 103.3h0.55M138.6 84.0h0.55M133.4 92.7h0.55M140.8 92.4h0.55M136.0 98.5h0.55M142.8 87.0h0.55M142.2 100.7h0.55M144.1 89.6h0.55M137.3 101.1h0.55M141.6 96.5h0.55M138.0 83.7h0.55M137.1 97.8h0.55M136.3 86.7h0.55M138.3 94.8h0.55M145.6 87.1h0.55M140.1 93.8h0.55M133.5 87.5h0.55M131.2 81.9h0.55M137.2 96.2h0.55M141.3 100.1h0.55M139.0 95.4h0.55M140.4 89.2h0.55M135.8 101.3h0.55M138.7 95.2h0.55M143.8 82.6h0.55M136.0 98.2h0.55M135.0 84.1h0.55M137.9 88.2h0.55M138.1 87.7h0.55M139.4 88.9h0.55M140.1 97.6h0.55M140.0 85.9h0.55M137.5 93.2h0.55M137.9 86.2h0.55M138.6 92.1h0.55M138.8 94.6h0.55M140.4 93.7h0.55M140.7 84.9h0.55M142.1 87.2h0.55M134.9 91.4h0.55M138.1 87.0h0.55M138.6 99.6h0.55M136.8 85.1h0.55M133.6 95.6h0.55M139.7 93.2h0.55M136.0 82.0h0.55M138.2 95.4h0.55M136.6 84.6h0.55M140.0 91.5h0.55M140.9 94.6h0.55M143.7 92.6h0.55M136.4 85.0h0.55M138.6 94.5h0.55M141.8 88.4h0.55M137.9 97.4h0.55M132.7 87.6h0.55M136.5 90.2h0.55M144.1 96.8h0.55M140.5 82.3h0.55M140.1 103.2h0.55M134.1 91.5h0.55M142.3 92.5h0.55M140.0 80.4h0.55M139.7 84.9h0.55M138.8 103.0h0.55M144.6 83.4h0.55" stroke="#000" stroke-width="0.55" opacity="0.7"/>
<rect x="131.3" y="60.1" width="21.3" height="43.6" fill="none" stroke="#777" stroke-width="0.6"/>
<rect x="97.4" y="53.8" width="64.19999999999999" height="50.400000000000006" fill="none" stroke="#000" stroke-width="0.9"/>
<path d="M95.00 57.00H97.4M95.00 68.00H97.4M95.00 79.00H97.4M95.00 86.00H97.4M95.00 97.00H97.4" stroke="#000" stroke-width="0.8"/>
<path d="M95.80 60.00H97.4M95.80 62.00H97.4M95.80 64.00H97.4M95.80 66.00H97.4M95.80 71.00H97.4M95.80 73.00H97.4M95.80 75.00H97.4M95.80 77.00H97.4M95.80 82.00H97.4M95.80 84.00H97.4M95.80 89.00H97.4M95.80 91.00H97.4M95.80 93.00H97.4M95.80 95.00H97.4M95.80 100.00H97.4" stroke="#000" stroke-width="0.6"/>
<path d="M97.40 104.2V106.60M104.00 104.2V106.60M120.00 104.2V106.60M131.00 104.2V106.60M142.00 104.2V106.60M154.00 104.2V106.60" stroke="#000" stroke-width="0.8"/>
<path d="M106.00 104.2V105.70M108.00 104.2V105.70M110.00 104.2V105.70M112.00 104.2V105.70M114.00 104.2V105.70M116.00 104.2V105.70M118.00 104.2V105.70M123.00 104.2V105.70M125.00 104.2V105.70M127.00 104.2V105.70M133.00 104.2V105.70M135.00 104.2V105.70M137.00 104.2V105.70M139.00 104.2V105.70M145.00 104.2V105.70M147.00 104.2V105.70M149.00 104.2V105.70M151.00 104.2V105.70M156.00 104.2V105.70M158.00 104.2V105.70" stroke="#000" stroke-width="0.6"/>
<path d="M199.9 78.3h0.5M243.8 96.2h0.5M223.1 93.5h0.5M206.8 88.6h0.5M219.8 92.8h0.5M232.0 81.9h0.5M203.8 87.7h0.5M213.0 69.9h0.5M216.4 89.2h0.5M234.6 97.1h0.5M219.9 89.7h0.5M208.6 81.6h0.5M230.5 87.1h0.5M204.1 97.6h0.5M220.5 83.3h0.5M216.3 90.0h0.5M221.6 75.7h0.5M218.8 87.5h0.5M214.2 85.2h0.5M214.7 85.2h0.5M239.5 101.2h0.5M211.1 73.8h0.5M220.5 86.0h0.5M230.0 90.1h0.5M230.3 91.9h0.5M229.9 94.8h0.5M220.0 78.1h0.5M220.2 79.4h0.5M227.7 85.2h0.5M212.6 92.3h0.5M214.2 69.3h0.5M198.9 73.9h0.5M221.0 76.4h0.5M217.4 82.2h0.5M228.6 85.9h0.5M238.5 86.2h0.5M217.4 90.5h0.5M229.2 78.0h0.5M226.9 85.1h0.5M224.0 93.3h0.5M204.6 81.8h0.5M217.8 89.6h0.5M210.4 85.3h0.5M242.3 71.2h0.5M213.8 84.8h0.5M222.1 89.0h0.5M228.3 90.8h0.5M220.0 95.8h0.5M236.3 77.5h0.5M233.5 81.8h0.5M248.1 93.8h0.5M218.1 94.9h0.5M254.6 95.0h0.5M216.0 91.4h0.5M224.2 85.6h0.5M229.3 89.4h0.5M228.5 78.8h0.5M200.2 84.8h0.5M218.8 100.2h0.5M220.0 101.6h0.5M213.2 76.7h0.5M227.8 80.8h0.5M214.9 73.0h0.5M236.2 86.0h0.5M232.2 94.5h0.5M237.1 84.8h0.5M227.5 102.0h0.5M223.1 84.2h0.5M228.1 98.4h0.5M221.9 89.5h0.5M240.4 78.4h0.5M230.1 89.0h0.5M226.2 88.5h0.5M225.1 81.2h0.5M223.0 80.5h0.5M223.9 80.0h0.5M218.6 86.4h0.5M225.4 88.8h0.5M229.9 90.6h0.5M220.2 74.3h0.5M227.4 94.3h0.5M198.5 79.3h0.5M221.8 92.8h0.5M217.5 91.1h0.5M246.2 89.3h0.5M236.7 94.7h0.5M217.8 90.0h0.5M228.2 84.1h0.5M229.8 90.9h0.5M225.6 84.4h0.5M235.8 92.0h0.5M234.0 77.9h0.5M226.6 76.8h0.5M229.6 94.2h0.5M240.1 88.2h0.5M220.6 84.8h0.5M213.8 83.2h0.5M226.3 87.3h0.5M215.0 84.8h0.5M219.0 83.5h0.5M226.8 103.4h0.5M213.0 81.3h0.5M225.5 90.0h0.5M216.3 81.9h0.5M228.4 85.3h0.5M244.1 82.2h0.5M233.4 92.8h0.5M206.6 87.1h0.5M224.9 88.2h0.5M231.9 84.9h0.5M208.4 93.1h0.5M219.0 90.7h0.5M225.1 89.5h0.5M228.3 89.5h0.5M221.6 79.2h0.5M229.0 87.1h0.5M224.8 93.5h0.5M219.6 87.8h0.5M210.6 89.3h0.5M215.0 74.1h0.5M227.6 84.7h0.5M243.4 75.2h0.5M230.7 88.0h0.5M222.0 82.5h0.5M232.3 82.8h0.5M218.9 91.9h0.5M227.9 89.0h0.5M224.0 87.3h0.5M226.7 71.2h0.5M225.7 85.5h0.5M227.0 86.9h0.5M226.2 96.3h0.5M230.7 82.9h0.5M223.3 87.5h0.5M238.4 86.5h0.5M228.3 87.9h0.5M228.1 97.1h0.5M223.4 100.2h0.5M212.7 67.6h0.5M218.8 97.6h0.5M238.0 90.9h0.5M217.6 103.6h0.5M205.1 86.7h0.5M211.7 97.0h0.5M243.0 93.6h0.5M214.6 82.3h0.5M226.6 98.5h0.5M216.4 103.1h0.5M221.4 95.5h0.5M202.8 93.2h0.5M217.4 85.1h0.5M228.9 90.7h0.5M210.5 79.4h0.5" stroke="#222" stroke-width="0.5" opacity="0.45"/>
<path d="M231.5 81.3h0.5M234.5 91.0h0.5M236.5 79.5h0.5M236.5 84.0h0.5M235.1 96.8h0.5M231.9 85.3h0.5M235.5 87.5h0.5M232.3 82.7h0.5M236.4 80.6h0.5M233.8 78.3h0.5M232.2 86.3h0.5M232.4 94.9h0.5M232.7 86.0h0.5M236.3 100.5h0.5M233.9 86.2h0.5M237.0 85.3h0.5M232.7 77.5h0.5M237.2 81.4h0.5M235.3 91.4h0.5M236.8 77.8h0.5M235.1 79.7h0.5M234.9 82.8h0.5M236.1 86.3h0.5M236.6 90.0h0.5M236.1 90.0h0.5M233.8 85.5h0.5M232.4 88.2h0.5M236.2 81.4h0.5M237.5 86.9h0.5M236.3 78.1h0.5M235.9 81.0h0.5M236.6 79.8h0.5M234.9 78.5h0.5M236.8 79.6h0.5M234.6 86.8h0.5M233.6 79.4h0.5M233.7 84.6h0.5M232.2 80.5h0.5M231.1 87.8h0.5M233.2 83.7h0.5M235.8 77.6h0.5M236.5 85.4h0.5M236.2 83.2h0.5M232.6 84.3h0.5M235.5 93.1h0.5M233.6 89.9h0.5M235.5 85.7h0.5M229.6 84.6h0.5M234.5 84.5h0.5M232.3 91.4h0.5M236.7 84.0h0.5M234.4 83.0h0.5M230.4 88.5h0.5M232.8 77.3h0.5M232.0 90.1h0.5M232.7 78.9h0.5M234.4 88.6h0.5M230.6 93.4h0.5M234.8 84.9h0.5M236.8 81.9h0.5M235.9 82.6h0.5M237.5 82.9h0.5M237.5 90.0h0.5M229.5 83.4h0.5M235.5 85.8h0.5M234.9 88.4h0.5M229.8 78.1h0.5M237.2 76.5h0.5M237.4 85.0h0.5M232.1 80.6h0.5M235.3 76.9h0.5M235.3 76.7h0.5M237.3 92.0h0.5M233.7 81.9h0.5M237.4 89.2h0.5M236.0 84.3h0.5M237.1 88.4h0.5M233.6 87.3h0.5M236.7 94.0h0.5M233.7 79.3h0.5M232.3 86.4h0.5M232.6 90.1h0.5M235.1 85.4h0.5M236.1 84.6h0.5M233.5 80.2h0.5M231.9 81.9h0.5M235.3 87.0h0.5M237.4 89.5h0.5M232.2 80.6h0.5M235.2 91.1h0.5M233.5 85.5h0.5M231.9 87.0h0.5M233.0 92.2h0.5M236.6 85.8h0.5M237.6 83.8h0.5M235.6 87.4h0.5M235.9 86.8h0.5M232.5 80.5h0.5M233.6 87.9h0.5M232.6 88.3h0.5M230.2 91.4h0.5M233.2 81.5h0.5M233.7 83.7h0.5M233.2 89.5h0.5M237.0 84.2h0.5M234.9 89.8h0.5M235.2 97.0h0.5M236.6 81.1h0.5M236.6 88.1h0.5M235.7 87.0h0.5M232.6 90.1h0.5M235.4 76.6h0.5M233.7 84.3h0.5M231.4 98.7h0.5M236.7 94.6h0.5M230.9 95.4h0.5M232.8 89.6h0.5M237.1 90.8h0.5M234.8 82.9h0.5M234.3 82.2h0.5M237.6 85.8h0.5M237.3 82.3h0.5M235.7 85.0h0.5M237.1 84.7h0.5M233.0 93.7h0.5M236.3 78.0h0.5M233.5 88.6h0.5M233.8 87.9h0.5M234.1 83.0h0.5M235.6 81.4h0.5M232.5 83.5h0.5M236.0 87.6h0.5M237.4 86.0h0.5M235.4 82.4h0.5M235.8 78.2h0.5M235.1 85.2h0.5M236.3 79.0h0.5M235.2 83.8h0.5M234.9 81.1h0.5M235.6 84.3h0.5M233.8 93.3h0.5M234.9 85.3h0.5M232.8 87.7h0.5M233.8 85.8h0.5M233.9 83.8h0.5M231.7 87.5h0.5M232.2 79.9h0.5M235.9 76.7h0.5M236.5 84.7h0.5M234.7 94.0h0.5M230.2 82.2h0.5M236.5 81.2h0.5M235.7 84.4h0.5M232.8 93.3h0.5M229.0 95.6h0.5M231.9 83.5h0.5M233.6 81.8h0.5M235.0 87.8h0.5M232.7 88.4h0.5M234.6 82.2h0.5M235.2 87.0h0.5M233.9 78.9h0.5M233.3 87.0h0.5M237.0 86.6h0.5M235.0 94.4h0.5M237.5 89.1h0.5M235.9 85.6h0.5M235.0 87.9h0.5M232.1 79.2h0.5M237.2 81.7h0.5M236.4 87.7h0.5M230.5 85.0h0.5M236.9 79.8h0.5M235.8 84.9h0.5M234.8 87.4h0.5M233.4 82.9h0.5M234.5 82.6h0.5M235.6 89.6h0.5M235.9 88.3h0.5M230.8 80.7h0.5M235.7 82.2h0.5M236.2 86.0h0.5M234.2 85.7h0.5M234.9 77.4h0.5M233.1 97.0h0.5M234.9 84.4h0.5M234.5 85.7h0.5M235.1 94.5h0.5M233.9 84.3h0.5M231.5 100.9h0.5M235.4 81.6h0.5M235.1 78.1h0.5M235.9 90.8h0.5M234.5 91.4h0.5M236.1 87.2h0.5M234.0 83.8h0.5M234.0 87.0h0.5M233.2 93.3h0.5M232.5 92.8h0.5M231.3 82.2h0.5M237.3 83.1h0.5M232.4 88.4h0.5M232.9 85.9h0.5M235.0 86.2h0.5M237.6 93.5h0.5M235.7 92.5h0.5M234.1 94.2h0.5M235.8 76.5h0.5M233.1 77.2h0.5M233.3 95.7h0.5M236.1 90.8h0.5M237.4 92.7h0.5M230.7 88.0h0.5M234.5 82.7h0.5M235.2 77.1h0.5M236.9 85.6h0.5M231.8 89.5h0.5M233.6 89.0h0.5M236.5 82.8h0.5M236.1 83.9h0.5M237.5 77.6h0.5M231.4 77.4h0.5M232.6 81.1h0.5M236.1 77.6h0.5M233.2 86.6h0.5M230.8 79.1h0.5M235.0 82.8h0.5M234.2 83.0h0.5M236.3 85.6h0.5M235.0 88.6h0.5M237.4 87.6h0.5M231.5 84.5h0.5M233.1 86.9h0.5M236.6 84.4h0.5M235.7 80.5h0.5M235.8 81.8h0.5M232.9 79.6h0.5M231.9 89.9h0.5M234.7 82.8h0.5M235.8 84.5h0.5M233.6 87.1h0.5M236.3 88.6h0.5M236.7 85.3h0.5M229.2 83.5h0.5M235.4 88.1h0.5M236.6 88.1h0.5M237.4 88.0h0.5M235.6 92.3h0.5M235.1 89.7h0.5M234.1 86.9h0.5M232.8 83.3h0.5M234.4 81.0h0.5" stroke="#1a1a1a" stroke-width="0.5" opacity="0.5"/>
<path d="M239.3 85.3h0.5M236.7 79.9h0.5M230.1 79.1h0.5M237.1 84.4h0.5M232.2 84.8h0.5M229.5 77.0h0.5M232.4 80.7h0.5M235.3 79.7h0.5M236.7 82.9h0.5M239.1 78.1h0.5M233.1 81.3h0.5M234.6 84.9h0.5M245.3 79.4h0.5M243.9 75.7h0.5M233.7 81.3h0.5M233.6 79.5h0.5M225.7 79.5h0.5M233.6 82.5h0.5M234.7 84.4h0.5M231.2 78.2h0.5M235.8 76.1h0.5M233.1 80.3h0.5M230.0 80.9h0.5M238.7 86.0h0.5M235.9 77.8h0.5M236.4 85.7h0.5M224.1 79.8h0.5M240.0 77.9h0.5M231.2 83.7h0.5M226.7 76.2h0.5M232.7 83.5h0.5M229.0 84.7h0.5M232.7 83.3h0.5M242.8 81.1h0.5M240.2 87.8h0.5M234.7 80.2h0.5M231.8 82.9h0.5M243.2 75.2h0.5M237.3 82.7h0.5M234.0 84.7h0.5M234.9 82.7h0.5M225.7 80.5h0.5M240.1 78.7h0.5M233.7 77.5h0.5M229.4 81.9h0.5M234.3 82.0h0.5M240.0 80.4h0.5M229.7 78.6h0.5M229.8 75.1h0.5M233.6 85.0h0.5M234.8 77.5h0.5M235.0 78.2h0.5M234.0 82.8h0.5M230.3 78.4h0.5M225.6 81.1h0.5M238.1 84.1h0.5M235.4 80.4h0.5M236.7 78.5h0.5M235.2 70.9h0.5M228.4 75.0h0.5M241.2 79.2h0.5M237.8 75.1h0.5M236.5 77.6h0.5M232.6 74.6h0.5M235.0 78.6h0.5M227.4 85.9h0.5M235.1 74.5h0.5M225.3 81.5h0.5M232.2 81.5h0.5M238.4 83.3h0.5M245.1 81.4h0.5M236.0 81.3h0.5M233.7 79.3h0.5M231.8 76.7h0.5M228.8 75.2h0.5M229.5 84.9h0.5M224.9 79.8h0.5M236.5 83.7h0.5M240.0 79.0h0.5M230.9 79.9h0.5M233.0 81.9h0.5M229.3 82.3h0.5M234.3 80.6h0.5M229.4 77.4h0.5M232.3 81.0h0.5M236.9 81.6h0.5M235.4 78.8h0.5M235.4 80.8h0.5M239.4 81.5h0.5M226.0 78.2h0.5M235.8 77.7h0.5M226.5 82.0h0.5M228.5 81.3h0.5M235.1 80.1h0.5M232.2 81.7h0.5M230.8 80.9h0.5M231.2 79.0h0.5M239.0 86.0h0.5M237.8 76.9h0.5M230.9 83.1h0.5M237.1 77.1h0.5M228.6 90.6h0.5M233.3 81.4h0.5M239.2 80.0h0.5M232.7 77.3h0.5M236.6 79.9h0.5M247.0 78.6h0.5M228.5 89.8h0.5M237.4 81.9h0.5M227.1 80.5h0.5M232.5 79.5h0.5M230.9 77.8h0.5M235.5 76.3h0.5M244.8 77.3h0.5M230.2 77.2h0.5M230.9 81.7h0.5M234.5 75.5h0.5M233.4 77.0h0.5M226.4 81.0h0.5M230.9 80.8h0.5M228.0 80.6h0.5M232.3 78.3h0.5M237.2 83.1h0.5M236.6 78.3h0.5M236.2 77.7h0.5M232.6 77.6h0.5M246.6 80.1h0.5M237.3 77.3h0.5M235.1 79.1h0.5M228.9 77.7h0.5M234.3 80.3h0.5M229.1 82.3h0.5M229.4 82.1h0.5M237.0 81.6h0.5M230.3 76.4h0.5M231.1 85.3h0.5M234.9 80.2h0.5M233.8 80.3h0.5M223.5 76.6h0.5M234.0 78.9h0.5M225.8 78.6h0.5M234.7 73.3h0.5M236.4 84.4h0.5M231.8 79.6h0.5M235.0 78.4h0.5M229.4 80.4h0.5M233.4 81.5h0.5M232.8 80.1h0.5M236.9 79.6h0.5M236.5 83.8h0.5M224.7 78.9h0.5M235.1 87.5h0.5M233.4 77.0h0.5M229.7 71.8h0.5M241.6 78.2h0.5M233.0 80.1h0.5M233.0 82.4h0.5M235.9 77.7h0.5M233.2 74.3h0.5M228.0 82.2h0.5M237.2 75.9h0.5M225.5 79.4h0.5M232.3 75.7h0.5M239.2 74.5h0.5M227.5 87.1h0.5M227.4 81.3h0.5M222.4 82.0h0.5M242.2 82.3h0.5M240.6 87.2h0.5M234.1 79.8h0.5M233.7 81.1h0.5M230.0 75.7h0.5M238.5 82.5h0.5M231.3 80.6h0.5M222.4 84.5h0.5M234.4 81.6h0.5M231.7 77.4h0.5M233.2 79.7h0.5M232.7 74.7h0.5M223.9 79.5h0.5M242.3 76.1h0.5M243.7 79.9h0.5M241.0 82.2h0.5M246.9 76.0h0.5M233.0 87.9h0.5M239.8 78.1h0.5M230.3 77.5h0.5M231.5 82.5h0.5M235.8 75.1h0.5M229.7 84.1h0.5M233.7 77.7h0.5M238.2 86.0h0.5M236.0 81.7h0.5M234.5 77.6h0.5M230.8 72.4h0.5M228.9 79.2h0.5M236.3 88.0h0.5M234.7 76.9h0.5M225.2 78.1h0.5M230.3 81.3h0.5" stroke="#111" stroke-width="0.5" opacity="0.5"/>
<path d="M240.5 84.8h0.6M244.6 82.4h0.6M240.4 87.4h0.6M240.3 71.1h0.6M243.4 79.5h0.6M246.4 92.3h0.6M243.8 80.2h0.6M244.7 86.1h0.6M245.2 83.6h0.6M243.1 86.0h0.6M244.1 84.3h0.6M247.7 91.9h0.6M244.0 84.8h0.6M241.6 77.5h0.6M243.5 78.9h0.6M247.8 90.0h0.6M243.1 89.6h0.6M245.9 86.7h0.6M242.0 83.9h0.6M243.4 84.5h0.6M245.3 88.2h0.6M245.0 81.0h0.6M246.4 97.8h0.6M247.4 90.9h0.6M248.0 77.6h0.6M247.3 88.0h0.6M245.3 95.0h0.6M246.5 79.8h0.6M244.9 82.4h0.6M247.0 92.9h0.6M242.2 81.2h0.6M248.3 103.6h0.6M245.3 78.0h0.6M244.6 75.6h0.6M242.9 83.8h0.6M242.0 78.1h0.6M245.0 87.8h0.6M242.9 85.0h0.6M246.7 73.8h0.6M251.0 89.4h0.6M241.7 95.6h0.6M248.3 89.5h0.6M245.5 85.1h0.6M251.3 91.3h0.6M243.5 93.4h0.6M243.6 81.8h0.6M247.0 87.0h0.6M246.0 83.5h0.6M246.8 100.2h0.6M241.6 85.2h0.6M245.0 89.8h0.6M240.5 82.4h0.6M246.8 93.7h0.6M241.6 84.7h0.6M244.7 95.9h0.6M248.1 97.2h0.6M245.5 80.4h0.6M245.6 93.3h0.6M242.5 77.3h0.6M241.4 78.5h0.6M242.4 85.3h0.6M246.6 85.9h0.6M240.5 83.0h0.6M247.2 81.6h0.6M242.9 83.9h0.6M245.3 80.7h0.6M243.8 79.8h0.6M247.6 91.1h0.6M245.1 86.5h0.6M241.9 81.8h0.6M243.5 98.9h0.6M246.8 73.0h0.6M244.7 99.0h0.6M243.6 89.7h0.6M246.1 99.0h0.6M245.8 92.3h0.6M244.9 84.1h0.6M247.4 80.9h0.6M242.4 84.3h0.6M248.2 101.1h0.6M246.1 93.8h0.6M245.0 89.9h0.6M241.1 85.1h0.6M246.2 88.1h0.6M243.5 85.1h0.6M242.8 82.5h0.6M249.2 92.0h0.6M245.8 100.7h0.6M245.7 78.3h0.6M246.7 83.6h0.6M244.0 79.6h0.6M244.0 91.0h0.6M245.4 82.6h0.6M242.3 72.9h0.6M242.1 73.9h0.6M241.2 80.4h0.6M245.3 98.6h0.6M243.7 96.4h0.6M241.6 76.6h0.6M247.3 82.8h0.6M245.2 90.5h0.6M241.1 76.9h0.6M245.8 91.8h0.6M243.2 78.6h0.6M248.4 89.1h0.6M248.6 90.3h0.6M247.7 86.7h0.6M243.3 84.7h0.6M244.2 88.8h0.6M248.9 72.3h0.6M249.1 82.4h0.6M240.1 77.7h0.6M246.8 85.7h0.6M248.6 89.1h0.6M242.8 91.2h0.6M244.1 92.2h0.6M244.5 86.1h0.6M245.5 83.4h0.6M247.2 96.7h0.6M247.4 91.6h0.6M247.9 84.5h0.6M243.9 86.8h0.6M243.3 72.4h0.6M244.1 81.0h0.6M240.1 76.0h0.6M246.5 98.1h0.6M249.0 83.5h0.6M246.7 95.9h0.6M245.3 78.2h0.6M249.9 89.5h0.6M245.3 79.6h0.6M245.7 93.4h0.6M248.4 76.3h0.6M248.7 83.7h0.6M243.6 84.7h0.6M244.0 87.9h0.6M239.9 77.1h0.6M246.5 69.8h0.6M246.3 86.9h0.6M244.1 80.6h0.6M246.5 87.9h0.6M243.3 89.7h0.6M246.5 77.9h0.6M247.0 83.5h0.6M245.6 70.8h0.6M247.7 82.3h0.6M248.8 90.4h0.6M240.8 80.7h0.6M246.1 79.2h0.6M241.5 82.9h0.6M243.4 87.0h0.6M249.9 87.5h0.6M245.5 85.2h0.6M241.4 82.2h0.6M242.0 75.2h0.6M243.0 86.7h0.6M239.0 81.3h0.6M246.2 90.8h0.6M247.2 87.6h0.6M245.7 84.3h0.6M246.0 91.5h0.6M243.6 82.1h0.6M243.8 82.5h0.6M247.1 97.4h0.6M248.5 75.3h0.6M246.8 90.1h0.6M246.2 89.5h0.6M245.4 79.9h0.6M244.4 98.1h0.6M240.7 93.7h0.6M245.5 92.2h0.6M241.2 83.3h0.6M246.7 77.1h0.6M246.8 91.0h0.6M243.4 70.0h0.6M243.1 93.7h0.6M247.2 101.4h0.6M242.3 97.6h0.6M239.9 83.6h0.6M244.0 86.6h0.6M243.5 90.5h0.6M247.0 76.5h0.6M244.6 94.7h0.6M247.1 87.2h0.6M244.2 80.3h0.6M244.7 86.3h0.6M244.4 96.8h0.6M243.6 83.9h0.6M243.4 86.9h0.6M245.5 84.9h0.6M245.2 90.9h0.6M247.8 81.4h0.6M245.7 73.2h0.6M247.3 90.4h0.6M248.6 93.0h0.6M240.8 89.3h0.6M240.4 73.4h0.6M244.4 82.3h0.6M245.8 90.4h0.6M245.8 94.5h0.6M241.7 81.0h0.6M246.0 96.0h0.6M245.8 76.6h0.6M247.7 84.8h0.6M249.3 91.5h0.6M249.2 88.4h0.6M242.4 75.9h0.6M242.8 84.4h0.6M241.9 85.8h0.6M244.3 95.2h0.6M245.3 86.2h0.6M244.0 77.0h0.6M243.7 91.2h0.6M244.3 90.3h0.6M242.9 95.5h0.6M239.3 80.5h0.6M243.9 80.6h0.6M240.9 81.6h0.6M247.7 91.7h0.6M245.5 84.0h0.6M240.8 87.3h0.6M240.1 81.1h0.6M243.3 84.3h0.6M248.6 81.5h0.6M246.3 70.7h0.6M240.0 79.4h0.6M246.9 85.1h0.6M239.7 70.5h0.6M244.6 81.2h0.6M243.5 87.5h0.6M244.5 93.6h0.6M241.5 89.9h0.6M240.8 78.2h0.6M243.4 84.8h0.6M245.5 88.3h0.6M247.3 88.7h0.6M248.0 93.2h0.6M245.7 80.2h0.6M242.4 70.6h0.6M247.7 81.1h0.6M245.9 99.4h0.6M242.8 75.2h0.6M245.2 89.8h0.6M244.6 89.3h0.6M246.1 83.4h0.6M240.7 85.7h0.6M244.1 85.4h0.6M244.4 85.7h0.6M243.8 79.1h0.6M242.0 71.4h0.6M242.7 86.6h0.6M247.2 97.6h0.6M245.0 72.7h0.6M245.1 81.1h0.6M246.1 93.1h0.6M244.9 79.8h0.6M244.5 81.7h0.6M243.0 87.5h0.6M244.7 80.2h0.6M245.7 83.0h0.6M237.9 82.9h0.6M246.7 91.2h0.6M243.3 90.2h0.6M245.9 77.9h0.6M242.9 81.8h0.6M247.1 91.4h0.6M244.5 78.2h0.6M244.0 84.0h0.6M246.4 74.8h0.6M244.9 87.0h0.6M246.3 88.4h0.6M250.3 94.0h0.6M246.7 82.5h0.6M247.8 79.7h0.6M244.6 92.7h0.6M249.1 90.1h0.6M246.1 92.9h0.6M248.8 94.9h0.6M242.2 91.5h0.6M247.8 94.4h0.6M247.1 91.0h0.6M244.1 101.5h0.6M243.4 90.5h0.6M244.6 97.7h0.6M249.2 96.7h0.6M246.5 84.9h0.6M243.9 83.5h0.6M243.5 83.7h0.6M245.9 84.4h0.6M243.2 82.5h0.6M245.3 86.2h0.6M245.8 75.4h0.6M247.7 89.1h0.6M246.3 87.9h0.6M250.7 82.7h0.6M243.3 87.3h0.6M246.6 97.0h0.6M243.3 85.5h0.6M242.2 85.6h0.6M244.4 75.0h0.6M247.7 82.2h0.6M246.5 85.4h0.6M246.4 90.4h0.6M241.7 85.3h0.6M243.4 89.7h0.6M245.5 76.6h0.6M244.9 86.7h0.6M247.2 92.9h0.6M245.9 85.2h0.6M245.3 95.5h0.6M247.7 99.2h0.6M244.6 80.4h0.6M244.6 86.9h0.6M246.7 95.6h0.6M244.6 90.9h0.6M243.1 83.5h0.6M249.2 87.5h0.6M247.5 86.4h0.6M244.0 88.5h0.6M245.6 87.7h0.6M243.4 88.8h0.6M246.5 79.8h0.6M244.4 91.1h0.6M245.0 92.9h0.6M247.1 75.1h0.6M250.4 92.0h0.6M249.0 101.7h0.6M244.9 88.3h0.6M243.6 89.0h0.6M246.8 82.1h0.6M243.3 89.6h0.6M245.5 79.8h0.6M249.0 84.4h0.6M246.1 88.3h0.6M245.2 89.6h0.6M245.6 82.2h0.6M243.4 71.1h0.6M243.0 87.6h0.6M236.7 74.5h0.6M244.2 91.6h0.6M241.8 73.5h0.6M244.8 81.5h0.6M249.2 96.1h0.6M248.3 92.6h0.6M247.8 98.8h0.6M250.2 101.2h0.6M243.2 87.6h0.6M247.2 86.2h0.6M244.0 83.5h0.6M248.5 92.4h0.6M246.0 94.7h0.6M247.5 87.5h0.6M246.0 96.2h0.6M247.0 88.2h0.6M245.4 78.8h0.6M243.8 89.1h0.6M243.7 85.4h0.6M244.9 86.8h0.6M244.5 76.7h0.6M246.7 86.0h0.6M244.2 80.5h0.6M243.5 95.2h0.6M247.3 93.4h0.6M246.0 86.5h0.6M247.5 101.9h0.6M248.2 83.5h0.6M247.7 83.0h0.6M246.1 86.5h0.6M245.8 92.3h0.6M244.6 87.9h0.6M242.6 74.2h0.6M241.8 87.7h0.6M247.7 89.1h0.6M244.9 79.8h0.6M245.2 95.5h0.6M245.2 79.8h0.6M243.8 86.1h0.6M245.0 80.9h0.6M246.1 90.0h0.6M241.7 92.3h0.6M244.3 88.6h0.6M243.6 87.2h0.6M238.7 80.9h0.6M247.5 100.7h0.6M245.1 84.5h0.6M248.1 90.8h0.6M243.0 85.8h0.6M247.8 91.6h0.6M247.5 82.1h0.6M244.2 91.2h0.6M246.2 88.9h0.6M241.4 88.7h0.6M250.0 86.1h0.6M245.7 91.3h0.6M246.0 81.6h0.6M244.4 86.7h0.6M245.0 91.8h0.6M250.1 98.7h0.6M245.2 81.0h0.6M245.3 86.1h0.6M246.2 83.0h0.6M247.8 88.7h0.6M244.4 85.6h0.6M243.9 82.9h0.6M245.8 75.2h0.6M243.7 80.7h0.6M246.7 85.5h0.6M247.3 96.8h0.6M247.6 87.8h0.6M242.6 84.6h0.6M242.4 87.4h0.6M244.5 88.8h0.6M248.9 78.4h0.6M243.0 83.1h0.6M247.6 91.1h0.6M247.6 86.8h0.6M251.1 94.3h0.6M240.0 82.9h0.6M244.8 99.5h0.6M245.9 97.2h0.6M242.7 81.0h0.6M241.2 82.0h0.6M246.4 84.1h0.6M243.9 84.7h0.6M245.4 88.2h0.6M247.6 76.8h0.6M247.4 88.9h0.6M245.0 95.8h0.6M246.9 85.6h0.6M246.5 89.0h0.6M244.7 87.6h0.6M240.9 78.8h0.6M250.5 91.5h0.6M246.9 80.8h0.6M244.9 91.5h0.6M245.6 93.0h0.6M244.5 78.9h0.6M244.4 89.8h0.6M245.7 75.8h0.6M244.0 77.1h0.6M240.5 91.1h0.6M243.4 85.8h0.6M245.2 90.9h0.6M241.4 84.6h0.6M245.9 95.6h0.6M246.9 70.1h0.6M245.1 85.5h0.6M240.4 83.1h0.6M249.9 91.1h0.6M238.1 81.2h0.6M245.2 73.5h0.6M242.0 76.3h0.6M248.6 95.1h0.6M246.8 81.7h0.6M248.3 95.0h0.6M242.7 85.9h0.6M244.5 84.9h0.6M242.3 78.8h0.6M246.9 87.8h0.6M247.9 81.8h0.6M247.2 83.6h0.6M244.2 90.1h0.6M249.0 84.3h0.6M247.3 90.3h0.6M243.9 90.0h0.6M247.0 80.9h0.6M240.3 88.7h0.6M246.8 74.0h0.6M246.2 97.7h0.6M241.9 96.3h0.6M243.6 88.5h0.6M242.9 85.1h0.6M243.8 83.0h0.6M245.3 82.2h0.6M240.5 79.2h0.6M245.6 92.8h0.6M242.5 77.8h0.6M245.3 88.1h0.6M248.9 82.8h0.6M245.5 80.0h0.6M244.6 87.0h0.6M241.3 77.1h0.6M248.9 85.5h0.6M242.3 85.5h0.6M243.0 90.8h0.6M247.5 95.4h0.6M243.9 84.3h0.6M244.6 85.7h0.6M246.0 87.8h0.6M242.4 87.9h0.6M247.5 88.3h0.6M241.5 85.3h0.6M249.9 88.6h0.6M244.6 83.3h0.6M244.9 91.8h0.6M244.2 80.9h0.6M242.1 82.0h0.6M245.7 78.2h0.6M245.4 100.7h0.6M246.0 81.8h0.6M240.8 82.1h0.6M243.4 92.4h0.6M248.9 94.9h0.6M241.5 95.2h0.6M245.1 90.6h0.6M244.5 91.7h0.6M244.1 94.6h0.6M244.8 76.4h0.6M246.1 82.8h0.6M242.5 99.9h0.6M248.4 79.8h0.6M244.8 87.9h0.6M242.9 76.4h0.6M249.4 87.7h0.6M245.3 92.9h0.6M246.0 86.3h0.6M248.1 86.2h0.6M243.7 89.9h0.6M239.9 80.8h0.6M246.5 92.3h0.6M246.6 94.8h0.6M246.4 91.2h0.6M244.2 89.1h0.6M245.1 95.9h0.6M248.2 91.3h0.6M245.5 87.2h0.6M241.4 83.6h0.6M244.0 88.9h0.6M249.7 86.9h0.6M246.1 88.4h0.6M244.0 90.3h0.6M247.4 96.2h0.6M245.0 88.4h0.6M243.2 85.3h0.6M248.1 92.9h0.6M243.2 85.9h0.6M243.8 94.4h0.6M245.9 91.9h0.6M243.0 69.7h0.6M243.8 83.1h0.6M245.4 90.5h0.6M249.1 92.4h0.6M246.6 79.5h0.6M244.3 97.5h0.6M241.1 84.4h0.6M243.1 92.5h0.6M248.8 93.0h0.6M247.6 87.2h0.6M246.6 93.7h0.6M243.9 71.8h0.6M245.7 76.6h0.6M245.4 75.1h0.6M246.3 92.5h0.6M240.1 88.2h0.6M247.0 69.9h0.6M236.7 84.1h0.6M243.5 86.0h0.6M241.7 96.5h0.6M243.3 90.4h0.6M246.2 91.7h0.6M244.0 72.9h0.6M246.0 88.2h0.6M244.6 86.9h0.6M245.4 86.8h0.6M243.9 77.2h0.6M247.4 85.0h0.6M244.6 82.6h0.6M248.4 88.0h0.6M247.1 89.1h0.6M244.4 80.7h0.6M239.8 70.2h0.6M244.1 81.2h0.6M246.1 88.7h0.6M242.9 84.5h0.6M247.1 79.8h0.6M242.6 91.4h0.6M247.1 83.0h0.6M240.1 80.6h0.6M246.2 80.5h0.6M249.7 101.8h0.6M240.1 89.5h0.6M252.3 71.7h0.6M241.7 86.1h0.6M245.2 94.1h0.6M247.9 81.1h0.6M246.6 87.8h0.6M246.7 83.9h0.6M243.1 83.3h0.6M247.9 77.9h0.6M244.4 95.7h0.6M244.1 83.8h0.6M245.3 95.1h0.6M243.8 78.0h0.6M243.1 82.9h0.6M246.2 94.8h0.6M244.6 86.9h0.6M244.1 70.9h0.6M248.1 83.6h0.6M243.1 91.8h0.6M241.7 88.7h0.6M244.0 87.1h0.6M246.0 81.5h0.6M243.6 81.0h0.6M245.7 88.3h0.6M245.0 80.6h0.6M243.9 88.7h0.6M242.8 83.9h0.6M248.2 93.6h0.6M244.1 94.6h0.6M242.8 89.0h0.6M249.4 99.0h0.6M244.8 91.2h0.6M245.4 79.3h0.6M246.0 91.8h0.6M244.9 94.2h0.6M247.4 82.3h0.6M246.2 83.7h0.6M244.9 76.8h0.6M244.9 85.9h0.6M245.6 85.0h0.6M244.5 84.3h0.6M246.3 85.9h0.6M244.5 89.2h0.6M243.2 87.4h0.6M244.2 89.0h0.6M246.2 77.2h0.6M246.5 81.1h0.6M244.6 87.9h0.6M241.7 80.4h0.6M240.2 81.0h0.6M242.0 78.5h0.6M244.2 88.1h0.6M239.8 80.7h0.6M243.5 76.7h0.6M243.1 95.3h0.6M246.3 85.8h0.6M246.9 87.4h0.6M242.5 83.9h0.6M243.7 74.4h0.6M248.9 86.0h0.6M243.5 82.6h0.6M244.6 83.3h0.6M244.4 93.9h0.6M248.3 90.9h0.6M244.0 94.8h0.6M248.0 92.0h0.6M247.3 90.2h0.6M246.9 91.9h0.6M244.9 82.1h0.6M244.2 95.3h0.6M245.0 91.1h0.6M243.4 83.8h0.6M249.1 86.3h0.6M244.4 90.1h0.6M246.4 73.2h0.6M243.3 90.9h0.6M240.6 79.9h0.6M246.2 89.4h0.6M246.4 78.8h0.6M243.9 80.6h0.6M248.2 96.4h0.6M244.8 74.7h0.6M249.4 94.8h0.6M242.9 93.3h0.6M242.6 76.4h0.6M243.3 86.0h0.6M244.8 83.6h0.6M244.8 80.6h0.6M242.4 86.4h0.6M244.4 76.1h0.6M248.5 99.6h0.6M244.6 80.5h0.6M246.0 84.9h0.6M239.9 85.7h0.6M247.6 97.9h0.6M247.4 82.8h0.6M245.3 77.2h0.6M245.3 77.2h0.6M243.9 98.9h0.6M250.6 92.9h0.6M246.6 81.8h0.6M245.0 92.3h0.6M245.7 90.7h0.6M241.8 85.5h0.6M244.5 77.6h0.6M241.4 84.3h0.6M241.7 92.5h0.6M248.4 85.4h0.6M246.5 92.4h0.6M241.2 96.6h0.6M244.4 91.4h0.6M246.9 94.6h0.6M247.1 80.0h0.6M247.6 95.3h0.6M250.5 83.5h0.6M243.1 82.9h0.6M246.5 95.0h0.6M241.7 85.9h0.6M244.6 82.4h0.6M242.5 90.8h0.6M250.8 83.8h0.6M242.4 80.7h0.6M240.9 79.8h0.6M241.5 77.3h0.6M242.4 89.3h0.6M242.3 80.1h0.6M243.7 93.1h0.6M249.0 82.8h0.6M245.1 90.3h0.6M243.5 81.3h0.6M245.4 85.8h0.6M245.7 82.9h0.6M243.8 76.4h0.6M246.0 93.2h0.6M246.4 85.6h0.6M242.6 84.7h0.6M244.2 85.2h0.6M244.3 81.5h0.6M244.1 81.9h0.6M240.9 88.0h0.6M242.9 97.5h0.6M243.4 80.8h0.6M246.0 91.8h0.6M244.7 81.8h0.6M243.1 80.9h0.6M242.0 93.6h0.6M243.7 82.6h0.6M247.6 81.6h0.6M241.5 88.2h0.6M244.1 71.0h0.6M244.5 88.1h0.6M247.3 92.5h0.6M244.7 89.9h0.6M246.4 96.1h0.6M244.5 82.7h0.6M242.2 87.1h0.6M246.3 95.3h0.6M244.3 74.5h0.6M242.9 80.6h0.6M243.9 99.0h0.6M239.5 80.5h0.6M246.8 80.7h0.6M246.3 86.6h0.6M246.2 93.5h0.6M244.1 85.0h0.6M246.3 87.0h0.6M252.2 84.0h0.6M247.6 84.7h0.6M243.7 85.8h0.6M248.0 95.5h0.6M244.3 82.0h0.6M248.7 92.3h0.6M241.7 96.1h0.6M244.8 81.4h0.6M244.6 86.0h0.6M245.6 92.4h0.6M242.3 71.8h0.6M246.1 78.9h0.6M246.7 90.6h0.6M243.9 94.4h0.6M244.6 84.5h0.6M243.7 92.4h0.6M242.3 92.0h0.6M246.7 84.8h0.6M244.7 83.8h0.6M243.9 95.8h0.6M242.2 82.0h0.6M241.9 80.1h0.6M243.5 77.5h0.6M243.7 89.5h0.6M247.3 75.5h0.6M245.4 93.2h0.6M242.8 74.4h0.6M245.0 77.6h0.6M244.5 86.8h0.6M248.1 95.1h0.6M244.6 76.9h0.6M246.2 84.8h0.6M249.5 91.8h0.6M242.3 89.1h0.6M240.6 87.9h0.6M245.4 95.0h0.6M247.6 82.0h0.6M245.1 84.2h0.6M242.8 81.9h0.6M250.6 99.3h0.6M244.2 79.1h0.6M244.8 94.2h0.6M244.1 87.1h0.6M246.5 82.5h0.6M248.8 87.2h0.6M243.8 88.8h0.6M244.3 82.9h0.6M249.1 87.1h0.6M246.9 90.4h0.6M243.6 72.4h0.6M245.9 81.3h0.6M246.9 80.9h0.6M245.0 86.0h0.6M241.6 86.7h0.6M246.0 86.6h0.6M241.7 85.1h0.6M243.0 88.8h0.6M246.6 85.1h0.6M245.1 85.0h0.6M242.9 83.7h0.6M247.9 88.5h0.6M242.3 84.8h0.6M241.0 75.6h0.6M244.5 94.3h0.6M244.8 94.8h0.6M247.7 81.3h0.6M244.8 84.0h0.6M245.4 98.4h0.6M243.6 85.7h0.6M239.1 90.1h0.6M244.6 83.8h0.6M251.1 77.2h0.6M246.9 93.5h0.6M246.2 79.0h0.6M247.4 77.7h0.6M243.9 88.5h0.6M245.9 92.1h0.6M242.2 86.8h0.6M241.7 81.7h0.6M244.2 90.3h0.6M244.8 81.8h0.6M247.5 101.0h0.6M247.9 83.3h0.6M244.7 79.3h0.6M241.2 82.2h0.6M246.4 98.2h0.6M246.6 99.4h0.6M248.9 86.5h0.6M236.7 79.2h0.6M245.4 90.7h0.6M244.7 86.5h0.6M245.0 89.1h0.6M240.9 85.3h0.6M245.2 95.2h0.6M246.1 89.4h0.6M244.5 84.1h0.6M246.1 76.3h0.6M245.7 78.4h0.6M244.6 79.9h0.6M243.7 84.4h0.6M244.8 90.8h0.6M246.2 81.9h0.6M244.1 81.2h0.6M246.1 85.3h0.6M245.2 79.7h0.6M243.6 92.0h0.6M243.8 91.9h0.6M246.7 95.0h0.6M244.6 88.1h0.6M243.2 77.2h0.6M243.3 79.9h0.6M246.3 91.6h0.6M244.0 91.8h0.6M247.4 83.3h0.6M243.5 77.2h0.6M246.5 86.4h0.6M245.8 90.8h0.6M246.5 86.4h0.6M242.9 92.5h0.6M247.5 91.5h0.6M246.3 92.6h0.6M243.5 76.4h0.6M243.0 98.1h0.6M247.2 89.2h0.6M245.8 86.5h0.6M243.9 90.3h0.6M239.8 92.9h0.6M244.0 89.0h0.6M241.2 95.9h0.6M246.4 81.1h0.6M243.3 91.4h0.6M244.3 83.9h0.6M247.4 91.4h0.6M240.9 80.4h0.6M247.1 76.1h0.6M249.7 93.7h0.6M247.0 90.6h0.6M246.7 84.6h0.6M241.5 67.5h0.6M246.9 86.2h0.6M242.4 92.2h0.6M240.4 82.7h0.6M241.0 80.0h0.6M244.3 87.8h0.6M245.9 84.3h0.6M243.2 78.1h0.6M243.2 87.7h0.6M239.9 83.0h0.6M248.2 90.0h0.6M248.1 81.9h0.6M246.4 85.5h0.6M244.5 87.7h0.6M246.7 82.5h0.6M247.9 76.9h0.6M246.2 96.0h0.6M242.6 91.1h0.6M250.7 86.5h0.6M246.2 71.2h0.6M240.4 82.1h0.6M245.0 85.1h0.6M247.2 95.3h0.6M245.3 85.4h0.6M241.0 96.0h0.6M240.5 78.5h0.6M242.2 83.4h0.6M247.7 72.6h0.6M245.3 90.5h0.6M244.0 93.0h0.6M247.0 88.3h0.6M243.0 81.0h0.6M242.0 86.7h0.6M240.3 80.1h0.6M241.0 83.4h0.6M245.1 92.1h0.6M235.5 75.2h0.6M242.1 88.3h0.6M247.3 93.0h0.6M245.1 84.6h0.6M245.7 92.8h0.6M245.7 79.2h0.6M242.7 85.5h0.6M245.5 89.1h0.6M247.7 77.8h0.6M248.0 95.5h0.6M241.6 85.8h0.6M242.4 90.5h0.6M245.0 82.7h0.6M243.0 83.1h0.6M240.6 83.2h0.6M246.3 90.6h0.6M242.7 88.2h0.6M244.8 85.0h0.6M247.7 88.6h0.6M252.1 84.3h0.6M242.9 91.8h0.6M242.8 89.5h0.6M245.9 89.0h0.6M244.2 87.0h0.6M241.4 84.4h0.6M247.7 86.7h0.6M246.2 92.2h0.6M246.1 83.4h0.6M244.5 78.6h0.6M244.3 85.9h0.6M253.1 101.2h0.6M246.4 96.7h0.6M243.2 81.8h0.6M245.9 76.4h0.6M248.4 84.2h0.6M242.9 85.6h0.6M242.8 88.6h0.6M247.5 86.4h0.6M246.6 84.5h0.6M247.0 94.1h0.6M243.9 82.6h0.6M246.6 83.4h0.6M244.5 96.4h0.6M245.0 88.5h0.6M245.6 91.0h0.6M247.5 75.4h0.6M241.5 86.5h0.6M244.7 85.3h0.6M244.6 82.3h0.6M246.0 91.0h0.6M243.0 87.8h0.6M240.3 80.7h0.6M241.1 79.3h0.6M241.3 86.5h0.6M245.7 84.5h0.6M242.2 88.3h0.6M242.3 88.9h0.6M248.8 90.8h0.6M246.2 79.5h0.6M246.5 72.0h0.6M244.1 88.7h0.6M247.1 87.6h0.6M243.5 80.3h0.6M248.5 84.3h0.6M247.6 88.8h0.6M245.9 77.5h0.6M244.3 86.2h0.6M246.3 82.4h0.6M245.4 87.7h0.6M250.0 85.8h0.6M245.3 83.1h0.6M244.5 89.0h0.6M243.6 76.9h0.6M244.9 93.6h0.6M243.9 85.6h0.6M243.6 89.1h0.6M240.2 84.7h0.6M243.8 76.9h0.6M244.8 83.3h0.6M248.3 91.7h0.6M243.0 75.7h0.6M247.4 92.6h0.6M244.4 84.0h0.6M243.8 83.6h0.6M245.6 94.3h0.6M247.7 90.1h0.6M245.1 79.3h0.6M244.1 90.1h0.6M246.6 84.0h0.6M247.3 86.5h0.6M247.2 97.9h0.6M247.5 86.6h0.6M240.2 82.6h0.6M247.7 89.0h0.6M242.9 73.9h0.6M246.3 85.5h0.6M243.8 81.7h0.6M248.7 100.0h0.6M241.4 80.6h0.6M245.5 97.8h0.6M245.0 82.0h0.6M244.0 83.5h0.6M243.4 82.0h0.6M244.3 85.4h0.6M246.7 83.0h0.6M242.5 95.7h0.6M247.3 81.8h0.6M244.4 86.3h0.6M248.6 85.7h0.6M242.6 89.0h0.6M247.9 88.0h0.6M243.5 85.1h0.6M243.7 87.5h0.6M248.6 84.3h0.6M246.9 85.7h0.6M247.5 86.8h0.6M247.6 89.6h0.6M240.3 81.3h0.6M248.9 85.2h0.6M244.6 84.5h0.6M247.0 83.1h0.6M245.6 84.5h0.6M245.7 83.9h0.6M244.3 83.1h0.6M241.1 84.6h0.6M247.1 87.3h0.6M245.8 91.5h0.6M250.8 86.8h0.6M244.6 84.9h0.6M243.0 91.8h0.6M245.7 91.3h0.6M247.5 81.6h0.6M246.4 83.9h0.6M246.7 84.0h0.6M245.6 87.4h0.6M244.2 90.6h0.6M249.0 78.3h0.6M243.9 86.5h0.6M242.5 88.9h0.6M244.9 84.9h0.6M247.0 99.9h0.6M244.0 96.7h0.6M249.7 88.7h0.6M245.1 78.4h0.6M244.7 91.6h0.6M241.7 90.5h0.6M244.1 83.8h0.6M245.3 77.3h0.6M244.6 91.7h0.6M243.2 95.8h0.6M242.9 94.3h0.6M241.9 79.3h0.6M244.3 80.5h0.6M242.4 85.0h0.6M240.9 81.5h0.6M244.8 91.1h0.6M246.0 93.4h0.6M245.6 88.6h0.6M246.4 84.9h0.6M243.7 85.2h0.6M242.6 84.3h0.6M240.8 76.6h0.6M241.2 88.4h0.6M246.4 93.8h0.6M243.1 92.8h0.6M245.6 88.4h0.6M245.8 82.8h0.6M245.4 86.4h0.6M242.0 77.4h0.6M248.3 81.8h0.6M246.2 76.6h0.6M250.0 80.8h0.6M249.4 88.2h0.6M242.6 90.5h0.6M244.9 82.6h0.6M244.9 84.3h0.6" stroke="#d03c14" stroke-width="0.6" opacity="0.75"/>
<path d="M244.0 69.9h0.6M243.0 67.4h0.6M247.0 68.1h0.6M246.2 64.7h0.6M242.7 71.6h0.6M243.5 67.6h0.6M244.7 71.8h0.6M246.1 70.7h0.6M246.4 69.2h0.6M243.5 65.9h0.6M246.6 70.1h0.6M244.8 66.9h0.6M244.6 70.3h0.6M244.8 66.7h0.6M246.5 65.0h0.6M245.6 67.4h0.6M243.6 69.3h0.6M245.6 67.8h0.6M243.2 69.4h0.6M245.4 69.2h0.6M243.9 67.8h0.6M245.3 68.7h0.6M244.3 68.0h0.6M245.1 65.8h0.6M244.3 68.3h0.6M246.6 69.8h0.6M245.6 71.3h0.6M245.8 67.8h0.6M242.8 71.0h0.6M243.3 65.3h0.6M245.3 63.5h0.6M246.4 67.3h0.6M242.5 66.1h0.6M243.8 69.4h0.6M243.1 67.6h0.6M244.2 70.0h0.6M245.0 67.6h0.6M242.4 68.8h0.6M242.8 62.6h0.6M246.4 64.8h0.6M243.6 68.8h0.6M246.3 66.1h0.6M246.2 69.5h0.6M243.5 70.6h0.6M244.2 66.6h0.6M242.6 67.7h0.6M245.8 71.0h0.6M242.5 71.8h0.6M244.8 69.4h0.6M245.7 64.6h0.6M244.0 71.0h0.6M243.0 68.1h0.6M243.9 66.6h0.6M243.3 69.0h0.6M244.7 70.7h0.6M247.0 67.5h0.6M247.1 69.2h0.6M245.0 66.6h0.6M244.4 71.1h0.6M244.0 66.9h0.6M243.4 68.2h0.6M245.2 66.3h0.6M243.1 68.2h0.6M244.8 69.8h0.6M244.8 70.2h0.6M244.4 70.4h0.6M246.1 64.8h0.6M245.2 70.2h0.6M245.1 67.2h0.6M243.6 67.0h0.6M245.6 68.8h0.6M242.2 66.2h0.6M243.5 67.5h0.6M243.1 72.4h0.6M245.4 69.6h0.6M243.2 68.9h0.6M243.7 70.4h0.6M244.1 70.1h0.6M247.2 67.9h0.6M245.6 67.4h0.6M243.7 68.8h0.6M245.2 68.7h0.6M248.2 67.1h0.6M243.8 71.1h0.6M244.5 66.9h0.6M243.7 69.3h0.6M244.0 65.0h0.6M244.0 66.7h0.6M244.3 67.3h0.6M246.9 65.7h0.6M245.8 66.3h0.6M244.4 64.3h0.6M245.3 66.3h0.6M241.5 70.7h0.6M244.3 66.3h0.6M243.4 70.0h0.6M244.7 66.4h0.6M243.3 69.3h0.6M244.8 71.1h0.6M243.4 69.8h0.6M245.5 67.7h0.6M245.3 68.1h0.6M244.3 66.0h0.6M245.2 71.8h0.6M245.5 70.2h0.6M244.9 70.1h0.6M241.4 73.0h0.6M246.3 65.6h0.6M244.8 69.3h0.6M246.2 66.8h0.6M243.4 65.7h0.6M242.6 67.3h0.6M244.1 66.8h0.6M245.3 68.6h0.6M241.9 71.8h0.6M244.5 69.7h0.6M244.6 68.7h0.6M247.1 69.5h0.6M244.0 65.3h0.6M245.6 67.9h0.6M245.1 67.7h0.6M242.8 69.4h0.6M245.0 67.3h0.6M244.2 66.2h0.6M244.5 64.1h0.6M241.3 65.2h0.6M247.8 66.9h0.6M244.7 67.6h0.6M243.3 70.1h0.6M244.5 69.3h0.6M246.3 66.1h0.6M240.4 64.0h0.6M243.2 65.7h0.6M244.3 66.9h0.6M245.0 68.5h0.6M245.3 71.2h0.6M243.5 65.4h0.6M245.2 69.0h0.6M243.5 68.4h0.6M242.9 65.4h0.6M247.2 69.2h0.6M243.5 67.3h0.6M244.7 69.9h0.6M244.7 69.9h0.6M246.0 68.5h0.6M245.9 66.8h0.6M245.9 69.9h0.6M244.8 65.6h0.6M242.7 68.8h0.6M245.0 72.5h0.6M245.7 70.5h0.6M245.4 67.9h0.6M244.6 70.8h0.6M243.7 69.2h0.6M243.7 67.3h0.6M244.8 66.0h0.6M243.5 67.6h0.6M245.0 65.8h0.6M245.6 69.5h0.6M246.8 69.5h0.6M243.5 65.0h0.6M247.2 71.4h0.6M243.5 65.4h0.6M242.4 67.4h0.6M244.1 67.8h0.6M245.8 67.2h0.6M243.4 70.8h0.6M243.4 69.7h0.6M243.2 69.8h0.6M245.2 68.0h0.6M245.5 69.0h0.6M244.4 66.2h0.6M245.9 66.6h0.6M245.7 66.6h0.6M246.8 68.0h0.6M246.6 67.1h0.6M246.9 65.7h0.6M243.2 65.6h0.6M243.1 63.5h0.6M243.5 71.6h0.6M246.3 64.8h0.6M245.8 64.6h0.6M244.0 66.5h0.6M243.6 66.9h0.6M246.3 69.4h0.6M245.3 69.6h0.6M246.1 67.0h0.6M242.4 70.0h0.6M243.3 66.7h0.6M243.6 64.7h0.6M246.3 67.8h0.6M246.7 68.2h0.6M243.4 72.1h0.6M244.3 71.8h0.6M244.6 69.5h0.6M246.3 70.7h0.6M243.4 65.3h0.6M245.9 69.2h0.6M244.9 66.1h0.6M247.9 66.3h0.6M245.1 66.8h0.6M244.0 67.9h0.6M243.6 67.3h0.6M244.2 69.0h0.6M244.1 69.4h0.6M244.4 69.4h0.6M242.1 70.8h0.6M242.9 67.7h0.6M246.0 65.0h0.6M243.7 67.3h0.6M248.7 67.1h0.6M245.7 66.3h0.6M245.6 67.0h0.6M244.1 65.6h0.6M241.8 69.0h0.6M243.1 66.5h0.6M245.4 66.9h0.6M245.0 70.7h0.6M246.1 67.3h0.6M242.3 64.1h0.6M247.0 66.4h0.6M244.5 67.0h0.6M246.8 67.6h0.6M243.5 68.6h0.6M243.5 65.5h0.6M242.7 69.1h0.6M242.9 69.6h0.6M247.2 70.2h0.6M244.6 69.9h0.6M242.7 66.6h0.6M241.2 70.4h0.6M243.8 69.6h0.6M245.4 67.5h0.6M243.4 70.2h0.6M244.6 67.0h0.6M244.2 70.4h0.6M243.8 70.3h0.6M245.3 67.9h0.6M242.6 69.0h0.6M243.9 68.0h0.6M245.3 68.4h0.6M247.2 70.7h0.6M245.7 70.7h0.6M242.8 70.3h0.6M247.8 66.7h0.6M243.7 70.9h0.6M240.5 68.6h0.6M245.6 63.5h0.6M244.4 69.3h0.6M247.2 62.9h0.6M243.2 70.9h0.6M245.6 68.8h0.6M246.6 67.2h0.6M245.5 67.9h0.6M245.0 69.6h0.6M244.8 68.7h0.6M245.3 67.8h0.6M246.7 67.5h0.6M246.0 67.2h0.6M243.7 65.8h0.6M245.0 65.4h0.6M244.1 69.6h0.6M244.7 69.1h0.6M244.3 71.6h0.6M244.8 69.4h0.6M243.4 68.1h0.6M247.0 68.4h0.6M243.7 70.1h0.6M246.0 70.7h0.6M244.9 66.8h0.6M243.7 68.1h0.6M244.3 65.9h0.6M243.3 67.9h0.6M243.2 69.2h0.6M245.4 70.3h0.6M243.8 65.5h0.6M245.6 67.8h0.6M245.8 66.7h0.6M245.1 67.5h0.6M244.1 66.8h0.6M243.6 71.0h0.6M243.1 68.6h0.6M245.4 70.2h0.6M246.2 71.2h0.6M244.4 70.5h0.6M245.8 65.6h0.6M244.5 67.0h0.6M246.2 67.2h0.6M248.5 68.7h0.6M242.7 68.6h0.6M242.2 71.3h0.6M244.7 64.1h0.6M242.8 67.7h0.6M244.9 67.2h0.6M243.8 64.6h0.6M245.1 66.5h0.6M245.9 71.7h0.6M242.2 66.0h0.6M241.5 69.8h0.6M246.5 68.5h0.6M244.4 67.1h0.6M244.4 67.6h0.6M245.2 65.5h0.6M247.6 67.4h0.6M243.7 69.0h0.6M243.6 70.0h0.6M243.1 69.6h0.6M244.8 67.2h0.6M244.2 69.0h0.6M245.8 65.8h0.6M243.8 71.3h0.6M244.3 67.7h0.6M245.9 66.9h0.6M243.4 65.6h0.6M246.4 68.1h0.6M244.5 68.8h0.6M244.6 69.6h0.6M244.3 67.6h0.6M244.8 66.6h0.6M245.5 70.5h0.6M244.3 67.1h0.6M243.4 68.4h0.6M243.5 66.3h0.6M244.5 66.4h0.6M246.2 69.9h0.6M244.7 66.4h0.6M243.4 71.0h0.6M245.5 65.6h0.6M244.7 72.9h0.6M243.2 68.7h0.6M243.4 65.0h0.6M243.8 69.1h0.6M244.7 67.7h0.6M246.5 70.6h0.6M245.0 67.1h0.6M247.1 69.5h0.6M245.4 66.7h0.6M241.2 67.0h0.6M242.5 67.1h0.6M245.3 66.1h0.6M242.3 68.5h0.6M246.9 70.4h0.6M246.0 66.2h0.6M243.9 70.9h0.6M246.5 67.1h0.6M245.6 63.0h0.6M244.3 69.7h0.6M245.4 63.8h0.6M245.3 69.1h0.6M245.3 66.6h0.6M245.9 68.3h0.6M245.2 71.0h0.6M243.8 69.4h0.6M242.7 66.2h0.6M243.2 66.0h0.6M246.9 71.7h0.6M242.8 67.6h0.6M245.7 67.6h0.6M244.6 71.4h0.6M243.8 66.6h0.6M243.8 70.2h0.6M246.0 68.3h0.6M245.1 67.5h0.6M246.6 64.4h0.6M243.3 70.1h0.6M243.4 69.8h0.6M243.1 68.7h0.6M245.6 66.7h0.6M246.4 72.4h0.6M242.1 69.0h0.6M243.9 69.4h0.6M243.3 69.8h0.6M245.7 70.6h0.6M245.0 65.0h0.6M247.6 72.4h0.6M243.1 68.4h0.6M244.7 66.3h0.6M243.1 72.8h0.6M244.9 68.9h0.6M245.9 65.5h0.6M242.9 70.6h0.6M243.4 70.5h0.6M243.3 62.4h0.6M245.8 66.3h0.6M246.0 69.6h0.6M246.3 69.6h0.6M246.7 67.0h0.6M242.3 68.2h0.6M246.1 70.5h0.6M242.7 66.7h0.6M240.1 65.8h0.6M245.7 66.3h0.6M243.0 66.1h0.6M248.2 67.2h0.6M245.5 69.8h0.6M242.8 69.1h0.6M243.8 67.8h0.6M245.5 68.9h0.6M245.3 63.7h0.6M240.4 68.0h0.6" stroke="#d82000" stroke-width="0.6" opacity="0.9"/>
<path d="M207.7 72.4h0.5M215.6 70.0h0.5M211.2 72.8h0.5M205.9 73.5h0.5M213.8 66.2h0.5M208.1 74.8h0.5M213.2 69.2h0.5M200.5 69.1h0.5M200.7 72.0h0.5M210.6 75.4h0.5M206.4 67.0h0.5M208.5 72.2h0.5M203.8 69.9h0.5M207.6 69.3h0.5M210.5 67.4h0.5M216.7 70.7h0.5M205.2 71.1h0.5M198.5 70.6h0.5M209.4 70.6h0.5M205.7 71.0h0.5M208.5 69.2h0.5M220.8 66.4h0.5M204.2 71.9h0.5M200.8 74.2h0.5M208.3 73.3h0.5M211.5 72.8h0.5M204.8 71.8h0.5M213.5 69.5h0.5M204.3 70.6h0.5M202.1 73.5h0.5M208.1 70.4h0.5M208.0 69.0h0.5M208.9 68.0h0.5M208.9 72.8h0.5M200.7 71.0h0.5M205.8 67.3h0.5M217.1 68.7h0.5M206.9 67.8h0.5M210.5 73.4h0.5M203.5 70.3h0.5M208.0 70.8h0.5M205.2 71.0h0.5M211.1 69.6h0.5M203.9 71.3h0.5M208.1 73.4h0.5M218.0 70.3h0.5M202.7 75.2h0.5M206.0 69.7h0.5M201.5 67.9h0.5M207.9 68.9h0.5M206.0 70.9h0.5M207.9 69.7h0.5M202.1 69.0h0.5M209.3 68.7h0.5M212.2 73.1h0.5M204.4 74.5h0.5M210.9 73.5h0.5M201.1 72.5h0.5M210.2 70.0h0.5M210.7 74.1h0.5M206.9 71.1h0.5M209.0 69.4h0.5M207.6 71.8h0.5M208.2 70.5h0.5M205.8 67.7h0.5M203.8 71.5h0.5M211.0 67.5h0.5M199.3 68.9h0.5M204.9 69.9h0.5M209.6 70.6h0.5M205.6 68.4h0.5M203.7 69.3h0.5M210.3 69.4h0.5M206.1 69.0h0.5M200.7 72.0h0.5M211.9 70.0h0.5M210.4 71.9h0.5M205.1 77.4h0.5M203.7 71.8h0.5M206.8 71.1h0.5M201.1 69.2h0.5M208.8 72.3h0.5M206.2 70.5h0.5M215.6 71.2h0.5M216.3 72.5h0.5M204.6 73.6h0.5M204.6 70.4h0.5M207.7 69.5h0.5M211.1 70.6h0.5M204.0 73.0h0.5M204.5 69.4h0.5M208.6 72.7h0.5M208.8 69.0h0.5M208.3 69.7h0.5M210.0 74.1h0.5M211.5 75.9h0.5M210.5 68.7h0.5M204.8 71.3h0.5M198.9 71.2h0.5M207.5 74.8h0.5M207.3 71.7h0.5M216.8 70.0h0.5M210.7 66.8h0.5M212.1 70.2h0.5M200.3 71.0h0.5M202.7 72.3h0.5M209.0 71.5h0.5M213.2 69.9h0.5M206.7 67.3h0.5M203.4 71.7h0.5M209.1 68.3h0.5M207.3 69.6h0.5M211.0 72.2h0.5M208.2 71.9h0.5M205.0 71.1h0.5M206.1 67.1h0.5M204.4 70.8h0.5M205.4 74.2h0.5M201.0 71.9h0.5M208.3 71.4h0.5M203.6 68.9h0.5M215.1 70.6h0.5M213.2 71.7h0.5M205.6 73.4h0.5M206.2 70.3h0.5M213.9 70.9h0.5M201.5 71.2h0.5M207.2 68.4h0.5M208.8 72.8h0.5M221.3 70.0h0.5M198.5 68.0h0.5M204.2 72.6h0.5M202.0 75.2h0.5M213.4 69.5h0.5M210.7 71.5h0.5M199.4 71.8h0.5M215.5 69.3h0.5M201.7 69.8h0.5M207.4 70.0h0.5M205.9 72.5h0.5M203.5 69.0h0.5M217.0 68.9h0.5M203.3 71.4h0.5M207.9 74.0h0.5M200.5 71.1h0.5M201.1 71.4h0.5M211.8 72.5h0.5M201.5 67.1h0.5M205.5 74.0h0.5M203.0 69.4h0.5M203.4 66.8h0.5M212.7 73.2h0.5M207.7 71.3h0.5M207.1 70.9h0.5M208.0 74.2h0.5M198.6 69.9h0.5M204.2 69.9h0.5M208.9 71.5h0.5M204.3 72.4h0.5M212.2 70.7h0.5M207.4 64.7h0.5M208.6 67.7h0.5M202.6 71.9h0.5M205.6 70.7h0.5M202.3 69.9h0.5M208.4 73.3h0.5M205.2 67.1h0.5M211.9 70.1h0.5M208.3 74.6h0.5M215.0 68.3h0.5M204.3 71.7h0.5M209.8 70.7h0.5M214.9 72.5h0.5M215.0 72.5h0.5M209.4 69.0h0.5M209.6 68.0h0.5M206.3 71.2h0.5M200.9 70.9h0.5M210.6 69.7h0.5M202.2 73.1h0.5M203.5 73.9h0.5M215.6 72.0h0.5M206.9 70.0h0.5M209.3 73.2h0.5M206.8 69.5h0.5M201.5 73.7h0.5M201.4 68.7h0.5M214.4 76.1h0.5M210.4 72.3h0.5M214.2 74.0h0.5M204.6 70.8h0.5M213.0 72.1h0.5M209.1 68.9h0.5M211.8 69.1h0.5M204.5 69.2h0.5M213.9 71.0h0.5M204.9 71.7h0.5M208.5 71.4h0.5M217.7 66.9h0.5M200.4 69.1h0.5M206.1 69.5h0.5M199.2 73.9h0.5M208.1 71.5h0.5M202.7 69.6h0.5M203.3 73.0h0.5M199.9 72.4h0.5M206.1 69.2h0.5M208.3 69.9h0.5M203.5 69.0h0.5M208.5 70.8h0.5M201.6 73.7h0.5M211.0 68.6h0.5M208.9 74.2h0.5M214.0 70.7h0.5M210.3 71.5h0.5M205.0 71.7h0.5M202.8 72.9h0.5M214.9 70.0h0.5M218.9 72.1h0.5M200.7 71.3h0.5M208.1 71.2h0.5M211.0 71.8h0.5M207.4 71.0h0.5M207.4 66.6h0.5M202.2 74.3h0.5M211.3 67.8h0.5M220.6 69.6h0.5M206.6 72.1h0.5M209.8 70.5h0.5M202.1 70.5h0.5M206.7 72.0h0.5M208.4 70.9h0.5M205.9 73.1h0.5M211.2 71.0h0.5M206.1 71.0h0.5M203.3 70.2h0.5M206.5 70.7h0.5M219.1 71.9h0.5M206.1 74.5h0.5M201.9 71.1h0.5M212.3 71.2h0.5M207.5 69.6h0.5M208.8 71.7h0.5M204.6 71.4h0.5M211.9 70.1h0.5M208.2 69.5h0.5M213.6 71.7h0.5M212.5 72.0h0.5M200.9 76.0h0.5M212.3 67.8h0.5M203.6 71.0h0.5M198.5 68.9h0.5M213.3 69.8h0.5M207.1 70.6h0.5M201.8 70.7h0.5M211.3 66.2h0.5M205.7 71.1h0.5M210.2 69.2h0.5M212.8 69.1h0.5M210.1 72.3h0.5M207.8 72.1h0.5M208.5 71.0h0.5M218.4 73.4h0.5M204.3 70.4h0.5M209.0 70.4h0.5M211.1 71.8h0.5M210.9 74.4h0.5M209.6 72.2h0.5M210.5 67.3h0.5M207.5 71.4h0.5M201.1 68.9h0.5M205.3 69.0h0.5M199.7 75.3h0.5M217.3 68.8h0.5M207.4 72.1h0.5M210.4 68.8h0.5M198.4 68.3h0.5M201.1 68.7h0.5M214.2 67.8h0.5M205.8 70.6h0.5M202.1 73.7h0.5M204.0 73.0h0.5M200.1 69.8h0.5M208.9 73.0h0.5M204.9 70.4h0.5M206.2 71.7h0.5" stroke="#ff30d0" stroke-width="0.5" opacity="0.45"/>
<path d="M216.1 66.7h0.5M224.3 68.5h0.5M216.1 68.7h0.5M217.1 67.8h0.5M217.6 66.7h0.5M235.8 68.6h0.5M218.0 67.9h0.5M212.1 66.2h0.5M228.5 68.1h0.5M223.3 67.3h0.5M221.8 68.6h0.5M225.1 67.5h0.5M217.5 69.0h0.5M248.3 67.4h0.5M229.4 69.0h0.5M228.4 67.1h0.5M224.6 69.0h0.5M233.2 68.2h0.5M218.0 66.8h0.5M219.5 67.2h0.5M214.5 68.4h0.5M238.1 67.6h0.5M235.9 66.7h0.5M236.7 69.4h0.5M227.6 66.3h0.5M216.0 68.3h0.5M230.7 67.2h0.5M217.3 66.4h0.5M243.5 67.2h0.5M238.2 67.2h0.5M214.9 70.0h0.5M213.9 68.0h0.5M219.3 65.4h0.5M227.6 66.7h0.5M245.3 66.6h0.5M205.0 68.5h0.5M231.4 66.4h0.5M236.2 68.3h0.5M230.5 69.1h0.5M228.5 68.3h0.5M221.4 67.5h0.5M234.6 69.2h0.5M219.1 67.9h0.5M237.5 66.8h0.5M252.2 67.1h0.5M234.8 66.3h0.5M221.5 67.2h0.5M216.5 67.8h0.5M218.9 67.3h0.5M232.5 67.4h0.5M221.9 66.9h0.5M237.8 66.7h0.5M210.4 69.1h0.5M221.3 66.8h0.5M226.4 66.6h0.5M225.5 68.4h0.5M220.0 66.6h0.5M233.6 67.6h0.5M211.7 65.9h0.5M237.5 67.5h0.5M232.0 67.8h0.5M224.8 68.0h0.5M220.7 69.5h0.5M223.9 68.5h0.5M208.9 67.7h0.5M240.7 67.0h0.5M220.2 69.3h0.5M206.9 67.6h0.5M220.0 68.8h0.5M218.4 66.9h0.5M235.5 70.5h0.5M216.5 68.1h0.5M222.7 66.8h0.5M223.5 68.5h0.5M226.3 69.4h0.5M218.7 68.8h0.5M213.3 68.0h0.5M213.6 66.2h0.5M236.9 68.0h0.5M221.7 66.7h0.5M226.7 68.6h0.5M234.9 66.7h0.5M225.2 69.4h0.5M227.1 67.5h0.5M217.0 67.2h0.5M230.0 67.9h0.5M229.0 67.6h0.5M211.0 69.7h0.5M208.3 68.1h0.5M227.4 67.8h0.5M216.7 69.2h0.5M224.4 67.8h0.5M227.3 68.4h0.5M237.5 65.9h0.5M232.3 67.8h0.5M225.8 67.2h0.5M226.2 67.1h0.5M220.8 67.4h0.5M221.4 68.2h0.5M226.1 67.1h0.5M226.2 68.7h0.5M225.6 67.5h0.5M224.8 67.1h0.5M209.1 65.9h0.5M229.3 66.1h0.5M227.5 66.4h0.5M236.0 67.3h0.5M229.3 65.5h0.5M208.9 67.7h0.5M222.0 66.2h0.5M222.5 67.4h0.5M242.2 68.0h0.5M237.5 67.5h0.5M218.8 67.0h0.5M230.4 66.3h0.5M228.7 67.5h0.5M231.2 68.1h0.5M235.7 69.2h0.5M217.9 67.3h0.5M232.7 67.5h0.5M219.7 68.4h0.5M214.9 68.2h0.5M220.8 67.7h0.5M230.1 67.8h0.5M234.4 67.8h0.5M205.5 67.6h0.5M240.4 67.8h0.5M221.2 65.3h0.5M233.6 67.4h0.5M233.7 69.8h0.5M226.1 66.1h0.5M208.9 67.5h0.5M209.8 65.9h0.5M234.9 68.1h0.5M224.2 69.0h0.5M239.1 68.0h0.5M228.2 66.9h0.5M237.6 66.5h0.5M225.0 68.7h0.5M220.4 66.5h0.5M255.2 65.6h0.5M208.4 67.1h0.5M219.1 66.4h0.5M226.1 68.6h0.5M243.2 66.9h0.5M205.4 67.2h0.5M229.4 68.9h0.5M218.8 66.7h0.5M212.1 67.3h0.5M211.7 66.8h0.5M231.6 67.5h0.5M225.9 66.7h0.5M225.4 67.0h0.5M227.7 67.1h0.5M238.3 67.1h0.5M206.9 67.6h0.5M230.6 67.7h0.5M228.5 67.7h0.5M217.5 68.1h0.5M228.2 67.3h0.5M227.6 67.9h0.5M219.1 66.8h0.5M221.9 69.5h0.5M221.3 67.0h0.5M234.6 69.0h0.5M244.2 66.7h0.5M213.5 67.0h0.5M233.2 68.1h0.5M227.2 68.5h0.5M217.9 66.9h0.5M242.6 66.7h0.5M236.5 68.3h0.5M234.0 68.1h0.5M240.3 67.4h0.5M218.0 67.9h0.5M216.7 67.8h0.5M245.3 66.9h0.5M222.3 66.6h0.5M224.0 67.7h0.5M221.4 67.6h0.5M235.9 67.9h0.5M242.0 67.7h0.5M220.5 66.5h0.5M250.4 68.7h0.5M213.7 68.2h0.5M218.8 70.0h0.5M220.5 68.7h0.5M215.9 68.2h0.5M228.2 66.8h0.5M211.4 67.4h0.5M209.4 68.2h0.5M226.5 67.7h0.5M221.9 67.2h0.5M243.1 68.2h0.5M219.4 67.7h0.5M219.9 67.9h0.5M225.1 65.8h0.5M225.8 67.4h0.5M215.5 67.6h0.5M238.0 67.2h0.5M226.4 67.3h0.5M236.6 66.3h0.5M236.0 67.3h0.5M225.1 66.8h0.5M227.9 67.7h0.5M229.1 67.9h0.5M209.9 67.0h0.5M230.5 67.8h0.5M216.5 65.6h0.5M213.7 66.7h0.5M221.0 66.3h0.5M225.5 67.4h0.5M212.5 67.2h0.5M245.6 66.4h0.5M223.2 67.7h0.5M212.0 68.5h0.5M229.0 67.3h0.5M224.9 66.7h0.5M219.4 68.0h0.5M221.5 66.4h0.5M233.4 65.7h0.5M231.2 67.8h0.5M223.8 67.3h0.5M233.7 69.5h0.5M228.5 66.8h0.5M219.2 66.8h0.5M243.7 67.1h0.5M234.3 68.3h0.5M231.5 68.3h0.5M236.6 67.5h0.5M214.3 68.2h0.5M222.3 67.8h0.5M216.3 68.6h0.5M231.8 66.4h0.5M227.6 67.0h0.5M232.6 67.4h0.5M227.9 67.0h0.5M220.0 65.4h0.5M225.8 65.9h0.5M218.6 67.7h0.5M210.4 68.6h0.5M232.7 66.6h0.5M222.7 68.8h0.5M240.6 67.5h0.5M222.7 67.2h0.5M240.4 66.5h0.5M229.6 69.2h0.5M223.7 66.9h0.5M235.8 67.5h0.5" stroke="#ff20d0" stroke-width="0.5" opacity="0.6"/>
<path d="M200.5 70.0 C210 68.8, 225 67.0, 238.7 65.8 L238.7 75.0 L200.5 75.0 Z" fill="url(#magL)" filter="url(#bl2)"/>
<path d="M211 68.6 C220 67.8, 230 66.8, 238.7 66.2 L238.7 74.9 L211 74.9 Z" fill="#fc20cc"/>
<rect x="238.8" y="65.8" width="3.6" height="10.6" fill="#222" filter="url(#bl)"/>
<path d="M197.8 75.3H238.3M238.3 53.4V104.2M242.4 53.4V104.2" stroke="#666" stroke-width="0.75"/>
<rect x="197.8" y="53.4" width="64.19999999999999" height="50.800000000000004" fill="none" stroke="#000" stroke-width="0.9"/>
<path d="M195.40 57.00H197.8M195.40 67.00H197.8M195.40 77.00H197.8M195.40 85.00H197.8M195.40 96.00H197.8" stroke="#000" stroke-width="0.8"/>
<path d="M196.20 60.00H197.8M196.20 62.00H197.8M196.20 64.00H197.8M196.20 70.00H197.8M196.20 72.00H197.8M196.20 74.00H197.8M196.20 80.00H197.8M196.20 82.00H197.8M196.20 88.00H197.8M196.20 90.00H197.8M196.20 92.00H197.8M196.20 99.00H197.8M196.20 101.00H197.8" stroke="#000" stroke-width="0.6"/>
<path d="M198.40 104.2V106.60M205.00 104.2V106.60M220.00 104.2V106.60M236.00 104.2V106.60M249.00 104.2V106.60M257.00 104.2V106.60" stroke="#000" stroke-width="0.8"/>
<path d="M201.00 104.2V105.70M203.00 104.2V105.70M208.00 104.2V105.70M210.00 104.2V105.70M212.00 104.2V105.70M214.00 104.2V105.70M216.00 104.2V105.70M223.00 104.2V105.70M225.00 104.2V105.70M227.00 104.2V105.70M229.00 104.2V105.70M231.00 104.2V105.70M239.00 104.2V105.70M241.00 104.2V105.70M243.00 104.2V105.70M245.00 104.2V105.70M251.00 104.2V105.70M253.00 104.2V105.70M255.00 104.2V105.70" stroke="#000" stroke-width="0.6"/>
<line x1="64.3" y1="59.7" x2="74.66" y2="59.7" stroke="#000" stroke-width="1.3"/>
<polygon points="79.6,59.7 74.66,62.36 74.66,57.040000000000006" fill="#000"/>
<line x1="64.3" y1="95.7" x2="74.66" y2="95.7" stroke="#000" stroke-width="1.3"/>
<polygon points="79.6,95.7 74.66,98.36 74.66,93.04" fill="#000"/>
<text x="73.6" y="82.4" font-size="8.4" text-anchor="middle" font-weight="normal" fill="#000" >or</text>
<line x1="15.1" y1="93.5" x2="15.1" y2="68.24" stroke="#000" stroke-width="1.3"/>
<polygon points="15.1,63.3 17.759999999999998,68.24 12.44,68.24" fill="#000"/>
<g transform="translate(17.4,109.6) rotate(-90)">
<text x="0" y="0" font-size="8.8" text-anchor="middle" font-weight="normal" fill="#000" textLength="23.5" lengthAdjust="spacingAndGlyphs" >Thy1.2</text>
</g>
<text x="20.0" y="133.2" font-size="8.8" text-anchor="start" font-weight="normal" fill="#000" textLength="22.4" lengthAdjust="spacingAndGlyphs" >Thy1.1</text>
<line x1="44.6" y1="130.0" x2="63.260000000000005" y2="130.0" stroke="#000" stroke-width="1.3"/>
<polygon points="68.2,130.0 63.260000000000005,132.66 63.260000000000005,127.34" fill="#000"/>
<g transform="translate(91.3,97.3) rotate(-90)">
<text x="0" y="0" font-size="8.8" text-anchor="middle" font-weight="normal" fill="#000" textLength="16.5" lengthAdjust="spacingAndGlyphs" >CD4</text>
</g>
<line x1="88.8" y1="86.5" x2="88.8" y2="59.94" stroke="#000" stroke-width="1.3"/>
<polygon points="88.8,55.0 91.46,59.94 86.14,59.94" fill="#000"/>
<text x="97.0" y="115.9" font-size="8.8" text-anchor="start" font-weight="normal" fill="#000" textLength="16.3" lengthAdjust="spacingAndGlyphs" >CD3</text>
<line x1="115.9" y1="114.0" x2="138.06" y2="114.0" stroke="#000" stroke-width="1.3"/>
<polygon points="143.0,114.0 138.06,116.66 138.06,111.34" fill="#000"/>
<line x1="165.9" y1="81.7" x2="178.26" y2="81.7" stroke="#000" stroke-width="1.3"/>
<polygon points="183.2,81.7 178.26,84.36 178.26,79.04" fill="#000"/>
<g transform="translate(191.6,92.4) rotate(-90)">
<text x="0" y="0" font-size="9.2" text-anchor="middle" font-weight="normal" fill="#000" textLength="24.2" lengthAdjust="spacingAndGlyphs" >CD62L</text>
</g>
<line x1="188.7" y1="80.5" x2="188.7" y2="57.94" stroke="#000" stroke-width="1.3"/>
<polygon points="188.7,53.0 191.35999999999999,57.94 186.04,57.94" fill="#000"/>
<text x="197.1" y="116.6" font-size="9.2" text-anchor="start" font-weight="normal" fill="#000" textLength="21.7" lengthAdjust="spacingAndGlyphs" >CD44</text>
<line x1="220.9" y1="113.0" x2="241.86" y2="113.0" stroke="#000" stroke-width="1.3"/>
<polygon points="246.8,113.0 241.86,115.66 241.86,110.34" fill="#000"/>
<defs><linearGradient id="dmg" x1="0" x2="0" y1="0" y2="1"><stop offset="0" stop-color="#2c2c2c"/><stop offset="0.55" stop-color="#3a3836"/><stop offset="1" stop-color="#5e5955"/></linearGradient><linearGradient id="wmg" x1="0" x2="0" y1="0" y2="1"><stop offset="0" stop-color="#fbfbfb"/><stop offset="0.55" stop-color="#f2f2f2"/><stop offset="1" stop-color="#cfcfcf"/></linearGradient></defs>
<g transform="translate(-1.8,-75.4)"><path d="M291.5 111 C286 107.8, 281 106.6, 276.8 106.6 C271 106.6, 266 107.6, 262.8 108.8" fill="none" stroke="#d4b2a2" stroke-width="1.1" stroke-linecap="round"/><path d="M292.3 114.8 C290.6 112.5, 290.5 107.5, 292 104.5 C293.5 101.2, 297 99.2, 301 98.9 C305 98.7, 308.5 99.4, 311.2 100.6 C313.8 101.8, 315.6 103.6, 317.2 105.3 C318.7 106.8, 320.6 107.8, 321.1 108.8 C320.6 109.9, 319 110.5, 317.3 110.8 C315.6 111.5, 313.6 113.2, 311.8 114.5 C308.5 116, 303 116.3, 299 116 C296 115.8, 293.6 115.6, 292.3 114.8 Z" fill="url(#dmg)"/><ellipse cx="301" cy="113" rx="8" ry="2.4" fill="#6e6862" opacity="0.35" filter="url(#bl)"/><ellipse cx="298" cy="104" rx="5" ry="3" fill="#5a5a5a" opacity="0.3" filter="url(#bl)"/><ellipse cx="316" cy="107.5" rx="4" ry="2.6" fill="#1e1e1e" opacity="0.6"/><ellipse cx="309.6" cy="106.3" rx="2.6" ry="2.9" fill="#9c8070"/><ellipse cx="309.9" cy="106.6" rx="1.8" ry="2.0" fill="#c9a797"/><ellipse cx="312.3" cy="100.4" rx="1.4" ry="1.4" fill="#c4a08e"/><circle cx="319.9" cy="108.9" r="0.9" fill="#c47e72"/><ellipse cx="295.2" cy="116.1" rx="1.9" ry="0.7" fill="#d9b2a2"/><ellipse cx="310.6" cy="116.0" rx="1.9" ry="0.7" fill="#d9b2a2"/></g>
<g transform="translate(0,0)"><path d="M291.5 111 C286 107.8, 281 106.6, 276.8 106.6 C271 106.6, 266 107.6, 262.8 108.8" fill="none" stroke="#d4b2a2" stroke-width="1.1" stroke-linecap="round"/><path d="M292.3 114.8 C290.6 112.5, 290.5 107.5, 292 104.5 C293.5 101.2, 297 99.2, 301 98.9 C305 98.7, 308.5 99.4, 311.2 100.6 C313.8 101.8, 315.6 103.6, 317.2 105.3 C318.7 106.8, 320.6 107.8, 321.1 108.8 C320.6 109.9, 319 110.5, 317.3 110.8 C315.6 111.5, 313.6 113.2, 311.8 114.5 C308.5 116, 303 116.3, 299 116 C296 115.8, 293.6 115.6, 292.3 114.8 Z" fill="url(#dmg)"/><ellipse cx="301" cy="113" rx="8" ry="2.4" fill="#6e6862" opacity="0.35" filter="url(#bl)"/><ellipse cx="298" cy="104" rx="5" ry="3" fill="#5a5a5a" opacity="0.3" filter="url(#bl)"/><ellipse cx="316" cy="107.5" rx="4" ry="2.6" fill="#1e1e1e" opacity="0.6"/><ellipse cx="309.6" cy="106.3" rx="2.6" ry="2.9" fill="#9c8070"/><ellipse cx="309.9" cy="106.6" rx="1.8" ry="2.0" fill="#c9a797"/><ellipse cx="312.3" cy="100.4" rx="1.4" ry="1.4" fill="#c4a08e"/><circle cx="319.9" cy="108.9" r="0.9" fill="#c47e72"/><ellipse cx="295.2" cy="116.1" rx="1.9" ry="0.7" fill="#d9b2a2"/><ellipse cx="310.6" cy="116.0" rx="1.9" ry="0.7" fill="#d9b2a2"/></g>
<path d="M352.8 76.6 C350 74.5, 347.5 72.5, 345.8 70.8 C344.8 69.8, 344 68.8, 343.5 68.5" fill="none" stroke="#e38a8a" stroke-width="0.8" stroke-linecap="round"/>
<path d="M343.5 68.5 C341 66.8, 338.5 65.5, 336.8 65.6 C335.2 65.8, 334 66.8, 333.3 68.6" fill="none" stroke="#e59a9a" stroke-width="0.75" stroke-linecap="round"/>
<path d="M353.3 81.2 C351.6 79.3, 351.4 76, 352.8 73.4 C354.5 70.5, 358 68.6, 362 68.4 C366 68.3, 370 69.5, 373 71 C375.5 72, 378 72.2, 380 73.5 C382 75, 384 77.3, 385.7 79.2 C385 80.3, 383.5 80.6, 382 80.9 C380 81.6, 378 82.3, 375 82.6 C371 83.1, 366 83.2, 361 83 C357.5 82.9, 354.8 82.3, 353.3 81.2 Z" fill="url(#wmg)" stroke="#cfcfcf" stroke-width="0.45"/>
<ellipse cx="366" cy="81" rx="11" ry="1.8" fill="#a8a8a8" opacity="0.45" filter="url(#bl2)"/>
<ellipse cx="357" cy="77" rx="3.5" ry="4" fill="#c8c8c8" opacity="0.35" filter="url(#bl)"/>
<ellipse cx="379" cy="78.8" rx="4" ry="2" fill="#d0d0d0" opacity="0.45"/>
<path d="M371 72.5 C373 74, 374 77, 373 80" fill="none" stroke="#cfcfcf" stroke-width="0.5"/>
<ellipse cx="377.9" cy="69.9" rx="1.5" ry="1.7" fill="#f4eeee" stroke="#e2d4d4" stroke-width="0.35"/>
<ellipse cx="375.2" cy="75.5" rx="1.3" ry="1.4" fill="#d65a5a" opacity="0.85"/><circle cx="380.9" cy="77.6" r="0.8" fill="#cc2222"/><circle cx="384.6" cy="79.3" r="0.8" fill="#e8a0a0"/>
<ellipse cx="359.7" cy="82.9" rx="1.9" ry="0.7" fill="#e6a39a"/><ellipse cx="374.8" cy="82.5" rx="1.9" ry="0.7" fill="#e6a39a"/>
<text x="337.5" y="21.3" font-size="9.9" text-anchor="start" font-weight="normal" fill="#000" textLength="37.5" lengthAdjust="spacingAndGlyphs" stroke="#000" stroke-width="0.08">C57BL/6</text>
<line x1="378.0" y1="17.5" x2="391.19" y2="17.5" stroke="#000" stroke-width="1.3"/>
<polygon points="396.0,17.5 391.19,20.09 391.19,14.91" fill="#000"/>
<text x="398.0" y="21.3" font-size="9.9" text-anchor="start" font-weight="normal" fill="#000" textLength="34.0" lengthAdjust="spacingAndGlyphs" stroke="#000" stroke-width="0.08">BALB/C</text>
<text x="300.5" y="53.0" font-size="7.2" text-anchor="middle" font-weight="normal" fill="#000" stroke="#000" stroke-width="0.12">10<tspan font-size="6.2" baseline-shift="3">7</tspan> CD45.1<tspan font-size="6.2" baseline-shift="3">+</tspan></text>
<text x="300.2" y="60.8" font-size="7.6" text-anchor="middle" font-weight="normal" fill="#000" textLength="27" lengthAdjust="spacingAndGlyphs" stroke="#000" stroke-width="0.12">TCD BM</text>
<path d="M324.2 36.9 H334.3 V57" fill="none" stroke="#000" stroke-width="1.3"/>
<polygon points="334.3,61.8 331.5,56.6 337.1,56.6" fill="#000"/>
<path d="M302.7 95.4 V77.7 H334" fill="none" stroke="#000" stroke-width="1.3"/>
<polygon points="338.8,77.7 333.4,74.9 333.4,80.5" fill="#000"/>
<text x="301.2" y="129.2" font-size="7.2" text-anchor="middle" font-weight="normal" fill="#000" stroke="#000" stroke-width="0.12">10<tspan font-size="6.2" baseline-shift="3">6</tspan> CD45.2<tspan font-size="6.2" baseline-shift="3">+</tspan> CD3<tspan font-size="6.2" baseline-shift="3">+</tspan> cells</text>
<text x="300.7" y="136.8" font-size="7.6" text-anchor="middle" font-weight="normal" fill="#000" textLength="56.7" lengthAdjust="spacingAndGlyphs" stroke="#000" stroke-width="0.12">from spleen/CLNs</text>
<text x="300.8" y="145.2" font-size="7.2" text-anchor="middle" font-weight="normal" fill="#000" textLength="88.4" lengthAdjust="spacingAndGlyphs" stroke="#000" stroke-width="0.12">(mix of Thy1.1<tspan font-size="6.2" baseline-shift="3">+</tspan> and Thy1.2<tspan font-size="6.2" baseline-shift="3">+</tspan>)</text>
<text x="368.6" y="95.2" font-size="7.5" text-anchor="middle" font-weight="normal" fill="#000" textLength="49.7" lengthAdjust="spacingAndGlyphs" stroke="#000" stroke-width="0.12">7.75 Gy TBI in 2</text>
<text x="368.4" y="103.0" font-size="7.5" text-anchor="middle" font-weight="normal" fill="#000" textLength="54.8" lengthAdjust="spacingAndGlyphs" stroke="#000" stroke-width="0.12">fractions on day 0</text>
<line x1="390.5" y1="80.0" x2="402.99" y2="80.0" stroke="#000" stroke-width="1.3"/>
<polygon points="407.8,80.0 402.99,82.59 402.99,77.41" fill="#000"/>
<text x="431.1" y="75.3" font-size="7.7" text-anchor="middle" font-weight="normal" fill="#000" textLength="23.1" lengthAdjust="spacingAndGlyphs" stroke="#000" stroke-width="0.12">PBS or</text>
<text x="430.8" y="83.4" font-size="7.7" text-anchor="middle" font-weight="normal" fill="#000" textLength="40.8" lengthAdjust="spacingAndGlyphs" stroke="#000" stroke-width="0.12">Cy 33 mg/kg</text>
<text x="431.0" y="91.6" font-size="7.7" text-anchor="middle" font-weight="normal" fill="#000" textLength="48.9" lengthAdjust="spacingAndGlyphs" stroke="#000" stroke-width="0.12">days +3 and +4</text>
<line x1="455.4" y1="80.0" x2="468.39" y2="80.0" stroke="#000" stroke-width="1.3"/>
<polygon points="473.2,80.0 468.39,82.59 468.39,77.41" fill="#000"/>
<text x="494.0" y="73.4" font-size="7.7" text-anchor="middle" font-weight="normal" fill="#000" textLength="28.9" lengthAdjust="spacingAndGlyphs" stroke="#000" stroke-width="0.12">Serial tail</text>
<text x="494.3" y="81.6" font-size="7.7" text-anchor="middle" font-weight="normal" fill="#000" textLength="37.3" lengthAdjust="spacingAndGlyphs" stroke="#000" stroke-width="0.12">bleedings or</text>
<text x="494.0" y="89.9" font-size="7.7" text-anchor="middle" font-weight="normal" fill="#000" textLength="38.0" lengthAdjust="spacingAndGlyphs" stroke="#000" stroke-width="0.12">takedown at</text>
<text x="494.0" y="98.1" font-size="7.7" text-anchor="middle" font-weight="normal" fill="#000" textLength="26.5" lengthAdjust="spacingAndGlyphs" stroke="#000" stroke-width="0.12">day +28</text>
</svg></body></html>
